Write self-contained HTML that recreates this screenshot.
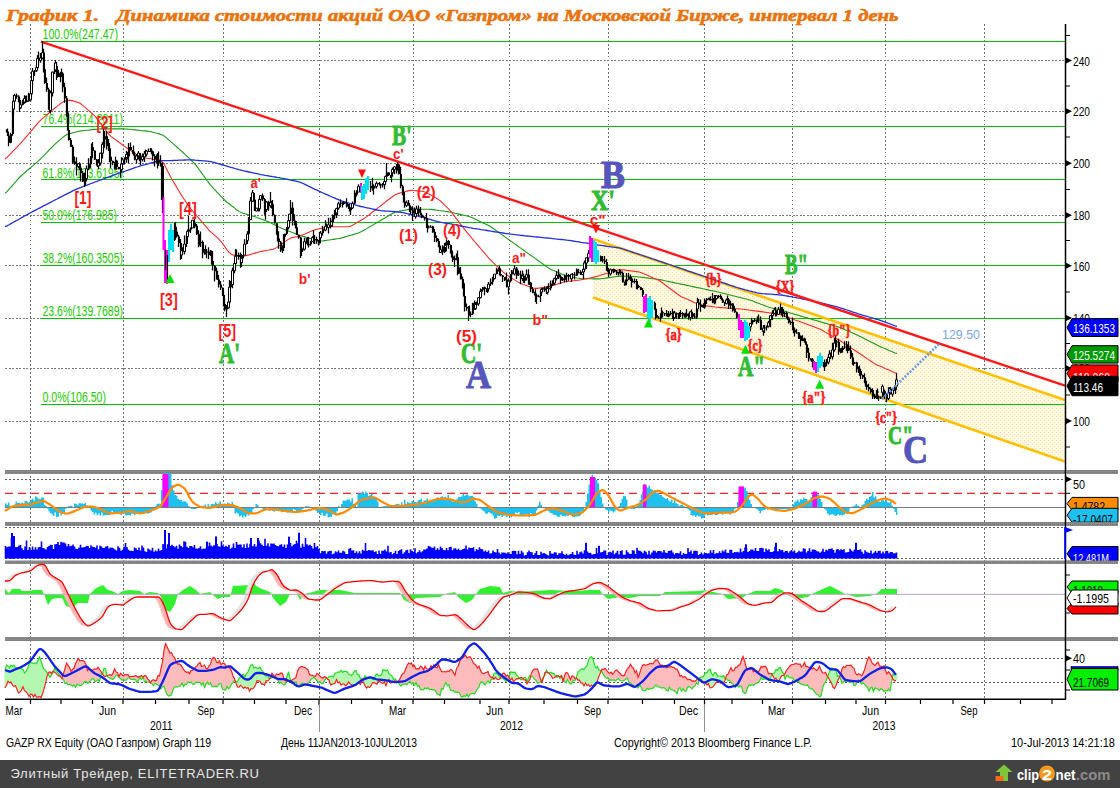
<!DOCTYPE html><html><head><meta charset="utf-8"><style>html,body{margin:0;padding:0;background:#fff;overflow:hidden}svg{display:block}</style></head><body>
<svg width="1120" height="788" viewBox="0 0 1120 788" shape-rendering="auto">
<defs><pattern id="dots" width="4" height="4" patternUnits="userSpaceOnUse"><rect width="4" height="4" fill="#fffbd8"/><rect x="0" y="0" width="1" height="1" fill="#ffcccc"/><rect x="2" y="2" width="1" height="1" fill="#ffd4ec"/></pattern><pattern id="gbar" width="2" height="2" patternUnits="userSpaceOnUse"><rect width="2" height="2" fill="#8a8a8a"/><rect width="1" height="1" fill="#777"/></pattern><pattern id="pinkp" width="2" height="2" patternUnits="userSpaceOnUse"><rect width="2" height="2" fill="#ffc8c8"/><rect width="1" height="1" fill="#ff9c9c"/></pattern><pattern id="greenp" width="2" height="2" patternUnits="userSpaceOnUse"><rect width="2" height="2" fill="#b8ffb0"/><rect width="1" height="1" fill="#88ee80"/></pattern></defs>
<rect width="1120" height="788" fill="#ffffff"/>
<text x="6.0" y="20.8" font-family='"Liberation Serif", serif' font-size="16.5" fill="#e8740e" font-weight="bold" font-style="italic" text-anchor="start" textLength="93.0" lengthAdjust="spacingAndGlyphs" stroke="#e8740e" stroke-width="0.6">График 1.</text>
<text x="116.5" y="20.8" font-family='"Liberation Serif", serif' font-size="16.5" fill="#e8740e" font-weight="bold" font-style="italic" text-anchor="start" textLength="782.0" lengthAdjust="spacingAndGlyphs" stroke="#e8740e" stroke-width="0.6">Динамика стоимости акций ОАО «Газпром» на Московской Бирже, интервал 1 день</text>
<line x1="30.5" y1="24" x2="30.5" y2="699" stroke="#707070" stroke-width="1" stroke-dasharray="1.5 2.5" shape-rendering="crispEdges"/><line x1="123.5" y1="24" x2="123.5" y2="699" stroke="#707070" stroke-width="1" stroke-dasharray="1.5 2.5" shape-rendering="crispEdges"/><line x1="223.5" y1="24" x2="223.5" y2="699" stroke="#707070" stroke-width="1" stroke-dasharray="1.5 2.5" shape-rendering="crispEdges"/><line x1="319.5" y1="24" x2="319.5" y2="699" stroke="#707070" stroke-width="1" stroke-dasharray="1.5 2.5" shape-rendering="crispEdges"/><line x1="413.5" y1="24" x2="413.5" y2="699" stroke="#707070" stroke-width="1" stroke-dasharray="1.5 2.5" shape-rendering="crispEdges"/><line x1="509.5" y1="24" x2="509.5" y2="699" stroke="#707070" stroke-width="1" stroke-dasharray="1.5 2.5" shape-rendering="crispEdges"/><line x1="608.5" y1="24" x2="608.5" y2="699" stroke="#707070" stroke-width="1" stroke-dasharray="1.5 2.5" shape-rendering="crispEdges"/><line x1="704.5" y1="24" x2="704.5" y2="699" stroke="#707070" stroke-width="1" stroke-dasharray="1.5 2.5" shape-rendering="crispEdges"/><line x1="792.5" y1="24" x2="792.5" y2="699" stroke="#707070" stroke-width="1" stroke-dasharray="1.5 2.5" shape-rendering="crispEdges"/><line x1="885.5" y1="24" x2="885.5" y2="699" stroke="#707070" stroke-width="1" stroke-dasharray="1.5 2.5" shape-rendering="crispEdges"/><line x1="984.5" y1="24" x2="984.5" y2="699" stroke="#707070" stroke-width="1" stroke-dasharray="1.5 2.5" shape-rendering="crispEdges"/><line x1="5" y1="60.5" x2="1065" y2="60.5" stroke="#7a7a7a" stroke-width="1" stroke-dasharray="2 1.5" shape-rendering="crispEdges"/><line x1="5" y1="111.5" x2="1065" y2="111.5" stroke="#7a7a7a" stroke-width="1" stroke-dasharray="2 1.5" shape-rendering="crispEdges"/><line x1="5" y1="163.5" x2="1065" y2="163.5" stroke="#7a7a7a" stroke-width="1" stroke-dasharray="2 1.5" shape-rendering="crispEdges"/><line x1="5" y1="215.5" x2="1065" y2="215.5" stroke="#7a7a7a" stroke-width="1" stroke-dasharray="2 1.5" shape-rendering="crispEdges"/><line x1="5" y1="265.5" x2="1065" y2="265.5" stroke="#7a7a7a" stroke-width="1" stroke-dasharray="2 1.5" shape-rendering="crispEdges"/><line x1="5" y1="318.5" x2="1065" y2="318.5" stroke="#7a7a7a" stroke-width="1" stroke-dasharray="2 1.5" shape-rendering="crispEdges"/><line x1="5" y1="368.5" x2="1065" y2="368.5" stroke="#7a7a7a" stroke-width="1" stroke-dasharray="2 1.5" shape-rendering="crispEdges"/><line x1="5" y1="421.5" x2="1065" y2="421.5" stroke="#7a7a7a" stroke-width="1" stroke-dasharray="2 1.5" shape-rendering="crispEdges"/><line x1="5" y1="479.5" x2="1065" y2="479.5" stroke="#5a5a5a" stroke-width="1" stroke-dasharray="2 2" shape-rendering="crispEdges"/><line x1="5" y1="527.5" x2="1065" y2="527.5" stroke="#5a5a5a" stroke-width="1" stroke-dasharray="2 2" shape-rendering="crispEdges"/><line x1="5" y1="558.5" x2="1065" y2="558.5" stroke="#5a5a5a" stroke-width="1" stroke-dasharray="2 2" shape-rendering="crispEdges"/><line x1="5" y1="658.5" x2="1065" y2="658.5" stroke="#5a5a5a" stroke-width="1" stroke-dasharray="2 2" shape-rendering="crispEdges"/><line x1="5" y1="682.5" x2="1065" y2="682.5" stroke="#5a5a5a" stroke-width="1" stroke-dasharray="2 2" shape-rendering="crispEdges"/>
<polygon points="593,238.9 1065,400 1065,461.6 593,297.6" fill="url(#dots)"/>
<line x1="41" y1="41.5" x2="1065" y2="41.5" stroke="#00c000" stroke-width="1.2" shape-rendering="crispEdges"/>
<text x="42.5" y="39.3" font-family='"Liberation Sans", sans-serif' font-size="14.8" fill="#22cc00" font-weight="normal" font-style="normal" text-anchor="start" textLength="75.5" lengthAdjust="spacingAndGlyphs" >100.0%(247.47)</text>
<line x1="41" y1="126.5" x2="1065" y2="126.5" stroke="#00c000" stroke-width="1.2" shape-rendering="crispEdges"/>
<text x="42.5" y="124.4" font-family='"Liberation Sans", sans-serif' font-size="14.8" fill="#22cc00" font-weight="normal" font-style="normal" text-anchor="start" textLength="80.5" lengthAdjust="spacingAndGlyphs" >76.4%(214.2011)</text>
<line x1="41" y1="179.5" x2="1065" y2="179.5" stroke="#00c000" stroke-width="1.2" shape-rendering="crispEdges"/>
<text x="42.5" y="177.6" font-family='"Liberation Sans", sans-serif' font-size="14.8" fill="#22cc00" font-weight="normal" font-style="normal" text-anchor="start" textLength="80.5" lengthAdjust="spacingAndGlyphs" >61.8%(193.6195)</text>
<line x1="41" y1="222.5" x2="1065" y2="222.5" stroke="#00c000" stroke-width="1.2" shape-rendering="crispEdges"/>
<text x="42.5" y="220.2" font-family='"Liberation Sans", sans-serif' font-size="14.8" fill="#22cc00" font-weight="normal" font-style="normal" text-anchor="start" textLength="74.5" lengthAdjust="spacingAndGlyphs" >50.0%(176.985)</text>
<line x1="41" y1="265.5" x2="1065" y2="265.5" stroke="#00c000" stroke-width="1.2" shape-rendering="crispEdges"/>
<text x="42.5" y="263.4" font-family='"Liberation Sans", sans-serif' font-size="14.8" fill="#22cc00" font-weight="normal" font-style="normal" text-anchor="start" textLength="80.5" lengthAdjust="spacingAndGlyphs" >38.2%(160.3505)</text>
<line x1="41" y1="318.5" x2="1065" y2="318.5" stroke="#00c000" stroke-width="1.2" shape-rendering="crispEdges"/>
<text x="42.5" y="316.2" font-family='"Liberation Sans", sans-serif' font-size="14.8" fill="#22cc00" font-weight="normal" font-style="normal" text-anchor="start" textLength="80.5" lengthAdjust="spacingAndGlyphs" >23.6%(139.7689)</text>
<line x1="41" y1="404.5" x2="1065" y2="404.5" stroke="#00c000" stroke-width="1.2" shape-rendering="crispEdges"/>
<text x="42.5" y="402.1" font-family='"Liberation Sans", sans-serif' font-size="14.8" fill="#22cc00" font-weight="normal" font-style="normal" text-anchor="start" textLength="63.5" lengthAdjust="spacingAndGlyphs" >0.0%(106.50)</text>
<line x1="593" y1="238.9" x2="1065" y2="400" stroke="#ffc000" stroke-width="2.6"/>
<line x1="593" y1="297.6" x2="1065" y2="461.6" stroke="#ffc000" stroke-width="2.6"/>
<path d="M5.0,193.4 L7.0,191.7 L9.0,189.4 L11.0,187.1 L13.0,184.8 L15.0,182.5 L17.0,180.2 L19.0,178.0 L21.0,176.0 L23.0,174.2 L25.0,172.5 L27.0,170.7 L29.0,169.0 L31.0,167.3 L33.0,165.6 L35.0,163.8 L37.0,162.1 L39.0,160.3 L41.0,158.4 L43.0,156.4 L45.0,154.3 L47.0,152.3 L49.0,150.2 L51.0,148.1 L53.0,146.1 L55.0,144.1 L57.0,142.3 L59.0,140.6 L61.0,138.9 L63.0,137.2 L65.0,135.7 L67.0,134.6 L69.0,133.9 L71.0,133.4 L73.0,132.8 L75.0,132.3 L77.0,131.8 L79.0,131.3 L81.0,130.9 L83.0,130.7 L85.0,130.5 L87.0,130.3 L89.0,130.1 L91.0,129.8 L93.0,129.6 L95.0,129.4 L97.0,129.2 L99.0,129.0 L101.0,128.9 L103.0,128.9 L105.0,128.9 L107.0,128.9 L109.0,128.9 L111.0,128.9 L113.0,128.9 L115.0,128.9 L117.0,128.9 L119.0,128.9 L121.0,128.9 L123.0,128.9 L125.0,129.0 L127.0,129.1 L129.0,129.3 L131.0,129.5 L133.0,129.7 L135.0,129.9 L137.0,130.1 L139.0,130.3 L141.0,130.5 L143.0,130.7 L145.0,130.9 L147.0,131.1 L149.0,131.3 L151.0,131.7 L153.0,132.2 L155.0,132.8 L157.0,133.3 L159.0,133.9 L161.0,134.4 L163.0,135.3 L165.0,136.7 L167.0,138.4 L169.0,140.2 L171.0,141.9 L173.0,143.6 L175.0,145.3 L177.0,147.0 L179.0,148.8 L181.0,150.6 L183.0,152.5 L185.0,154.4 L187.0,156.3 L189.0,158.2 L191.0,160.2 L193.0,162.1 L195.0,164.2 L197.0,166.7 L199.0,169.5 L201.0,172.2 L203.0,175.0 L205.0,177.7 L207.0,180.5 L209.0,183.1 L211.0,185.6 L213.0,187.8 L215.0,189.9 L217.0,192.1 L219.0,194.2 L221.0,196.3 L223.0,198.5 L225.0,200.5 L227.0,202.2 L229.0,203.7 L231.0,205.3 L233.0,206.8 L235.0,208.4 L237.0,210.0 L239.0,211.4 L241.0,212.5 L243.0,213.2 L245.0,213.8 L247.0,214.4 L249.0,214.9 L251.0,215.5 L253.0,216.1 L255.0,216.7 L257.0,217.5 L259.0,218.2 L261.0,219.0 L263.0,219.8 L265.0,220.6 L267.0,221.3 L269.0,222.1 L271.0,223.0 L273.0,224.0 L275.0,224.9 L277.0,225.9 L279.0,226.9 L281.0,227.9 L283.0,228.8 L285.0,229.7 L287.0,230.6 L289.0,231.3 L291.0,232.1 L293.0,232.8 L295.0,233.6 L297.0,234.4 L299.0,235.1 L301.0,235.8 L303.0,236.4 L305.0,236.9 L307.0,237.5 L309.0,238.1 L311.0,238.7 L313.0,239.3 L315.0,239.9 L317.0,240.4 L319.0,240.9 L321.0,241.0 L323.0,240.9 L325.0,240.6 L327.0,240.3 L329.0,240.0 L331.0,239.7 L333.0,239.4 L335.0,239.1 L337.0,238.8 L339.0,238.5 L341.0,238.1 L343.0,237.5 L345.0,236.9 L347.0,236.3 L349.0,235.7 L351.0,235.2 L353.0,234.6 L355.0,234.0 L357.0,233.4 L359.0,232.7 L361.0,231.8 L363.0,230.7 L365.0,229.6 L367.0,228.4 L369.0,227.2 L371.0,226.1 L373.0,224.9 L375.0,223.7 L377.0,222.6 L379.0,221.4 L381.0,220.2 L383.0,219.0 L385.0,217.9 L387.0,216.7 L389.0,215.5 L391.0,214.3 L393.0,213.2 L395.0,212.2 L397.0,211.6 L399.0,211.3 L401.0,210.9 L403.0,210.5 L405.0,210.1 L407.0,209.8 L409.0,209.4 L411.0,209.2 L413.0,209.2 L415.0,209.2 L417.0,209.2 L419.0,209.2 L421.0,209.2 L423.0,209.2 L425.0,209.2 L427.0,209.2 L429.0,209.2 L431.0,209.4 L433.0,209.6 L435.0,209.9 L437.0,210.2 L439.0,210.5 L441.0,210.7 L443.0,211.0 L445.0,211.3 L447.0,211.6 L449.0,211.9 L451.0,212.3 L453.0,212.7 L455.0,213.2 L457.0,213.6 L459.0,214.1 L461.0,214.6 L463.0,215.1 L465.0,215.5 L467.0,216.0 L469.0,216.5 L471.0,217.2 L473.0,218.1 L475.0,219.1 L477.0,220.0 L479.0,221.0 L481.0,221.9 L483.0,222.9 L485.0,223.8 L487.0,224.8 L489.0,225.8 L491.0,227.0 L493.0,228.3 L495.0,229.8 L497.0,231.2 L499.0,232.6 L501.0,234.1 L503.0,235.5 L505.0,236.9 L507.0,238.4 L509.0,239.8 L511.0,241.2 L513.0,242.6 L515.0,244.1 L517.0,245.5 L519.0,246.9 L521.0,248.4 L523.0,249.8 L525.0,251.2 L527.0,252.7 L529.0,254.1 L531.0,255.5 L533.0,256.9 L535.0,258.4 L537.0,259.8 L539.0,261.2 L541.0,262.6 L543.0,264.0 L545.0,265.5 L547.0,266.9 L549.0,268.2 L551.0,269.4 L553.0,270.3 L555.0,271.1 L557.0,272.0 L559.0,272.8 L561.0,273.7 L563.0,274.5 L565.0,275.3 L567.0,275.8 L569.0,276.3 L571.0,276.7 L573.0,277.1 L575.0,277.5 L577.0,278.0 L579.0,278.3 L581.0,278.6 L583.0,278.7 L585.0,278.7 L587.0,278.7 L589.0,278.8 L591.0,278.8 L593.0,278.9 L595.0,278.9 L597.0,278.9 L599.0,278.9 L601.0,278.8 L603.0,278.5 L605.0,278.2 L607.0,277.9 L609.0,277.6 L611.0,277.3 L613.0,277.0 L615.0,276.7 L617.0,276.4 L619.0,276.1 L621.0,276.0 L623.0,276.1 L625.0,276.2 L627.0,276.3 L629.0,276.4 L631.0,276.5 L633.0,276.6 L635.0,276.7 L637.0,276.8 L639.0,277.0 L641.0,277.2 L643.0,277.4 L645.0,277.7 L647.0,277.9 L649.0,278.2 L651.0,278.5 L653.0,278.8 L655.0,279.0 L657.0,279.3 L659.0,279.6 L661.0,279.9 L663.0,280.3 L665.0,280.8 L667.0,281.2 L669.0,281.6 L671.0,282.0 L673.0,282.4 L675.0,282.9 L677.0,283.3 L679.0,283.7 L681.0,284.1 L683.0,284.5 L685.0,284.9 L687.0,285.4 L689.0,285.8 L691.0,286.2 L693.0,286.6 L695.0,287.1 L697.0,287.5 L699.0,287.9 L701.0,288.3 L703.0,288.8 L705.0,289.2 L707.0,289.6 L709.0,290.1 L711.0,290.5 L713.0,290.9 L715.0,291.3 L717.0,291.8 L719.0,292.2 L721.0,292.7 L723.0,293.2 L725.0,293.7 L727.0,294.2 L729.0,294.7 L731.0,295.2 L733.0,295.7 L735.0,296.2 L737.0,296.7 L739.0,297.2 L741.0,297.7 L743.0,298.2 L745.0,298.7 L747.0,299.2 L749.0,299.8 L751.0,300.4 L753.0,301.1 L755.0,301.9 L757.0,302.7 L759.0,303.4 L761.0,304.2 L763.0,304.9 L765.0,305.7 L767.0,306.5 L769.0,307.2 L771.0,307.8 L773.0,308.3 L775.0,308.8 L777.0,309.3 L779.0,309.8 L781.0,310.3 L783.0,310.9 L785.0,311.4 L787.0,312.0 L789.0,312.6 L791.0,313.2 L793.0,313.8 L795.0,314.4 L797.0,314.9 L799.0,315.5 L801.0,316.1 L803.0,316.7 L805.0,317.3 L807.0,317.9 L809.0,318.5 L811.0,319.0 L813.0,319.6 L815.0,320.2 L817.0,320.8 L819.0,321.4 L821.0,322.0 L823.0,322.6 L825.0,323.1 L827.0,323.7 L829.0,324.3 L831.0,324.9 L833.0,325.5 L835.0,326.0 L837.0,326.6 L839.0,327.2 L841.0,328.0 L843.0,328.8 L845.0,329.7 L847.0,330.6 L849.0,331.5 L851.0,332.3 L853.0,333.2 L855.0,334.1 L857.0,335.0 L859.0,335.9 L861.0,336.8 L863.0,337.8 L865.0,338.9 L867.0,339.9 L869.0,340.9 L871.0,341.9 L873.0,342.9 L875.0,343.9 L877.0,345.0 L879.0,346.0 L881.0,346.9 L883.0,347.8 L885.0,348.6 L887.0,349.5 L889.0,350.4 L891.0,351.2 L893.0,352.1 L895.0,352.9 L897.0,353.6" fill="none" stroke="#1a9a1a" stroke-width="1.1"/>
<path d="M5.0,159.0 L7.0,157.4 L9.0,155.4 L11.0,153.3 L13.0,151.2 L15.0,149.2 L17.0,147.1 L19.0,145.0 L21.0,142.8 L23.0,140.5 L25.0,138.2 L27.0,135.8 L29.0,133.5 L31.0,131.1 L33.0,128.8 L35.0,126.4 L37.0,124.1 L39.0,121.9 L41.0,119.8 L43.0,118.1 L45.0,116.4 L47.0,114.7 L49.0,113.0 L51.0,111.4 L53.0,109.7 L55.0,108.0 L57.0,106.4 L59.0,104.9 L61.0,103.3 L63.0,101.9 L65.0,101.0 L67.0,100.5 L69.0,100.3 L71.0,100.4 L73.0,100.9 L75.0,101.5 L77.0,102.1 L79.0,102.8 L81.0,104.0 L83.0,105.6 L85.0,107.3 L87.0,109.1 L89.0,110.8 L91.0,112.5 L93.0,114.3 L95.0,116.2 L97.0,118.6 L99.0,121.3 L101.0,123.9 L103.0,126.6 L105.0,129.2 L107.0,131.8 L109.0,134.3 L111.0,136.4 L113.0,138.0 L115.0,139.4 L117.0,140.8 L119.0,142.3 L121.0,143.7 L123.0,145.2 L125.0,146.6 L127.0,148.0 L129.0,149.4 L131.0,150.8 L133.0,152.1 L135.0,153.5 L137.0,154.9 L139.0,156.2 L141.0,157.0 L143.0,157.5 L145.0,157.8 L147.0,158.2 L149.0,158.5 L151.0,158.8 L153.0,159.2 L155.0,159.5 L157.0,159.6 L159.0,159.8 L161.0,160.4 L163.0,162.5 L165.0,165.9 L167.0,169.9 L169.0,173.8 L171.0,177.5 L173.0,181.0 L175.0,184.4 L177.0,187.8 L179.0,191.2 L181.0,194.4 L183.0,197.5 L185.0,200.5 L187.0,203.5 L189.0,206.4 L191.0,209.1 L193.0,211.5 L195.0,213.8 L197.0,216.1 L199.0,218.4 L201.0,220.8 L203.0,223.1 L205.0,225.4 L207.0,227.8 L209.0,230.1 L211.0,232.1 L213.0,233.9 L215.0,235.7 L217.0,237.4 L219.0,239.3 L221.0,241.5 L223.0,244.2 L225.0,247.0 L227.0,249.8 L229.0,252.3 L231.0,254.0 L233.0,254.9 L235.0,255.4 L237.0,255.9 L239.0,256.0 L241.0,256.0 L243.0,256.0 L245.0,255.9 L247.0,255.4 L249.0,254.9 L251.0,254.3 L253.0,253.7 L255.0,253.1 L257.0,252.6 L259.0,252.0 L261.0,251.5 L263.0,251.1 L265.0,250.7 L267.0,250.3 L269.0,250.0 L271.0,249.6 L273.0,249.2 L275.0,248.5 L277.0,247.4 L279.0,245.9 L281.0,244.5 L283.0,243.0 L285.0,241.6 L287.0,240.2 L289.0,238.9 L291.0,237.9 L293.0,237.4 L295.0,237.0 L297.0,236.6 L299.0,236.1 L301.0,235.5 L303.0,234.7 L305.0,233.9 L307.0,233.0 L309.0,232.2 L311.0,231.3 L313.0,230.5 L315.0,229.7 L317.0,229.2 L319.0,228.8 L321.0,228.4 L323.0,228.1 L325.0,227.7 L327.0,227.3 L329.0,226.9 L331.0,226.7 L333.0,226.7 L335.0,226.7 L337.0,226.7 L339.0,226.7 L341.0,226.7 L343.0,226.7 L345.0,226.7 L347.0,226.7 L349.0,226.6 L351.0,226.0 L353.0,225.0 L355.0,223.8 L357.0,222.6 L359.0,221.5 L361.0,220.3 L363.0,219.2 L365.0,217.9 L367.0,216.4 L369.0,214.9 L371.0,213.3 L373.0,211.8 L375.0,210.2 L377.0,208.6 L379.0,207.1 L381.0,205.5 L383.0,204.0 L385.0,202.4 L387.0,200.8 L389.0,199.3 L391.0,197.7 L393.0,196.2 L395.0,194.8 L397.0,194.0 L399.0,193.4 L401.0,192.8 L403.0,192.3 L405.0,191.7 L407.0,191.1 L409.0,190.6 L411.0,190.4 L413.0,190.5 L415.0,190.7 L417.0,190.9 L419.0,191.1 L421.0,191.3 L423.0,191.5 L425.0,191.9 L427.0,192.9 L429.0,194.0 L431.0,195.2 L433.0,196.3 L435.0,197.5 L437.0,198.7 L439.0,199.9 L441.0,201.5 L443.0,203.4 L445.0,205.4 L447.0,207.3 L449.0,209.4 L451.0,211.7 L453.0,214.3 L455.0,216.9 L457.0,219.6 L459.0,222.2 L461.0,224.8 L463.0,227.4 L465.0,229.8 L467.0,232.3 L469.0,234.7 L471.0,237.1 L473.0,239.6 L475.0,242.0 L477.0,244.3 L479.0,246.7 L481.0,249.0 L483.0,251.3 L485.0,253.7 L487.0,256.0 L489.0,258.3 L491.0,260.4 L493.0,262.4 L495.0,264.3 L497.0,266.2 L499.0,268.1 L501.0,270.0 L503.0,271.9 L505.0,273.6 L507.0,275.1 L509.0,276.3 L511.0,277.6 L513.0,278.9 L515.0,280.1 L517.0,281.4 L519.0,282.6 L521.0,283.6 L523.0,284.4 L525.0,285.1 L527.0,285.8 L529.0,286.5 L531.0,287.3 L533.0,288.0 L535.0,288.4 L537.0,288.4 L539.0,288.1 L541.0,287.8 L543.0,287.5 L545.0,287.2 L547.0,286.9 L549.0,286.6 L551.0,286.1 L553.0,285.5 L555.0,284.9 L557.0,284.3 L559.0,283.6 L561.0,283.0 L563.0,282.3 L565.0,281.8 L567.0,281.5 L569.0,281.2 L571.0,281.0 L573.0,280.8 L575.0,280.6 L577.0,280.3 L579.0,280.1 L581.0,279.8 L583.0,279.4 L585.0,279.0 L587.0,278.6 L589.0,278.2 L591.0,277.8 L593.0,277.4 L595.0,276.9 L597.0,276.4 L599.0,275.7 L601.0,275.1 L603.0,274.4 L605.0,273.8 L607.0,273.2 L609.0,272.5 L611.0,271.9 L613.0,271.4 L615.0,270.9 L617.0,270.3 L619.0,269.9 L621.0,269.7 L623.0,269.9 L625.0,270.1 L627.0,270.4 L629.0,270.6 L631.0,270.9 L633.0,271.1 L635.0,271.4 L637.0,271.6 L639.0,272.0 L641.0,272.5 L643.0,273.4 L645.0,274.2 L647.0,275.1 L649.0,276.1 L651.0,277.0 L653.0,277.9 L655.0,278.8 L657.0,279.6 L659.0,280.6 L661.0,281.8 L663.0,283.2 L665.0,284.8 L667.0,286.2 L669.0,287.8 L671.0,289.2 L673.0,290.8 L675.0,292.2 L677.0,293.8 L679.0,295.2 L681.0,296.4 L683.0,297.4 L685.0,298.2 L687.0,299.1 L689.0,300.1 L691.0,301.0 L693.0,301.9 L695.0,302.8 L697.0,303.6 L699.0,304.5 L701.0,305.0 L703.0,305.4 L705.0,305.6 L707.0,305.9 L709.0,306.2 L711.0,306.4 L713.0,306.7 L715.0,307.0 L717.0,307.2 L719.0,307.5 L721.0,307.6 L723.0,307.8 L725.0,307.9 L727.0,308.1 L729.0,308.2 L731.0,308.3 L733.0,308.4 L735.0,308.6 L737.0,308.7 L739.0,308.9 L741.0,309.0 L743.0,309.3 L745.0,309.5 L747.0,309.8 L749.0,310.1 L751.0,310.3 L753.0,310.6 L755.0,310.9 L757.0,311.1 L759.0,311.4 L761.0,311.6 L763.0,311.9 L765.0,312.2 L767.0,312.5 L769.0,312.8 L771.0,313.1 L773.0,313.4 L775.0,313.7 L777.0,314.0 L779.0,314.3 L781.0,314.8 L783.0,315.5 L785.0,316.2 L787.0,317.0 L789.0,317.7 L791.0,318.4 L793.0,319.1 L795.0,319.9 L797.0,320.6 L799.0,321.3 L801.0,322.1 L803.0,322.8 L805.0,323.5 L807.0,324.3 L809.0,325.0 L811.0,325.7 L813.0,326.4 L815.0,327.2 L817.0,327.9 L819.0,328.7 L821.0,329.6 L823.0,330.7 L825.0,331.9 L827.0,333.1 L829.0,334.2 L831.0,335.4 L833.0,336.5 L835.0,337.7 L837.0,338.9 L839.0,340.0 L841.0,341.3 L843.0,342.6 L845.0,343.9 L847.0,345.2 L849.0,346.5 L851.0,347.9 L853.0,349.2 L855.0,350.5 L857.0,351.8 L859.0,353.1 L861.0,354.5 L863.0,355.8 L865.0,357.2 L867.0,358.6 L869.0,359.9 L871.0,361.3 L873.0,362.6 L875.0,363.9 L877.0,364.9 L879.0,365.7 L881.0,366.6 L883.0,367.5 L885.0,368.4 L887.0,369.2 L889.0,370.1 L891.0,371.0 L893.0,371.9 L895.0,372.7 L897.0,373.4" fill="none" stroke="#ff2a2a" stroke-width="1.1"/>
<path d="M5.0,226.7 L7.0,225.9 L9.0,224.8 L11.0,223.6 L13.0,222.5 L15.0,221.4 L17.0,220.3 L19.0,219.2 L21.0,218.0 L23.0,216.9 L25.0,215.8 L27.0,214.7 L29.0,213.6 L31.0,212.5 L33.0,211.4 L35.0,210.4 L37.0,209.4 L39.0,208.3 L41.0,207.3 L43.0,206.2 L45.0,205.2 L47.0,204.2 L49.0,203.1 L51.0,202.1 L53.0,201.0 L55.0,200.0 L57.0,199.0 L59.0,197.9 L61.0,196.9 L63.0,195.9 L65.0,194.8 L67.0,193.8 L69.0,192.8 L71.0,191.8 L73.0,190.7 L75.0,189.8 L77.0,188.9 L79.0,188.2 L81.0,187.4 L83.0,186.6 L85.0,185.8 L87.0,185.1 L89.0,184.3 L91.0,183.5 L93.0,182.8 L95.0,182.0 L97.0,181.3 L99.0,180.5 L101.0,179.8 L103.0,179.0 L105.0,178.3 L107.0,177.6 L109.0,176.8 L111.0,176.1 L113.0,175.3 L115.0,174.6 L117.0,173.9 L119.0,173.2 L121.0,172.5 L123.0,171.8 L125.0,171.2 L127.0,170.5 L129.0,169.8 L131.0,169.1 L133.0,168.4 L135.0,167.7 L137.0,167.0 L139.0,166.4 L141.0,165.7 L143.0,165.2 L145.0,164.7 L147.0,164.1 L149.0,163.6 L151.0,163.0 L153.0,162.5 L155.0,161.9 L157.0,161.4 L159.0,160.9 L161.0,160.7 L163.0,160.6 L165.0,160.6 L167.0,160.6 L169.0,160.6 L171.0,160.6 L173.0,160.5 L175.0,160.4 L177.0,160.3 L179.0,160.2 L181.0,160.2 L183.0,160.1 L185.0,160.0 L187.0,159.9 L189.0,159.9 L191.0,159.9 L193.0,160.0 L195.0,160.2 L197.0,160.3 L199.0,160.5 L201.0,160.6 L203.0,160.8 L205.0,160.9 L207.0,161.1 L209.0,161.3 L211.0,161.6 L213.0,162.2 L215.0,162.7 L217.0,163.3 L219.0,163.9 L221.0,164.5 L223.0,165.0 L225.0,165.6 L227.0,166.2 L229.0,166.8 L231.0,167.4 L233.0,167.9 L235.0,168.5 L237.0,169.1 L239.0,169.7 L241.0,170.2 L243.0,170.7 L245.0,171.1 L247.0,171.5 L249.0,172.0 L251.0,172.4 L253.0,172.9 L255.0,173.3 L257.0,173.7 L259.0,174.2 L261.0,174.6 L263.0,174.9 L265.0,175.3 L267.0,175.6 L269.0,176.0 L271.0,176.3 L273.0,176.7 L275.0,177.0 L277.0,177.4 L279.0,177.7 L281.0,178.1 L283.0,178.4 L285.0,178.8 L287.0,179.2 L289.0,179.7 L291.0,180.1 L293.0,180.5 L295.0,180.9 L297.0,181.4 L299.0,181.9 L301.0,182.6 L303.0,183.5 L305.0,184.4 L307.0,185.4 L309.0,186.4 L311.0,187.3 L313.0,188.3 L315.0,189.3 L317.0,190.2 L319.0,191.2 L321.0,192.1 L323.0,193.0 L325.0,193.9 L327.0,194.7 L329.0,195.6 L331.0,196.5 L333.0,197.4 L335.0,198.2 L337.0,199.1 L339.0,199.9 L341.0,200.7 L343.0,201.3 L345.0,201.9 L347.0,202.5 L349.0,203.1 L351.0,203.6 L353.0,204.2 L355.0,204.8 L357.0,205.4 L359.0,206.0 L361.0,206.5 L363.0,206.9 L365.0,207.4 L367.0,207.8 L369.0,208.2 L371.0,208.7 L373.0,209.1 L375.0,209.5 L377.0,210.0 L379.0,210.3 L381.0,210.6 L383.0,210.8 L385.0,211.0 L387.0,211.1 L389.0,211.2 L391.0,211.4 L393.0,211.5 L395.0,211.6 L397.0,211.8 L399.0,212.0 L401.0,212.3 L403.0,212.7 L405.0,213.1 L407.0,213.6 L409.0,214.0 L411.0,214.5 L413.0,214.9 L415.0,215.4 L417.0,215.8 L419.0,216.3 L421.0,216.8 L423.0,217.4 L425.0,217.9 L427.0,218.5 L429.0,219.1 L431.0,219.7 L433.0,220.3 L435.0,220.9 L437.0,221.4 L439.0,222.0 L441.0,222.4 L443.0,222.7 L445.0,223.0 L447.0,223.3 L449.0,223.6 L451.0,223.9 L453.0,224.3 L455.0,224.7 L457.0,225.1 L459.0,225.5 L461.0,226.0 L463.0,226.4 L465.0,226.8 L467.0,227.2 L469.0,227.6 L471.0,227.9 L473.0,228.3 L475.0,228.6 L477.0,228.9 L479.0,229.2 L481.0,229.6 L483.0,229.9 L485.0,230.2 L487.0,230.5 L489.0,230.8 L491.0,231.2 L493.0,231.5 L495.0,231.8 L497.0,232.1 L499.0,232.4 L501.0,232.7 L503.0,233.0 L505.0,233.3 L507.0,233.6 L509.0,233.9 L511.0,234.2 L513.0,234.4 L515.0,234.7 L517.0,234.9 L519.0,235.1 L521.0,235.3 L523.0,235.5 L525.0,235.8 L527.0,236.0 L529.0,236.2 L531.0,236.4 L533.0,236.6 L535.0,236.8 L537.0,237.0 L539.0,237.2 L541.0,237.4 L543.0,237.6 L545.0,237.8 L547.0,238.0 L549.0,238.2 L551.0,238.4 L553.0,238.6 L555.0,238.9 L557.0,239.1 L559.0,239.3 L561.0,239.5 L563.0,239.7 L565.0,239.9 L567.0,240.2 L569.0,240.4 L571.0,240.7 L573.0,241.0 L575.0,241.3 L577.0,241.6 L579.0,241.9 L581.0,242.3 L583.0,242.6 L585.0,242.9 L587.0,243.2 L589.0,243.5 L591.0,243.9 L593.0,244.2 L595.0,244.5 L597.0,244.8 L599.0,245.1 L601.0,245.4 L603.0,245.7 L605.0,246.0 L607.0,246.3 L609.0,246.6 L611.0,246.9 L613.0,247.2 L615.0,247.4 L617.0,247.6 L619.0,247.9 L621.0,248.4 L623.0,249.0 L625.0,249.7 L627.0,250.3 L629.0,251.0 L631.0,251.7 L633.0,252.3 L635.0,253.0 L637.0,253.7 L639.0,254.3 L641.0,255.0 L643.0,255.7 L645.0,256.3 L647.0,257.0 L649.0,257.7 L651.0,258.3 L653.0,259.0 L655.0,259.7 L657.0,260.4 L659.0,261.1 L661.0,261.7 L663.0,262.4 L665.0,263.1 L667.0,263.8 L669.0,264.5 L671.0,265.1 L673.0,265.8 L675.0,266.5 L677.0,267.2 L679.0,267.9 L681.0,268.5 L683.0,269.2 L685.0,269.9 L687.0,270.6 L689.0,271.3 L691.0,271.9 L693.0,272.6 L695.0,273.3 L697.0,274.0 L699.0,274.7 L701.0,275.3 L703.0,276.0 L705.0,276.7 L707.0,277.4 L709.0,278.1 L711.0,278.7 L713.0,279.4 L715.0,280.1 L717.0,280.8 L719.0,281.4 L721.0,282.1 L723.0,282.8 L725.0,283.4 L727.0,284.1 L729.0,284.8 L731.0,285.5 L733.0,286.1 L735.0,286.8 L737.0,287.5 L739.0,288.1 L741.0,288.7 L743.0,289.2 L745.0,289.8 L747.0,290.2 L749.0,290.8 L751.0,291.2 L753.0,291.8 L755.0,292.2 L757.0,292.8 L759.0,293.2 L761.0,293.5 L763.0,293.7 L765.0,293.8 L767.0,294.0 L769.0,294.1 L771.0,294.2 L773.0,294.3 L775.0,294.5 L777.0,294.6 L779.0,294.8 L781.0,295.0 L783.0,295.3 L785.0,295.7 L787.0,296.0 L789.0,296.4 L791.0,296.7 L793.0,297.1 L795.0,297.4 L797.0,297.8 L799.0,298.1 L801.0,298.5 L803.0,299.0 L805.0,299.4 L807.0,299.8 L809.0,300.3 L811.0,300.7 L813.0,301.2 L815.0,301.6 L817.0,302.0 L819.0,302.5 L821.0,303.0 L823.0,303.4 L825.0,303.9 L827.0,304.4 L829.0,304.9 L831.0,305.4 L833.0,305.9 L835.0,306.4 L837.0,306.9 L839.0,307.5 L841.0,308.1 L843.0,308.7 L845.0,309.4 L847.0,310.0 L849.0,310.7 L851.0,311.4 L853.0,312.1 L855.0,312.7 L857.0,313.4 L859.0,314.1 L861.0,314.7 L863.0,315.3 L865.0,315.8 L867.0,316.4 L869.0,317.0 L871.0,317.6 L873.0,318.2 L875.0,318.8 L877.0,319.3 L879.0,319.9 L881.0,320.6 L883.0,321.3 L885.0,322.1 L887.0,322.8 L889.0,323.5 L891.0,324.3 L893.0,325.0 L895.0,325.8 L897.0,326.3" fill="none" stroke="#2030e0" stroke-width="1.3"/>
<line x1="41" y1="41.6" x2="1065" y2="385.7" stroke="#ff1a1a" stroke-width="2.4"/>
<path d="M6.5,129.2V132.4M7.5,128.4V136.1M8.5,133.9V146.3M10.5,132.7V143.3M12.5,106.1V135.8M13.5,95.2V115.2M14.5,93.8V102.2M16.5,93.6V98.8M18.5,95.2V102.3M19.5,98.0V112.1M20.5,102.1V109.1M22.5,99.7V105.6M24.5,95.2V103.7M25.5,95.7V102.9M26.5,95.4V102.2M28.5,92.8V101.7M30.5,90.9V101.7M31.5,75.4V96.7M32.5,68.0V85.6M34.5,70.1V75.9M36.5,65.4V72.1M37.5,55.2V69.5M38.5,51.5V65.8M40.5,52.9V62.7M42.5,41.6V59.3M43.5,48.7V72.6M44.5,68.7V83.8M46.5,77.4V91.8M48.5,87.7V109.8M49.5,100.9V112.3M50.5,90.5V113.4M52.5,71.4V96.4M54.5,62.7V74.0M55.5,60.0V72.1M56.5,62.0V80.0M58.5,69.7V77.1M60.5,72.1V82.2M61.5,68.5V75.9M62.5,72.3V92.2M64.5,82.8V102.8M66.5,96.1V116.5M67.5,111.4V130.5M68.5,128.0V140.5M70.5,137.9V146.8M72.5,144.8V163.7M73.5,155.1V162.7M74.5,158.2V165.0M76.5,157.3V175.6M78.5,162.9V168.0M79.5,162.2V170.1M80.5,165.9V181.6M82.5,171.1V181.9M84.5,172.7V187.0M85.5,171.9V185.0M86.5,165.5V181.6M88.5,158.2V170.1M90.5,156.0V168.0M91.5,143.5V163.3M92.5,142.1V151.4M94.5,150.3V160.1M96.5,159.0V165.5M97.5,161.5V167.0M98.5,158.9V169.1M100.5,152.7V165.4M102.5,142.0V158.6M103.5,129.0V151.1M104.5,131.0V144.0M106.5,131.0V149.5M108.5,139.1V151.0M109.5,145.1V162.3M110.5,156.2V167.9M112.5,160.6V165.2M114.5,161.7V169.4M115.5,156.8V169.4M116.5,160.1V169.7M118.5,166.7V169.4M120.5,168.0V177.7M121.5,157.3V172.5M122.5,157.7V163.8M124.5,157.3V164.5M126.5,150.8V162.8M127.5,152.1V159.5M128.5,143.0V163.3M130.5,142.5V150.0M132.5,149.9V153.7M133.5,145.4V155.4M134.5,151.7V160.2M136.5,153.9V163.3M138.5,151.0V159.4M139.5,153.1V161.2M140.5,154.2V165.0M142.5,153.5V161.5M144.5,151.1V162.1M145.5,149.6V155.5M146.5,149.9V156.4M148.5,148.5V152.0M150.5,148.0V152.1M151.5,148.3V154.3M152.5,150.5V160.6M154.5,154.3V166.5M156.5,154.6V163.3M157.5,153.1V168.5M158.5,151.4V165.9M160.5,155.2V166.5M162.5,162.4V212.9M174.5,223.0V241.0M175.5,221.9V239.0M176.5,229.1V237.6M178.5,234.8V247.0M180.5,238.9V259.8M181.5,243.8V258.9M182.5,247.3V255.1M184.5,235.5V254.6M186.5,234.6V247.0M187.5,229.6V238.2M188.5,216.0V232.7M190.5,227.6V232.9M192.5,220.2V228.3M193.5,220.2V222.9M194.5,218.0V228.3M196.5,224.1V234.9M198.5,230.3V247.2M199.5,235.9V245.8M200.5,231.4V247.0M202.5,240.4V258.3M204.5,249.0V254.8M205.5,245.2V254.6M206.5,249.0V258.3M208.5,247.3V259.3M210.5,250.1V256.1M211.5,250.6V264.8M212.5,251.0V270.6M214.5,265.3V281.5M216.5,267.6V279.4M217.5,270.8V280.1M218.5,274.9V287.6M220.5,281.1V289.9M222.5,287.6V296.0M223.5,290.8V306.4M224.5,298.1V311.2M226.5,305.1V317.0M228.5,301.8V308.8M229.5,279.9V304.1M230.5,281.0V287.9M232.5,267.6V288.2M234.5,263.3V273.2M235.5,249.0V267.7M236.5,249.4V256.4M238.5,252.5V259.8M240.5,252.4V267.8M241.5,254.0V266.9M242.5,255.2V260.1M244.5,239.2V255.3M246.5,239.2V244.4M247.5,231.3V241.8M248.5,217.0V234.8M250.5,197.1V219.8M252.5,190.0V201.8M253.5,192.0V201.4M254.5,197.3V211.1M256.5,207.7V211.3M258.5,207.1V211.5M259.5,197.9V211.5M260.5,195.1V201.4M262.5,193.5V200.9M264.5,197.9V214.7M265.5,205.0V219.8M266.5,201.1V211.9M268.5,200.8V210.8M270.5,192.0V207.8M271.5,200.7V208.5M272.5,200.1V216.2M274.5,214.3V223.4M276.5,223.2V234.7M277.5,229.2V241.4M278.5,231.6V248.8M280.5,241.1V252.1M282.5,245.3V253.1M283.5,234.1V251.0M284.5,233.7V239.5M286.5,227.1V235.0M288.5,216.2V229.4M289.5,214.1V223.9M290.5,200.0V221.1M292.5,202.2V225.6M294.5,214.3V225.6M295.5,220.7V228.5M296.5,222.9V235.0M298.5,234.7V238.8M300.5,236.7V258.0M301.5,246.7V256.0M302.5,248.7V252.0M304.5,237.8V250.6M306.5,237.9V243.8M307.5,237.1V245.3M308.5,236.8V247.4M310.5,240.8V245.8M312.5,236.2V241.6M313.5,230.2V243.5M314.5,235.0V244.1M316.5,236.5V243.8M318.5,240.0V245.4M319.5,232.1V243.4M320.5,231.0V238.1M322.5,225.8V235.6M324.5,227.1V230.6M325.5,220.2V231.2M326.5,223.5V227.7M328.5,217.7V233.4M330.5,217.8V228.5M331.5,220.5V226.7M332.5,214.4V226.4M334.5,209.7V219.2M336.5,207.7V218.0M337.5,207.4V215.5M338.5,201.7V209.7M340.5,199.6V207.3M342.5,202.0V207.6M343.5,201.2V205.1M344.5,202.3V203.9M346.5,198.3V207.5M348.5,204.0V208.9M349.5,204.1V211.5M350.5,207.3V214.9M352.5,201.5V209.0M354.5,190.3V203.7M355.5,192.8V199.0M356.5,190.2V195.9M358.5,184.2V192.1M360.5,185.8V189.7M370.5,180.9V192.1M372.5,177.7V190.8M373.5,184.2V194.7M374.5,185.7V188.5M376.5,181.4V188.4M378.5,183.1V184.0M379.5,182.0V185.5M380.5,183.9V188.5M382.5,182.9V187.4M384.5,180.4V189.3M385.5,175.4V184.2M386.5,163.0V181.2M388.5,172.3V176.0M390.5,174.9V177.9M391.5,172.6V182.3M392.5,167.4V176.8M394.5,166.5V174.2M396.5,164.0V173.4M397.5,162.0V170.7M398.5,164.0V174.5M400.5,166.7V188.3M402.5,184.7V195.2M403.5,190.2V202.6M404.5,197.0V207.7M406.5,200.6V207.0M408.5,200.1V205.4M409.5,203.5V212.0M410.5,206.1V213.9M412.5,206.3V221.1M414.5,207.5V216.8M415.5,210.8V218.8M416.5,205.8V214.0M418.5,205.6V215.9M420.5,206.9V215.6M421.5,213.4V218.3M422.5,214.9V216.9M424.5,216.7V220.5M426.5,213.1V227.9M427.5,218.0V232.4M428.5,226.5V228.6M430.5,225.3V227.1M432.5,225.8V232.7M433.5,226.6V232.5M434.5,230.5V242.0M436.5,235.4V242.3M438.5,238.6V247.2M439.5,244.4V253.0M440.5,247.2V253.0M442.5,245.2V255.0M444.5,243.0V253.0M445.5,242.6V251.2M446.5,239.3V246.1M448.5,240.0V248.7M450.5,244.5V253.5M451.5,249.6V257.5M452.5,252.5V262.1M454.5,255.6V267.1M456.5,253.5V260.2M457.5,250.4V275.3M458.5,266.0V273.7M460.5,266.9V279.4M462.5,276.5V288.5M463.5,281.5V296.4M464.5,295.6V311.4M466.5,303.5V310.7M468.5,305.9V321.0M469.5,305.4V315.7M470.5,311.6V317.3M472.5,302.7V315.1M474.5,300.5V309.7M475.5,302.0V310.0M476.5,301.5V305.3M478.5,297.2V305.7M480.5,288.4V298.5M481.5,289.2V294.3M482.5,287.0V291.4M484.5,286.4V295.2M486.5,288.2V291.8M487.5,288.0V293.0M488.5,282.1V290.4M490.5,278.5V286.0M492.5,276.8V284.7M493.5,274.7V279.3M494.5,274.0V279.1M496.5,267.7V274.6M498.5,268.1V271.5M499.5,265.7V275.6M500.5,273.8V276.2M502.5,274.9V281.9M504.5,276.9V281.1M505.5,276.8V280.3M506.5,272.4V287.4M508.5,278.3V294.4M510.5,274.1V282.6M511.5,270.0V280.8M512.5,270.4V271.6M514.5,265.0V275.4M516.5,267.0V279.1M517.5,269.9V275.7M518.5,273.5V276.1M520.5,270.8V284.3M522.5,270.6V281.1M523.5,273.4V283.0M524.5,275.7V283.2M526.5,269.5V280.5M528.5,269.2V284.8M529.5,281.8V285.0M530.5,282.3V292.0M532.5,287.2V293.3M534.5,291.7V295.4M535.5,289.2V301.9M536.5,293.5V304.0M538.5,294.7V297.1M540.5,289.2V302.0M541.5,288.1V293.6M542.5,287.8V292.2M544.5,286.2V291.8M546.5,286.5V294.0M547.5,286.3V294.6M548.5,283.3V288.7M550.5,280.4V290.6M552.5,280.2V286.0M553.5,279.0V284.5M554.5,277.6V284.9M556.5,271.2V280.4M558.5,269.3V279.0M559.5,273.9V277.6M560.5,274.7V283.9M562.5,277.0V280.9M564.5,274.4V282.6M565.5,275.9V279.8M566.5,272.7V282.3M568.5,274.0V280.7M570.5,276.0V279.0M571.5,274.1V282.0M572.5,272.9V274.7M574.5,272.2V279.6M576.5,268.4V276.0M577.5,269.3V274.6M578.5,268.8V272.6M580.5,270.2V275.0M582.5,271.7V274.7M583.5,268.9V278.9M584.5,260.4V271.1M586.5,257.4V269.1M588.5,250.3V261.8M600.5,255.6V261.4M601.5,256.3V261.1M602.5,255.9V262.6M604.5,256.1V263.9M606.5,259.1V270.8M607.5,269.1V271.7M608.5,267.7V276.9M610.5,268.4V275.4M612.5,269.1V271.1M613.5,268.5V273.3M614.5,269.3V272.3M616.5,270.1V275.0M618.5,271.7V275.5M619.5,269.1V272.8M620.5,269.9V275.1M622.5,271.4V282.6M624.5,281.4V285.8M625.5,279.6V285.2M626.5,273.0V284.0M628.5,272.9V279.7M630.5,274.6V281.1M631.5,278.1V287.4M632.5,279.7V282.6M634.5,278.4V283.4M636.5,278.9V289.2M637.5,284.5V289.4M638.5,284.7V287.9M640.5,286.8V290.2M642.5,288.1V296.7M654.5,301.6V309.7M655.5,307.6V319.4M656.5,313.9V317.7M658.5,316.3V317.9M660.5,313.2V321.5M661.5,307.4V318.2M662.5,310.8V317.6M664.5,313.0V315.9M666.5,310.1V316.3M667.5,314.5V316.8M668.5,311.0V317.3M670.5,311.1V315.5M672.5,308.8V319.0M673.5,312.1V321.0M674.5,311.1V319.0M676.5,312.4V319.0M678.5,313.1V319.0M679.5,311.9V319.0M680.5,310.0V315.8M682.5,312.3V319.1M684.5,313.2V317.8M685.5,312.7V317.8M686.5,308.9V317.6M688.5,313.3V319.8M690.5,311.3V320.4M691.5,309.5V317.1M692.5,312.5V319.0M694.5,312.9V318.5M696.5,308.7V319.0M697.5,297.7V312.1M698.5,299.1V307.5M700.5,299.5V311.8M702.5,305.1V307.4M703.5,303.3V307.8M704.5,298.5V308.7M706.5,298.1V304.1M708.5,297.7V299.6M709.5,297.5V300.6M710.5,296.3V300.8M712.5,293.0V303.3M714.5,295.0V304.3M715.5,295.0V303.4M716.5,295.4V299.6M718.5,295.0V298.2M720.5,294.2V299.0M721.5,296.4V300.2M722.5,299.4V302.9M724.5,301.7V306.0M726.5,298.6V304.6M727.5,295.4V302.1M728.5,298.1V308.9M730.5,300.7V308.9M732.5,303.2V311.8M733.5,304.9V310.5M734.5,308.2V312.7M736.5,311.5V318.6M738.5,315.1V323.0M750.5,323.2V331.3M751.5,317.7V323.5M752.5,319.7V324.6M754.5,318.1V322.1M756.5,319.6V324.0M757.5,316.4V322.3M758.5,314.6V322.9M760.5,316.4V330.0M762.5,329.3V331.7M763.5,325.1V335.7M764.5,325.0V332.9M766.5,325.5V330.4M768.5,321.0V327.4M769.5,318.2V325.3M770.5,315.6V327.3M772.5,310.3V319.9M774.5,307.7V314.3M775.5,307.0V316.4M776.5,311.1V316.2M778.5,307.0V315.0M780.5,303.6V313.5M781.5,307.0V315.4M782.5,307.0V317.3M784.5,311.9V316.9M786.5,311.4V318.3M787.5,316.6V320.0M788.5,317.9V323.5M790.5,320.5V324.8M792.5,317.5V330.2M793.5,327.2V333.2M794.5,327.6V336.5M796.5,328.9V333.6M798.5,332.0V338.9M799.5,333.0V339.0M800.5,335.5V346.5M802.5,335.2V341.3M804.5,337.7V342.8M805.5,341.3V344.7M806.5,344.2V358.0M808.5,347.8V361.6M810.5,358.2V360.4M811.5,359.3V361.8M812.5,358.0V367.6M823.5,362.0V367.2M824.5,359.5V371.0M826.5,359.1V366.3M828.5,354.3V364.3M829.5,350.3V360.7M830.5,352.4V358.9M832.5,342.7V359.6M834.5,338.0V351.8M835.5,336.0V345.6M836.5,340.1V347.2M838.5,338.7V354.8M840.5,348.2V353.2M841.5,347.7V352.4M842.5,345.9V352.3M844.5,341.2V349.1M846.5,341.1V351.1M847.5,344.3V353.2M848.5,341.6V351.1M850.5,345.6V359.1M852.5,352.9V364.8M853.5,359.5V365.7M854.5,362.1V363.2M856.5,361.7V372.4M858.5,366.6V373.1M859.5,365.6V375.7M860.5,368.7V378.9M862.5,374.4V379.0M864.5,373.2V383.2M865.5,378.0V386.8M866.5,384.1V389.7M868.5,383.8V391.5M870.5,387.4V393.6M871.5,390.6V391.5M872.5,388.2V399.0M874.5,393.8V398.9M876.5,390.1V399.0M877.5,388.5V399.0M878.5,395.6V401.0M880.5,396.2V399.0M882.5,384.4V399.0M883.5,392.1V396.5M884.5,389.6V399.0M886.5,393.3V402.2M888.5,387.2V399.9M889.5,387.2V393.2M890.5,386.9V394.3M892.5,389.8V396.8M894.5,386.1V390.3M895.5,385.1V394.0M896.5,373.2V387.7" stroke="#000" stroke-width="1.25" fill="none"/>
<path d="M6,131.0h2v1.0h-2ZM7,131.6h2v3.7h-2ZM8,135.4h2v7.3h-2ZM10,134.1h2v8.6h-2ZM12,109.1h2v24.9h-2ZM16,95.5h2v1.1h-2ZM18,96.6h2v3.4h-2ZM19,99.9h2v7.9h-2ZM22,101.9h2v2.8h-2ZM25,98.5h2v3.5h-2ZM26,100.6h2v1.4h-2ZM28,99.9h2v1.0h-2ZM34,70.5h2v1.0h-2ZM38,58.6h2v2.0h-2ZM43,52.6h2v16.6h-2ZM44,69.2h2v13.8h-2ZM46,83.0h2v6.6h-2ZM48,89.6h2v14.7h-2ZM49,104.3h2v6.2h-2ZM54,68.3h2v3.8h-2ZM56,66.0h2v11.7h-2ZM58,73.3h2v3.7h-2ZM60,75.4h2v1.6h-2ZM61,73.4h2v2.0h-2ZM62,73.4h2v13.9h-2ZM64,87.2h2v11.1h-2ZM66,98.3h2v14.3h-2ZM67,112.6h2v17.4h-2ZM68,130.0h2v9.9h-2ZM70,139.9h2v7.0h-2ZM72,146.8h2v9.8h-2ZM73,156.6h2v4.8h-2ZM74,161.4h2v2.4h-2ZM76,163.8h2v2.8h-2ZM79,163.8h2v4.0h-2ZM80,167.8h2v5.3h-2ZM82,173.1h2v8.5h-2ZM84,173.0h2v2.5h-2ZM85,175.4h2v5.5h-2ZM88,164.2h2v4.6h-2ZM90,158.2h2v6.0h-2ZM91,147.3h2v10.9h-2ZM92,147.3h2v3.5h-2ZM94,150.8h2v8.7h-2ZM96,159.5h2v5.7h-2ZM97,165.2h2v1.0h-2ZM103,133.2h2v14.6h-2ZM104,136.2h2v3.4h-2ZM106,136.2h2v10.1h-2ZM108,143.1h2v5.1h-2ZM109,148.3h2v8.5h-2ZM110,156.8h2v4.1h-2ZM112,160.9h2v2.2h-2ZM114,163.1h2v1.1h-2ZM115,160.8h2v3.4h-2ZM116,160.8h2v6.3h-2ZM118,167.1h2v1.9h-2ZM120,168.9h2v1.0h-2ZM124,157.5h2v2.3h-2ZM127,154.5h2v1.9h-2ZM128,146.9h2v9.6h-2ZM130,146.9h2v3.1h-2ZM132,150.0h2v1.7h-2ZM133,151.7h2v3.5h-2ZM134,155.2h2v4.3h-2ZM139,153.1h2v5.3h-2ZM140,158.4h2v1.1h-2ZM145,153.8h2v1.0h-2ZM148,151.1h2v1.0h-2ZM150,151.1h2v1.0h-2ZM151,151.1h2v1.0h-2ZM152,151.6h2v4.3h-2ZM154,155.9h2v3.2h-2ZM156,159.2h2v3.1h-2ZM157,160.0h2v2.3h-2ZM158,160.0h2v2.7h-2ZM160,162.7h2v3.3h-2ZM162,166.0h2v43.2h-2ZM174,227.1h2v12.6h-2ZM175,227.1h2v4.6h-2ZM176,231.8h2v4.6h-2ZM178,236.4h2v6.7h-2ZM180,243.1h2v11.9h-2ZM182,250.6h2v1.0h-2ZM186,236.7h2v7.4h-2ZM188,229.6h2v1.8h-2ZM190,227.8h2v1.8h-2ZM193,220.2h2v2.1h-2ZM194,223.0h2v3.6h-2ZM196,225.8h2v8.4h-2ZM198,234.2h2v5.5h-2ZM199,239.7h2v3.2h-2ZM200,241.9h2v1.0h-2ZM202,241.9h2v10.9h-2ZM204,251.1h2v1.7h-2ZM205,251.1h2v1.0h-2ZM206,251.4h2v1.0h-2ZM208,251.4h2v3.5h-2ZM210,253.0h2v1.9h-2ZM211,253.0h2v8.1h-2ZM212,261.1h2v4.5h-2ZM214,265.7h2v5.5h-2ZM216,271.1h2v4.4h-2ZM217,275.5h2v3.9h-2ZM218,279.4h2v5.1h-2ZM220,284.5h2v3.3h-2ZM222,287.8h2v7.3h-2ZM223,295.0h2v8.9h-2ZM224,303.9h2v5.6h-2ZM226,307.9h2v1.6h-2ZM230,284.5h2v2.7h-2ZM236,255.0h2v1.3h-2ZM238,255.0h2v2.0h-2ZM240,257.0h2v5.6h-2ZM242,255.2h2v3.0h-2ZM246,240.4h2v3.7h-2ZM248,219.7h2v14.4h-2ZM253,193.0h2v7.1h-2ZM254,199.8h2v11.2h-2ZM258,208.3h2v1.0h-2ZM262,195.6h2v3.7h-2ZM264,199.2h2v11.1h-2ZM265,209.5h2v1.0h-2ZM268,202.1h2v3.6h-2ZM271,202.7h2v1.5h-2ZM272,204.2h2v11.0h-2ZM274,215.2h2v8.1h-2ZM276,223.3h2v8.2h-2ZM277,231.5h2v7.0h-2ZM278,238.5h2v3.6h-2ZM280,242.2h2v8.3h-2ZM282,248.1h2v2.3h-2ZM283,236.8h2v11.3h-2ZM284,233.7h2v3.1h-2ZM286,227.3h2v6.4h-2ZM290,207.7h2v6.4h-2ZM292,207.7h2v13.0h-2ZM294,220.7h2v1.0h-2ZM295,220.9h2v6.3h-2ZM296,227.2h2v7.7h-2ZM298,234.9h2v2.7h-2ZM300,237.6h2v11.4h-2ZM301,248.6h2v1.1h-2ZM302,249.2h2v1.0h-2ZM306,240.0h2v1.6h-2ZM307,240.0h2v5.3h-2ZM308,244.2h2v1.1h-2ZM310,241.4h2v2.8h-2ZM313,237.7h2v2.2h-2ZM314,239.1h2v1.0h-2ZM316,239.1h2v2.1h-2ZM318,241.2h2v2.1h-2ZM319,237.7h2v5.6h-2ZM322,229.3h2v3.8h-2ZM324,229.3h2v1.0h-2ZM326,226.3h2v1.3h-2ZM330,224.8h2v1.0h-2ZM332,215.1h2v6.8h-2ZM334,212.8h2v2.2h-2ZM337,208.1h2v1.0h-2ZM340,202.7h2v1.0h-2ZM342,202.7h2v1.0h-2ZM343,202.8h2v1.0h-2ZM344,202.6h2v1.0h-2ZM346,202.6h2v3.8h-2ZM348,206.4h2v2.4h-2ZM349,208.7h2v1.6h-2ZM350,207.9h2v2.4h-2ZM354,196.3h2v7.2h-2ZM355,194.5h2v1.9h-2ZM356,192.1h2v2.4h-2ZM360,186.3h2v2.4h-2ZM370,185.9h2v2.4h-2ZM372,188.2h2v1.0h-2ZM373,187.0h2v1.2h-2ZM374,186.4h2v1.0h-2ZM378,183.3h2v1.0h-2ZM379,183.5h2v1.5h-2ZM380,184.3h2v1.0h-2ZM382,184.3h2v1.0h-2ZM386,172.4h2v4.1h-2ZM388,172.4h2v2.7h-2ZM390,175.1h2v1.0h-2ZM391,172.8h2v3.1h-2ZM396,166.2h2v2.1h-2ZM397,167.7h2v1.0h-2ZM398,164.2h2v9.9h-2ZM400,174.0h2v12.3h-2ZM402,186.2h2v5.7h-2ZM403,191.9h2v9.8h-2ZM404,201.7h2v3.6h-2ZM408,202.7h2v2.5h-2ZM409,205.2h2v2.0h-2ZM410,207.2h2v3.0h-2ZM412,210.2h2v3.3h-2ZM414,213.5h2v3.2h-2ZM418,209.0h2v3.8h-2ZM420,212.8h2v2.0h-2ZM421,214.8h2v1.4h-2ZM422,216.1h2v1.0h-2ZM424,216.7h2v1.6h-2ZM426,218.3h2v7.3h-2ZM427,225.5h2v1.1h-2ZM428,226.6h2v1.0h-2ZM430,226.7h2v1.0h-2ZM432,226.7h2v2.4h-2ZM433,229.1h2v2.8h-2ZM434,231.9h2v6.2h-2ZM436,238.0h2v3.0h-2ZM438,241.1h2v5.8h-2ZM439,245.7h2v6.8h-2ZM442,246.5h2v4.9h-2ZM446,241.1h2v4.2h-2ZM448,241.1h2v4.0h-2ZM450,245.1h2v5.4h-2ZM451,250.4h2v6.1h-2ZM452,256.5h2v3.6h-2ZM454,258.2h2v1.8h-2ZM456,257.2h2v1.1h-2ZM457,257.2h2v10.4h-2ZM458,267.5h2v5.9h-2ZM460,273.5h2v5.7h-2ZM462,279.1h2v4.1h-2ZM463,283.3h2v12.7h-2ZM464,296.0h2v11.1h-2ZM466,307.1h2v1.3h-2ZM468,308.5h2v3.8h-2ZM469,312.3h2v2.5h-2ZM470,313.7h2v1.1h-2ZM472,303.2h2v10.5h-2ZM474,303.2h2v5.6h-2ZM476,303.8h2v1.0h-2ZM481,289.8h2v1.7h-2ZM482,287.3h2v2.5h-2ZM484,287.3h2v1.8h-2ZM486,289.2h2v2.6h-2ZM487,288.7h2v3.0h-2ZM490,281.8h2v2.3h-2ZM492,278.7h2v3.1h-2ZM493,278.6h2v1.0h-2ZM496,269.4h2v4.7h-2ZM498,268.3h2v1.1h-2ZM499,268.3h2v5.6h-2ZM500,273.9h2v1.5h-2ZM502,275.4h2v1.6h-2ZM504,277.0h2v1.3h-2ZM505,278.3h2v1.5h-2ZM506,279.8h2v7.0h-2ZM510,274.4h2v6.7h-2ZM511,271.6h2v2.9h-2ZM512,271.5h2v1.0h-2ZM516,268.5h2v4.2h-2ZM517,270.5h2v3.1h-2ZM518,273.6h2v1.0h-2ZM520,274.4h2v4.3h-2ZM523,276.0h2v4.6h-2ZM524,277.7h2v3.0h-2ZM528,274.7h2v8.2h-2ZM529,282.5h2v1.0h-2ZM530,282.5h2v6.4h-2ZM532,288.9h2v3.8h-2ZM534,292.6h2v1.8h-2ZM535,294.5h2v1.2h-2ZM536,295.6h2v1.0h-2ZM538,296.3h2v1.0h-2ZM540,291.2h2v4.7h-2ZM542,288.3h2v1.2h-2ZM544,288.3h2v1.9h-2ZM546,290.2h2v2.2h-2ZM548,288.3h2v1.0h-2ZM550,283.8h2v4.5h-2ZM552,283.8h2v1.0h-2ZM553,283.1h2v1.1h-2ZM558,275.4h2v1.0h-2ZM559,275.6h2v1.0h-2ZM560,276.4h2v3.8h-2ZM562,278.5h2v1.8h-2ZM564,278.1h2v1.0h-2ZM565,276.6h2v1.5h-2ZM566,274.9h2v1.7h-2ZM568,274.9h2v1.3h-2ZM570,276.3h2v2.6h-2ZM572,274.2h2v1.0h-2ZM574,274.6h2v1.0h-2ZM576,273.6h2v1.9h-2ZM577,272.2h2v1.4h-2ZM578,272.2h2v1.0h-2ZM580,272.2h2v2.4h-2ZM600,259.4h2v1.0h-2ZM601,259.2h2v1.0h-2ZM602,259.2h2v1.3h-2ZM604,260.5h2v1.5h-2ZM606,262.0h2v7.5h-2ZM607,269.5h2v1.7h-2ZM608,271.3h2v2.7h-2ZM612,269.7h2v1.3h-2ZM613,269.6h2v1.4h-2ZM614,269.6h2v1.9h-2ZM616,271.5h2v2.0h-2ZM618,272.4h2v1.1h-2ZM619,271.5h2v1.0h-2ZM620,271.5h2v1.5h-2ZM622,273.0h2v9.2h-2ZM624,282.2h2v3.0h-2ZM625,281.2h2v4.0h-2ZM626,279.5h2v1.7h-2ZM628,277.1h2v2.4h-2ZM630,277.1h2v1.4h-2ZM631,278.5h2v3.2h-2ZM632,281.3h2v1.0h-2ZM634,281.0h2v1.0h-2ZM636,281.0h2v6.8h-2ZM637,286.1h2v1.7h-2ZM638,286.1h2v1.1h-2ZM640,287.2h2v2.7h-2ZM642,289.9h2v4.6h-2ZM654,302.8h2v6.2h-2ZM655,308.9h2v6.1h-2ZM656,315.1h2v2.6h-2ZM658,317.7h2v1.0h-2ZM660,314.6h2v3.1h-2ZM661,312.2h2v2.3h-2ZM662,312.2h2v1.1h-2ZM664,313.3h2v1.0h-2ZM666,313.3h2v1.7h-2ZM667,315.0h2v1.4h-2ZM668,313.5h2v2.9h-2ZM670,312.9h2v1.0h-2ZM672,311.4h2v4.4h-2ZM673,314.2h2v3.5h-2ZM676,313.3h2v1.0h-2ZM678,316.7h2v1.0h-2ZM679,313.6h2v3.4h-2ZM680,313.1h2v1.0h-2ZM682,313.1h2v2.4h-2ZM684,314.5h2v1.0h-2ZM685,314.5h2v1.7h-2ZM686,313.7h2v2.4h-2ZM688,313.7h2v3.8h-2ZM691,311.8h2v1.8h-2ZM692,313.6h2v3.0h-2ZM694,316.5h2v1.0h-2ZM696,309.0h2v8.6h-2ZM698,302.6h2v1.8h-2ZM700,304.4h2v2.6h-2ZM702,305.8h2v1.2h-2ZM703,305.8h2v1.8h-2ZM704,300.2h2v7.3h-2ZM706,298.8h2v1.5h-2ZM708,298.8h2v1.0h-2ZM709,298.8h2v1.0h-2ZM710,299.3h2v1.0h-2ZM712,298.0h2v4.7h-2ZM714,301.1h2v1.3h-2ZM715,296.8h2v2.6h-2ZM718,296.1h2v1.0h-2ZM720,295.7h2v2.0h-2ZM721,297.7h2v1.8h-2ZM722,299.5h2v3.1h-2ZM724,302.6h2v1.0h-2ZM727,299.6h2v1.0h-2ZM728,299.6h2v5.8h-2ZM730,303.5h2v1.9h-2ZM732,303.5h2v2.4h-2ZM733,305.9h2v3.1h-2ZM734,309.0h2v3.2h-2ZM736,312.3h2v5.2h-2ZM738,317.5h2v3.0h-2ZM751,322.3h2v1.0h-2ZM752,320.3h2v2.0h-2ZM754,319.8h2v1.0h-2ZM756,319.8h2v2.0h-2ZM757,319.6h2v2.1h-2ZM758,319.6h2v1.0h-2ZM760,319.7h2v10.1h-2ZM762,329.7h2v1.1h-2ZM764,327.4h2v1.0h-2ZM766,326.3h2v1.2h-2ZM769,319.6h2v3.1h-2ZM775,310.3h2v2.3h-2ZM776,312.2h2v1.3h-2ZM780,309.2h2v1.0h-2ZM781,309.7h2v1.4h-2ZM782,309.1h2v5.2h-2ZM784,313.1h2v1.0h-2ZM786,313.1h2v3.6h-2ZM787,316.7h2v1.9h-2ZM788,318.6h2v3.9h-2ZM790,322.0h2v1.0h-2ZM792,322.0h2v6.2h-2ZM793,328.2h2v2.2h-2ZM794,330.3h2v2.0h-2ZM796,332.4h2v1.0h-2ZM798,332.4h2v5.1h-2ZM799,335.7h2v1.8h-2ZM800,335.7h2v5.1h-2ZM802,338.4h2v2.5h-2ZM804,338.4h2v3.2h-2ZM805,341.6h2v2.7h-2ZM806,344.3h2v8.4h-2ZM808,352.7h2v5.9h-2ZM810,358.6h2v1.4h-2ZM811,359.5h2v1.0h-2ZM812,359.5h2v6.9h-2ZM823,363.0h2v4.1h-2ZM824,362.3h2v4.8h-2ZM826,362.2h2v1.0h-2ZM830,354.1h2v2.6h-2ZM835,343.3h2v1.5h-2ZM836,341.5h2v1.0h-2ZM838,341.8h2v10.0h-2ZM840,351.8h2v1.0h-2ZM841,349.9h2v2.5h-2ZM842,347.7h2v2.2h-2ZM844,346.4h2v1.2h-2ZM846,346.4h2v2.6h-2ZM847,347.4h2v1.7h-2ZM848,347.4h2v3.1h-2ZM850,350.4h2v7.0h-2ZM852,357.4h2v5.5h-2ZM853,362.9h2v1.0h-2ZM854,362.5h2v1.0h-2ZM856,362.5h2v6.8h-2ZM858,369.3h2v3.5h-2ZM859,371.0h2v1.8h-2ZM860,371.0h2v4.2h-2ZM862,375.1h2v2.1h-2ZM864,377.2h2v3.6h-2ZM865,380.8h2v4.0h-2ZM866,384.8h2v2.2h-2ZM868,387.0h2v2.1h-2ZM870,389.0h2v2.4h-2ZM871,391.2h2v1.0h-2ZM872,390.0h2v6.8h-2ZM874,395.8h2v2.2h-2ZM876,393.0h2v1.4h-2ZM877,391.6h2v1.0h-2ZM878,396.4h2v1.0h-2ZM880,397.0h2v1.5h-2ZM883,393.0h2v2.9h-2ZM884,391.3h2v2.4h-2ZM886,393.5h2v5.1h-2ZM890,388.8h2v5.4h-2ZM894,389.7h2v1.0h-2ZM895,386.2h2v3.5h-2Z" fill="#000"/>
<path d="M12.5,101.1h2v8.0h-2ZM13.5,95.5h2v5.7h-2ZM19.5,104.7h2v3.1h-2ZM23.5,98.5h2v3.4h-2ZM29.5,93.7h2v6.2h-2ZM30.5,80.6h2v13.2h-2ZM31.5,71.3h2v9.2h-2ZM35.5,67.6h2v2.9h-2ZM36.5,58.6h2v9.0h-2ZM39.5,58.0h2v2.6h-2ZM41.5,52.6h2v5.4h-2ZM49.5,92.8h2v17.6h-2ZM51.5,72.1h2v20.7h-2ZM54.5,63.1h2v6.7h-2ZM77.5,163.8h2v2.8h-2ZM85.5,168.8h2v9.7h-2ZM97.5,162.9h2v3.0h-2ZM99.5,153.2h2v9.7h-2ZM101.5,144.3h2v8.9h-2ZM120.5,163.8h2v5.9h-2ZM121.5,159.8h2v4.0h-2ZM125.5,154.5h2v3.0h-2ZM135.5,155.9h2v3.7h-2ZM137.5,153.1h2v2.8h-2ZM141.5,156.7h2v2.8h-2ZM143.5,153.8h2v3.0h-2ZM145.5,151.1h2v3.1h-2ZM180.5,250.6h2v4.4h-2ZM183.5,244.1h2v7.5h-2ZM186.5,231.4h2v5.2h-2ZM191.5,220.2h2v7.7h-2ZM227.5,302.0h2v5.8h-2ZM228.5,287.2h2v14.8h-2ZM231.5,270.7h2v13.8h-2ZM233.5,263.5h2v7.2h-2ZM234.5,256.3h2v7.2h-2ZM240.5,258.2h2v4.4h-2ZM243.5,244.1h2v11.1h-2ZM246.5,234.1h2v6.3h-2ZM249.5,201.0h2v18.7h-2ZM251.5,192.8h2v8.4h-2ZM255.5,208.3h2v2.7h-2ZM258.5,199.4h2v9.2h-2ZM259.5,195.6h2v3.8h-2ZM265.5,202.1h2v7.4h-2ZM269.5,202.7h2v3.0h-2ZM287.5,220.7h2v6.6h-2ZM288.5,214.1h2v6.6h-2ZM303.5,241.6h2v7.6h-2ZM311.5,237.7h2v3.7h-2ZM319.5,233.1h2v4.7h-2ZM324.5,226.3h2v3.7h-2ZM327.5,224.8h2v2.8h-2ZM330.5,221.9h2v3.7h-2ZM335.5,208.7h2v4.2h-2ZM337.5,203.7h2v4.4h-2ZM351.5,203.6h2v4.3h-2ZM357.5,186.3h2v5.8h-2ZM375.5,183.3h2v3.1h-2ZM383.5,181.5h2v3.1h-2ZM384.5,176.5h2v5.0h-2ZM391.5,169.4h2v3.3h-2ZM393.5,166.9h2v2.5h-2ZM405.5,202.7h2v2.7h-2ZM414.5,213.7h2v3.0h-2ZM415.5,209.0h2v4.8h-2ZM439.5,249.6h2v2.8h-2ZM443.5,247.1h2v4.7h-2ZM444.5,245.3h2v5.8h-2ZM474.5,304.5h2v4.2h-2ZM477.5,297.7h2v6.1h-2ZM479.5,291.5h2v6.2h-2ZM487.5,284.2h2v4.5h-2ZM493.5,274.1h2v4.5h-2ZM507.5,281.1h2v5.7h-2ZM513.5,268.8h2v5.2h-2ZM521.5,276.0h2v2.6h-2ZM525.5,274.7h2v3.0h-2ZM540.5,289.5h2v2.5h-2ZM546.5,288.6h2v3.7h-2ZM553.5,278.6h2v4.5h-2ZM555.5,275.4h2v3.1h-2ZM570.5,274.2h2v4.6h-2ZM581.5,272.0h2v2.6h-2ZM582.5,269.2h2v2.8h-2ZM583.5,262.9h2v6.3h-2ZM585.5,257.8h2v5.1h-2ZM587.5,253.6h2v4.3h-2ZM609.5,269.7h2v4.2h-2ZM673.5,312.9h2v4.6h-2ZM689.5,311.8h2v5.8h-2ZM696.5,302.6h2v6.4h-2ZM715.5,295.8h2v2.6h-2ZM725.5,300.1h2v3.3h-2ZM749.5,323.3h2v3.5h-2ZM762.5,328.1h2v2.8h-2ZM767.5,322.7h2v3.6h-2ZM769.5,315.7h2v3.9h-2ZM771.5,313.2h2v2.5h-2ZM773.5,309.9h2v3.3h-2ZM777.5,309.3h2v5.0h-2ZM827.5,357.4h2v4.8h-2ZM828.5,354.1h2v3.3h-2ZM831.5,349.9h2v6.9h-2ZM833.5,343.1h2v6.8h-2ZM881.5,386.5h2v5.8h-2ZM887.5,392.7h2v5.9h-2ZM888.5,388.8h2v3.9h-2ZM891.5,389.9h2v4.3h-2ZM895.5,379.8h2v6.3h-2Z" stroke="#000" stroke-width="1" fill="#fff"/>

<rect x="162.5" y="197.0" width="2" height="53.0" fill="#ff00ff"/>
<rect x="164.0" y="240.0" width="2" height="43.0" fill="#ff00ff"/>
<rect x="166.0" y="250.0" width="2" height="34.0" fill="#ff00ff"/>
<rect x="168.0" y="230.0" width="2" height="32.0" fill="#00e0f0"/>
<rect x="170.0" y="224.0" width="2" height="26.0" fill="#00e0f0"/>
<rect x="172.0" y="230.0" width="2" height="22.0" fill="#00e0f0"/>
<rect x="360.0" y="183.0" width="2" height="10.0" fill="#ff00ff"/>
<rect x="361.0" y="186.0" width="2" height="14.0" fill="#00e0f0"/>
<rect x="363.0" y="184.0" width="2" height="15.0" fill="#00e0f0"/>
<rect x="365.0" y="178.0" width="2" height="16.0" fill="#00e0f0"/>
<rect x="367.0" y="176.0" width="2" height="14.0" fill="#00e0f0"/>
<rect x="589.0" y="236.0" width="2" height="22.0" fill="#ff00ff"/>
<rect x="591.0" y="238.0" width="2" height="24.0" fill="#ff00ff"/>
<rect x="593.0" y="240.0" width="2" height="22.0" fill="#00e0f0"/>
<rect x="595.0" y="242.0" width="2" height="22.0" fill="#00e0f0"/>
<rect x="597.0" y="250.0" width="2" height="12.0" fill="#00e0f0"/>
<rect x="643.0" y="296.0" width="2" height="17.0" fill="#ff00ff"/>
<rect x="645.0" y="294.0" width="2" height="18.0" fill="#ff00ff"/>
<rect x="647.0" y="298.0" width="2" height="20.0" fill="#00e0f0"/>
<rect x="649.0" y="296.0" width="2" height="26.0" fill="#00e0f0"/>
<rect x="651.0" y="300.0" width="2" height="18.0" fill="#00e0f0"/>
<rect x="738.0" y="314.0" width="2" height="16.0" fill="#ff00ff"/>
<rect x="740.0" y="320.0" width="2" height="18.0" fill="#ff00ff"/>
<rect x="742.0" y="322.0" width="2" height="16.0" fill="#ff00ff"/>
<rect x="744.0" y="320.0" width="2" height="21.0" fill="#00e0f0"/>
<rect x="746.0" y="322.0" width="2" height="18.0" fill="#00e0f0"/>
<rect x="748.0" y="326.0" width="2" height="12.0" fill="#00e0f0"/>
<rect x="813.0" y="361.0" width="2" height="9.0" fill="#ff00ff"/>
<rect x="815.0" y="362.0" width="2" height="11.0" fill="#ff00ff"/>
<rect x="817.0" y="356.0" width="2" height="16.0" fill="#00e0f0"/>
<rect x="819.0" y="353.0" width="2" height="15.0" fill="#00e0f0"/>
<rect x="821.0" y="356.0" width="2" height="10.0" fill="#00e0f0"/>
<path d="M161.5,165V200M165.5,250V270M167.5,255V283" stroke="#000" stroke-width="1.2"/>
<polygon points="165.5,283.0 174.5,283.0 170.0,274.0" fill="#00e000"/>
<polygon points="644.0,327.5 653.0,327.5 648.5,318.5" fill="#00e000"/>
<polygon points="741.0,353.7 750.0,353.7 745.5,344.7" fill="#00e000"/>
<polygon points="815.2,388.7 824.2,388.7 819.7,379.7" fill="#00e000"/>
<polygon points="358.0,169.5 366.0,169.5 362.0,178.0" fill="#ff1010"/>
<polygon points="592.0,225.0 600.0,225.0 596.0,233.5" fill="#ff1010"/>
<line x1="882" y1="399" x2="940" y2="343" stroke="#6a9ae6" stroke-width="2.6" stroke-dasharray="2 1.5"/>
<text x="942.0" y="339.0" font-family='"Liberation Sans", sans-serif' font-size="13.0" fill="#7aa5e8" font-weight="normal" font-style="normal" text-anchor="start" textLength="38.0" lengthAdjust="spacingAndGlyphs" >129.50</text>
<text x="392.0" y="145.0" font-family='"Liberation Serif", serif' font-size="28.8" fill="#33bb33" font-weight="bold" font-style="normal" text-anchor="start" textLength="20.0" lengthAdjust="spacingAndGlyphs" stroke="#33bb33" stroke-width="1">B'</text>
<text x="591.0" y="210.0" font-family='"Liberation Serif", serif' font-size="28.8" fill="#33bb33" font-weight="bold" font-style="normal" text-anchor="start" textLength="24.0" lengthAdjust="spacingAndGlyphs" stroke="#33bb33" stroke-width="1">X'</text>
<text x="601.0" y="188.0" font-family='"Liberation Serif", serif' font-size="40.9" fill="#5555bb" font-weight="bold" font-style="normal" text-anchor="start" textLength="24.0" lengthAdjust="spacingAndGlyphs" stroke="#5555bb" stroke-width="1">B</text>
<text x="466.0" y="388.0" font-family='"Liberation Serif", serif' font-size="40.9" fill="#5555bb" font-weight="bold" font-style="normal" text-anchor="start" textLength="25.0" lengthAdjust="spacingAndGlyphs" stroke="#5555bb" stroke-width="1">A</text>
<text x="461.0" y="363.0" font-family='"Liberation Serif", serif' font-size="28.8" fill="#33bb33" font-weight="bold" font-style="normal" text-anchor="start" textLength="21.0" lengthAdjust="spacingAndGlyphs" stroke="#33bb33" stroke-width="1">C'</text>
<text x="219.0" y="363.0" font-family='"Liberation Serif", serif' font-size="28.8" fill="#33bb33" font-weight="bold" font-style="normal" text-anchor="start" textLength="21.0" lengthAdjust="spacingAndGlyphs" stroke="#33bb33" stroke-width="1">A'</text>
<text x="738.0" y="376.0" font-family='"Liberation Serif", serif' font-size="28.8" fill="#33bb33" font-weight="bold" font-style="normal" text-anchor="start" textLength="27.0" lengthAdjust="spacingAndGlyphs" stroke="#33bb33" stroke-width="1">A"</text>
<text x="785.0" y="274.0" font-family='"Liberation Serif", serif' font-size="28.8" fill="#33bb33" font-weight="bold" font-style="normal" text-anchor="start" textLength="23.0" lengthAdjust="spacingAndGlyphs" stroke="#33bb33" stroke-width="1">B"</text>
<text x="888.0" y="444.0" font-family='"Liberation Serif", serif' font-size="25.8" fill="#33bb33" font-weight="bold" font-style="normal" text-anchor="start" textLength="25.0" lengthAdjust="spacingAndGlyphs" stroke="#33bb33" stroke-width="1">C"</text>
<text x="903.0" y="463.0" font-family='"Liberation Serif", serif' font-size="40.9" fill="#5555bb" font-weight="bold" font-style="normal" text-anchor="start" textLength="25.0" lengthAdjust="spacingAndGlyphs" stroke="#5555bb" stroke-width="1">C</text>
<text x="74.5" y="203.5" font-family='"Liberation Sans", sans-serif' font-size="17.5" fill="#ff1a1a" font-weight="bold" font-style="normal" text-anchor="start" textLength="16.8" lengthAdjust="spacingAndGlyphs" >[1]</text>
<text x="96.6" y="129.0" font-family='"Liberation Sans", sans-serif' font-size="17.5" fill="#ff1a1a" font-weight="bold" font-style="normal" text-anchor="start" textLength="15.9" lengthAdjust="spacingAndGlyphs" >[2]</text>
<text x="160.0" y="305.5" font-family='"Liberation Sans", sans-serif' font-size="17.5" fill="#ff1a1a" font-weight="bold" font-style="normal" text-anchor="start" textLength="17.7" lengthAdjust="spacingAndGlyphs" >[3]</text>
<text x="179.0" y="215.2" font-family='"Liberation Sans", sans-serif' font-size="17.5" fill="#ff1a1a" font-weight="bold" font-style="normal" text-anchor="start" textLength="17.7" lengthAdjust="spacingAndGlyphs" >[4]</text>
<text x="218.5" y="336.5" font-family='"Liberation Sans", sans-serif' font-size="17.5" fill="#ff1a1a" font-weight="bold" font-style="normal" text-anchor="start" textLength="17.5" lengthAdjust="spacingAndGlyphs" >[5]</text>
<text x="399.0" y="241.2" font-family='"Liberation Sans", sans-serif' font-size="17.0" fill="#ff1a1a" font-weight="bold" font-style="normal" text-anchor="start" textLength="19.0" lengthAdjust="spacingAndGlyphs" >(1)</text>
<text x="416.7" y="197.5" font-family='"Liberation Sans", sans-serif' font-size="17.0" fill="#ff1a1a" font-weight="bold" font-style="normal" text-anchor="start" textLength="18.9" lengthAdjust="spacingAndGlyphs" >(2)</text>
<text x="428.0" y="274.5" font-family='"Liberation Sans", sans-serif' font-size="17.0" fill="#ff1a1a" font-weight="bold" font-style="normal" text-anchor="start" textLength="19.0" lengthAdjust="spacingAndGlyphs" >(3)</text>
<text x="443.0" y="235.5" font-family='"Liberation Sans", sans-serif' font-size="17.0" fill="#ff1a1a" font-weight="bold" font-style="normal" text-anchor="start" textLength="18.0" lengthAdjust="spacingAndGlyphs" >(4)</text>
<text x="456.0" y="342.2" font-family='"Liberation Sans", sans-serif' font-size="17.0" fill="#ff1a1a" font-weight="bold" font-style="normal" text-anchor="start" textLength="21.0" lengthAdjust="spacingAndGlyphs" >(5)</text>
<text x="250.6" y="188.0" font-family='"Liberation Sans", sans-serif' font-size="15.0" fill="#ff1a1a" font-weight="bold" font-style="normal" text-anchor="start" textLength="10.4" lengthAdjust="spacingAndGlyphs" >a'</text>
<text x="298.8" y="284.3" font-family='"Liberation Sans", sans-serif' font-size="15.0" fill="#ff1a1a" font-weight="bold" font-style="normal" text-anchor="start" textLength="11.6" lengthAdjust="spacingAndGlyphs" >b'</text>
<text x="393.0" y="158.5" font-family='"Liberation Sans", sans-serif' font-size="15.0" fill="#ff1a1a" font-weight="bold" font-style="normal" text-anchor="start" textLength="10.6" lengthAdjust="spacingAndGlyphs" >c'</text>
<text x="512.0" y="263.2" font-family='"Liberation Sans", sans-serif' font-size="15.0" fill="#ff1a1a" font-weight="bold" font-style="normal" text-anchor="start" textLength="14.0" lengthAdjust="spacingAndGlyphs" >a"</text>
<text x="532.5" y="325.1" font-family='"Liberation Sans", sans-serif' font-size="15.0" fill="#ff1a1a" font-weight="bold" font-style="normal" text-anchor="start" textLength="15.5" lengthAdjust="spacingAndGlyphs" >b"</text>
<text x="589.7" y="225.1" font-family='"Liberation Sans", sans-serif' font-size="15.0" fill="#ff1a1a" font-weight="bold" font-style="normal" text-anchor="start" textLength="15.8" lengthAdjust="spacingAndGlyphs" >c"</text>
<text x="665.5" y="339.9" font-family='"Liberation Serif", serif' font-size="17.0" fill="#ff1a1a" font-weight="bold" font-style="normal" text-anchor="start" textLength="16.2" lengthAdjust="spacingAndGlyphs" stroke="#ff1a1a" stroke-width="0.7">{a}</text>
<text x="705.4" y="285.3" font-family='"Liberation Serif", serif' font-size="17.0" fill="#ff1a1a" font-weight="bold" font-style="normal" text-anchor="start" textLength="15.9" lengthAdjust="spacingAndGlyphs" stroke="#ff1a1a" stroke-width="0.7">{b}</text>
<text x="747.8" y="351.3" font-family='"Liberation Serif", serif' font-size="17.0" fill="#ff1a1a" font-weight="bold" font-style="normal" text-anchor="start" textLength="14.7" lengthAdjust="spacingAndGlyphs" stroke="#ff1a1a" stroke-width="0.7">{c}</text>
<text x="776.0" y="292.0" font-family='"Liberation Serif", serif' font-size="17.0" fill="#ff1a1a" font-weight="bold" font-style="normal" text-anchor="start" textLength="18.4" lengthAdjust="spacingAndGlyphs" stroke="#ff1a1a" stroke-width="0.7">{X}</text>
<text x="802.3" y="402.8" font-family='"Liberation Serif", serif' font-size="17.0" fill="#ff1a1a" font-weight="bold" font-style="normal" text-anchor="start" textLength="23.3" lengthAdjust="spacingAndGlyphs" stroke="#ff1a1a" stroke-width="0.7">{a"}</text>
<text x="827.7" y="335.7" font-family='"Liberation Serif", serif' font-size="17.0" fill="#ff1a1a" font-weight="bold" font-style="normal" text-anchor="start" textLength="22.7" lengthAdjust="spacingAndGlyphs" stroke="#ff1a1a" stroke-width="0.7">{b"}</text>
<text x="875.2" y="423.2" font-family='"Liberation Serif", serif' font-size="17.0" fill="#ff1a1a" font-weight="bold" font-style="normal" text-anchor="start" textLength="21.8" lengthAdjust="spacingAndGlyphs" stroke="#ff1a1a" stroke-width="0.7">{c"}</text>
<rect x="5" y="470.0" width="1113" height="4.0" fill="url(#gbar)"/>
<rect x="5" y="522.0" width="1113" height="4.0" fill="url(#gbar)"/>
<rect x="5" y="560.5" width="1113" height="3.5" fill="url(#gbar)"/>
<rect x="5" y="637.0" width="1113" height="4.0" fill="url(#gbar)"/>
<line x1="5" y1="493.3" x2="1065" y2="493.3" stroke="#ff2020" stroke-width="1.3" stroke-dasharray="8 5"/>
<polygon points="5.0,507.5 5.0,503.2 6.5,503.2 6.5,504.8 8.0,504.8 8.0,502.6 9.5,502.6 9.5,505.7 11.0,505.7 11.0,506.2 12.5,506.2 12.5,506.3 14.0,506.3 14.0,504.5 15.5,504.5 15.5,501.6 17.0,501.6 17.0,503.1 18.5,503.1 18.5,502.9 20.0,502.9 20.0,503.6 21.5,503.6 21.5,502.5 23.0,502.5 23.0,503.4 24.5,503.4 24.5,501.0 26.0,501.0 26.0,501.1 27.5,501.1 27.5,502.4 29.0,502.4 29.0,501.8 30.5,501.8 30.5,499.9 32.0,499.9 32.0,498.8 33.5,498.8 33.5,500.4 35.0,500.4 35.0,496.2 36.5,496.2 36.5,497.4 38.0,497.4 38.0,498.8 39.5,498.8 39.5,499.2 41.0,499.2 41.0,497.5 42.5,497.5 42.5,497.7 44.0,497.7 44.0,504.7 45.5,504.7 45.5,506.0 47.0,506.0 47.0,508.8 48.5,508.8 48.5,511.6 50.0,511.6 50.0,512.9 51.5,512.9 51.5,514.6 53.0,514.6 53.0,516.1 54.5,516.1 54.5,512.4 56.0,512.4 56.0,517.3 57.5,517.3 57.5,516.4 59.0,516.4 59.0,512.5 60.5,512.5 60.5,515.4 62.0,515.4 62.0,511.9 63.5,511.9 63.5,512.7 65.0,512.7 65.0,508.8 66.5,508.8 66.5,506.8 68.0,506.8 68.0,506.3 69.5,506.3 69.5,505.8 71.0,505.8 71.0,505.8 72.5,505.8 72.5,507.5 74.0,507.5 74.0,503.6 75.5,503.6 75.5,504.0 77.0,504.0 77.0,505.3 78.5,505.3 78.5,503.2 80.0,503.2 80.0,503.2 81.5,503.2 81.5,503.6 83.0,503.6 83.0,503.9 84.5,503.9 84.5,502.7 86.0,502.7 86.0,505.6 87.5,505.6 87.5,506.5 89.0,506.5 89.0,508.2 90.5,508.2 90.5,510.8 92.0,510.8 92.0,512.1 93.5,512.1 93.5,514.6 95.0,514.6 95.0,512.7 96.5,512.7 96.5,515.3 98.0,515.3 98.0,513.6 99.5,513.6 99.5,515.7 101.0,515.7 101.0,512.8 102.5,512.8 102.5,515.6 104.0,515.6 104.0,515.3 105.5,515.3 105.5,515.1 107.0,515.1 107.0,515.1 108.5,515.1 108.5,515.2 110.0,515.2 110.0,513.6 111.5,513.6 111.5,510.7 113.0,510.7 113.0,512.4 114.5,512.4 114.5,512.7 116.0,512.7 116.0,512.9 117.5,512.9 117.5,512.4 119.0,512.4 119.0,513.7 120.5,513.7 120.5,514.9 122.0,514.9 122.0,513.7 123.5,513.7 123.5,513.4 125.0,513.4 125.0,515.6 126.5,515.6 126.5,515.2 128.0,515.2 128.0,515.1 129.5,515.1 129.5,515.4 131.0,515.4 131.0,513.6 132.5,513.6 132.5,513.8 134.0,513.8 134.0,515.3 135.5,515.3 135.5,513.3 137.0,513.3 137.0,513.6 138.5,513.6 138.5,514.0 140.0,514.0 140.0,513.8 141.5,513.8 141.5,512.8 143.0,512.8 143.0,514.1 144.5,514.1 144.5,512.5 146.0,512.5 146.0,513.4 147.5,513.4 147.5,513.6 149.0,513.6 149.0,512.9 150.5,512.9 150.5,512.3 152.0,512.3 152.0,509.5 153.5,509.5 153.5,507.6 155.0,507.6 155.0,506.3 156.5,506.3 156.5,503.9 158.0,503.9 158.0,503.4 159.5,503.4 159.5,504.3 161.0,504.3 161.0,490.1 162.5,490.1 162.5,475.8 164.0,475.8 164.0,472.5 165.5,472.5 165.5,474.4 167.0,474.4 167.0,473.0 168.5,473.0 168.5,473.1 170.0,473.1 170.0,473.7 171.5,473.7 171.5,485.3 173.0,485.3 173.0,490.5 174.5,490.5 174.5,495.0 176.0,495.0 176.0,495.8 177.5,495.8 177.5,499.1 179.0,499.1 179.0,500.1 180.5,500.1 180.5,500.1 182.0,500.1 182.0,501.6 183.5,501.6 183.5,501.2 185.0,501.2 185.0,501.5 186.5,501.5 186.5,503.2 188.0,503.2 188.0,505.7 189.5,505.7 189.5,508.2 191.0,508.2 191.0,509.0 192.5,509.0 192.5,509.0 194.0,509.0 194.0,509.0 195.5,509.0 195.5,508.7 197.0,508.7 197.0,507.7 198.5,507.7 198.5,506.9 200.0,506.9 200.0,506.5 201.5,506.5 201.5,506.2 203.0,506.2 203.0,505.8 204.5,505.8 204.5,504.7 206.0,504.7 206.0,508.6 207.5,508.6 207.5,504.2 209.0,504.2 209.0,506.4 210.5,506.4 210.5,504.3 212.0,504.3 212.0,504.1 213.5,504.1 213.5,504.2 215.0,504.2 215.0,502.1 216.5,502.1 216.5,504.1 218.0,504.1 218.0,503.5 219.5,503.5 219.5,501.2 221.0,501.2 221.0,503.7 222.5,503.7 222.5,503.7 224.0,503.7 224.0,503.5 225.5,503.5 225.5,504.9 227.0,504.9 227.0,502.5 228.5,502.5 228.5,503.6 230.0,503.6 230.0,503.9 231.5,503.9 231.5,501.9 233.0,501.9 233.0,506.7 234.5,506.7 234.5,513.6 236.0,513.6 236.0,512.8 237.5,512.8 237.5,513.7 239.0,513.7 239.0,516.6 240.5,516.6 240.5,515.4 242.0,515.4 242.0,517.4 243.5,517.4 243.5,515.7 245.0,515.7 245.0,516.9 246.5,516.9 246.5,514.6 248.0,514.6 248.0,515.6 249.5,515.6 249.5,512.4 251.0,512.4 251.0,512.8 252.5,512.8 252.5,509.3 254.0,509.3 254.0,507.0 255.5,507.0 255.5,504.1 257.0,504.1 257.0,504.9 258.5,504.9 258.5,507.2 260.0,507.2 260.0,507.8 261.5,507.8 261.5,508.4 263.0,508.4 263.0,509.0 264.5,509.0 264.5,509.8 266.0,509.8 266.0,508.6 267.5,508.6 267.5,507.7 269.0,507.7 269.0,511.1 270.5,511.1 270.5,510.0 272.0,510.0 272.0,510.7 273.5,510.7 273.5,511.8 275.0,511.8 275.0,509.0 276.5,509.0 276.5,510.6 278.0,510.6 278.0,510.9 279.5,510.9 279.5,510.4 281.0,510.4 281.0,512.2 282.5,512.2 282.5,511.7 284.0,511.7 284.0,511.0 285.5,511.0 285.5,510.8 287.0,510.8 287.0,512.8 288.5,512.8 288.5,511.0 290.0,511.0 290.0,512.4 291.5,512.4 291.5,512.1 293.0,512.1 293.0,509.2 294.5,509.2 294.5,510.1 296.0,510.1 296.0,511.3 297.5,511.3 297.5,511.6 299.0,511.6 299.0,512.0 300.5,512.0 300.5,511.5 302.0,511.5 302.0,509.0 303.5,509.0 303.5,507.5 305.0,507.5 305.0,506.0 306.5,506.0 306.5,506.6 308.0,506.6 308.0,506.3 309.5,506.3 309.5,507.3 311.0,507.3 311.0,508.2 312.5,508.2 312.5,509.2 314.0,509.2 314.0,509.6 315.5,509.6 315.5,510.7 317.0,510.7 317.0,512.9 318.5,512.9 318.5,512.3 320.0,512.3 320.0,515.0 321.5,515.0 321.5,512.8 323.0,512.8 323.0,516.0 324.5,516.0 324.5,515.4 326.0,515.4 326.0,513.6 327.5,513.6 327.5,517.6 329.0,517.6 329.0,517.1 330.5,517.1 330.5,516.7 332.0,516.7 332.0,514.4 333.5,514.4 333.5,514.1 335.0,514.1 335.0,515.5 336.5,515.5 336.5,511.3 338.0,511.3 338.0,505.8 339.5,505.8 339.5,507.8 341.0,507.8 341.0,504.0 342.5,504.0 342.5,500.6 344.0,500.6 344.0,500.7 345.5,500.7 345.5,500.3 347.0,500.3 347.0,499.5 348.5,499.5 348.5,499.4 350.0,499.4 350.0,501.5 351.5,501.5 351.5,498.3 353.0,498.3 353.0,504.1 354.5,504.1 354.5,503.7 356.0,503.7 356.0,507.0 357.5,507.0 357.5,493.2 359.0,493.2 359.0,493.9 360.5,493.9 360.5,492.8 362.0,492.8 362.0,491.4 363.5,491.4 363.5,494.1 365.0,494.1 365.0,491.5 366.5,491.5 366.5,493.1 368.0,493.1 368.0,496.0 369.5,496.0 369.5,494.9 371.0,494.9 371.0,494.1 372.5,494.1 372.5,496.8 374.0,496.8 374.0,497.8 375.5,497.8 375.5,498.6 377.0,498.6 377.0,501.5 378.5,501.5 378.5,506.9 380.0,506.9 380.0,506.7 381.5,506.7 381.5,506.5 383.0,506.5 383.0,506.3 384.5,506.3 384.5,506.0 386.0,506.0 386.0,505.8 387.5,505.8 387.5,505.6 389.0,505.6 389.0,505.0 390.5,505.0 390.5,505.6 392.0,505.6 392.0,505.8 393.5,505.8 393.5,506.9 395.0,506.9 395.0,504.2 396.5,504.2 396.5,503.7 398.0,503.7 398.0,504.0 399.5,504.0 399.5,505.3 401.0,505.3 401.0,502.5 402.5,502.5 402.5,504.9 404.0,504.9 404.0,499.8 405.5,499.8 405.5,503.9 407.0,503.9 407.0,501.9 408.5,501.9 408.5,503.1 410.0,503.1 410.0,503.2 411.5,503.2 411.5,500.8 413.0,500.8 413.0,501.9 414.5,501.9 414.5,502.1 416.0,502.1 416.0,502.4 417.5,502.4 417.5,500.4 419.0,500.4 419.0,500.1 420.5,500.1 420.5,498.8 422.0,498.8 422.0,504.0 423.5,504.0 423.5,500.5 425.0,500.5 425.0,500.3 426.5,500.3 426.5,498.6 428.0,498.6 428.0,501.4 429.5,501.4 429.5,499.4 431.0,499.4 431.0,501.5 432.5,501.5 432.5,500.5 434.0,500.5 434.0,499.2 435.5,499.2 435.5,499.8 437.0,499.8 437.0,497.3 438.5,497.3 438.5,497.9 440.0,497.9 440.0,497.3 441.5,497.3 441.5,496.2 443.0,496.2 443.0,497.4 444.5,497.4 444.5,496.9 446.0,496.9 446.0,499.4 447.5,499.4 447.5,494.8 449.0,494.8 449.0,499.1 450.5,499.1 450.5,499.8 452.0,499.8 452.0,501.4 453.5,501.4 453.5,501.4 455.0,501.4 455.0,500.2 456.5,500.2 456.5,498.7 458.0,498.7 458.0,496.9 459.5,496.9 459.5,497.0 461.0,497.0 461.0,496.4 462.5,496.4 462.5,493.8 464.0,493.8 464.0,495.7 465.5,495.7 465.5,494.4 467.0,494.4 467.0,494.6 468.5,494.6 468.5,496.2 470.0,496.2 470.0,496.1 471.5,496.1 471.5,496.1 473.0,496.1 473.0,497.1 474.5,497.1 474.5,501.3 476.0,501.3 476.0,503.7 477.5,503.7 477.5,507.3 479.0,507.3 479.0,508.3 480.5,508.3 480.5,509.2 482.0,509.2 482.0,510.5 483.5,510.5 483.5,511.6 485.0,511.6 485.0,513.6 486.5,513.6 486.5,513.8 488.0,513.8 488.0,512.0 489.5,512.0 489.5,513.2 491.0,513.2 491.0,513.4 492.5,513.4 492.5,515.8 494.0,515.8 494.0,518.7 495.5,518.7 495.5,518.0 497.0,518.0 497.0,515.4 498.5,515.4 498.5,515.9 500.0,515.9 500.0,515.3 501.5,515.3 501.5,516.9 503.0,516.9 503.0,515.8 504.5,515.8 504.5,515.5 506.0,515.5 506.0,517.1 507.5,517.1 507.5,514.0 509.0,514.0 509.0,514.0 510.5,514.0 510.5,517.4 512.0,517.4 512.0,515.4 513.5,515.4 513.5,514.1 515.0,514.1 515.0,512.6 516.5,512.6 516.5,513.2 518.0,513.2 518.0,512.1 519.5,512.1 519.5,515.1 521.0,515.1 521.0,515.1 522.5,515.1 522.5,516.2 524.0,516.2 524.0,514.8 525.5,514.8 525.5,514.2 527.0,514.2 527.0,514.1 528.5,514.1 528.5,517.3 530.0,517.3 530.0,512.9 531.5,512.9 531.5,515.2 533.0,515.2 533.0,515.0 534.5,515.0 534.5,515.7 536.0,515.7 536.0,510.5 537.5,510.5 537.5,505.5 539.0,505.5 539.0,501.6 540.5,501.6 540.5,505.0 542.0,505.0 542.0,507.0 543.5,507.0 543.5,508.2 545.0,508.2 545.0,509.4 546.5,509.4 546.5,510.4 548.0,510.4 548.0,511.3 549.5,511.3 549.5,512.8 551.0,512.8 551.0,513.0 552.5,513.0 552.5,514.8 554.0,514.8 554.0,514.7 555.5,514.7 555.5,515.4 557.0,515.4 557.0,516.8 558.5,516.8 558.5,516.8 560.0,516.8 560.0,514.8 561.5,514.8 561.5,516.1 563.0,516.1 563.0,515.7 564.5,515.7 564.5,516.4 566.0,516.4 566.0,515.5 567.5,515.5 567.5,515.9 569.0,515.9 569.0,515.0 570.5,515.0 570.5,514.7 572.0,514.7 572.0,516.8 573.5,516.8 573.5,517.3 575.0,517.3 575.0,516.6 576.5,516.6 576.5,516.4 578.0,516.4 578.0,516.2 579.5,516.2 579.5,515.4 581.0,515.4 581.0,511.6 582.5,511.6 582.5,511.2 584.0,511.2 584.0,507.0 585.5,507.0 585.5,502.0 587.0,502.0 587.0,493.6 588.5,493.6 588.5,484.5 590.0,484.5 590.0,478.5 591.5,478.5 591.5,474.8 593.0,474.8 593.0,479.1 594.5,479.1 594.5,477.8 596.0,477.8 596.0,479.8 597.5,479.8 597.5,483.3 599.0,483.3 599.0,491.2 600.5,491.2 600.5,497.2 602.0,497.2 602.0,503.5 603.5,503.5 603.5,507.7 605.0,507.7 605.0,509.4 606.5,509.4 606.5,510.2 608.0,510.2 608.0,512.5 609.5,512.5 609.5,510.5 611.0,510.5 611.0,511.0 612.5,511.0 612.5,512.5 614.0,512.5 614.0,511.4 615.5,511.4 615.5,509.6 617.0,509.6 617.0,508.2 618.5,508.2 618.5,505.9 620.0,505.9 620.0,502.9 621.5,502.9 621.5,498.7 623.0,498.7 623.0,495.8 624.5,495.8 624.5,496.2 626.0,496.2 626.0,499.4 627.5,499.4 627.5,507.2 629.0,507.2 629.0,507.8 630.5,507.8 630.5,508.9 632.0,508.9 632.0,508.7 633.5,508.7 633.5,508.9 635.0,508.9 635.0,507.8 636.5,507.8 636.5,506.1 638.0,506.1 638.0,504.7 639.5,504.7 639.5,499.9 641.0,499.9 641.0,494.2 642.5,494.2 642.5,486.3 644.0,486.3 644.0,484.7 645.5,484.7 645.5,486.0 647.0,486.0 647.0,487.7 648.5,487.7 648.5,485.6 650.0,485.6 650.0,489.1 651.5,489.1 651.5,489.8 653.0,489.8 653.0,490.7 654.5,490.7 654.5,490.0 656.0,490.0 656.0,493.1 657.5,493.1 657.5,493.0 659.0,493.0 659.0,494.7 660.5,494.7 660.5,494.9 662.0,494.9 662.0,496.8 663.5,496.8 663.5,498.1 665.0,498.1 665.0,498.9 666.5,498.9 666.5,498.0 668.0,498.0 668.0,500.2 669.5,500.2 669.5,501.5 671.0,501.5 671.0,499.4 672.5,499.4 672.5,503.0 674.0,503.0 674.0,500.3 675.5,500.3 675.5,503.3 677.0,503.3 677.0,504.0 678.5,504.0 678.5,505.8 680.0,505.8 680.0,505.0 681.5,505.0 681.5,504.8 683.0,504.8 683.0,506.1 684.5,506.1 684.5,506.8 686.0,506.8 686.0,508.3 687.5,508.3 687.5,509.3 689.0,509.3 689.0,510.6 690.5,510.6 690.5,515.0 692.0,515.0 692.0,515.7 693.5,515.7 693.5,515.3 695.0,515.3 695.0,517.0 696.5,517.0 696.5,515.6 698.0,515.6 698.0,516.2 699.5,516.2 699.5,516.4 701.0,516.4 701.0,518.7 702.5,518.7 702.5,518.1 704.0,518.1 704.0,515.8 705.5,515.8 705.5,513.7 707.0,513.7 707.0,515.6 708.5,515.6 708.5,515.0 710.0,515.0 710.0,514.9 711.5,514.9 711.5,514.8 713.0,514.8 713.0,513.6 714.5,513.6 714.5,515.1 716.0,515.1 716.0,515.0 717.5,515.0 717.5,514.3 719.0,514.3 719.0,513.5 720.5,513.5 720.5,513.4 722.0,513.4 722.0,514.8 723.5,514.8 723.5,512.7 725.0,512.7 725.0,513.8 726.5,513.8 726.5,513.1 728.0,513.1 728.0,512.3 729.5,512.3 729.5,514.7 731.0,514.7 731.0,512.8 732.5,512.8 732.5,511.1 734.0,511.1 734.0,509.3 735.5,509.3 735.5,507.6 737.0,507.6 737.0,502.0 738.5,502.0 738.5,491.7 740.0,491.7 740.0,488.9 741.5,488.9 741.5,486.7 743.0,486.7 743.0,488.6 744.5,488.6 744.5,487.5 746.0,487.5 746.0,490.9 747.5,490.9 747.5,494.5 749.0,494.5 749.0,500.1 750.5,500.1 750.5,504.1 752.0,504.1 752.0,507.0 753.5,507.0 753.5,507.8 755.0,507.8 755.0,508.5 756.5,508.5 756.5,509.2 758.0,509.2 758.0,510.7 759.5,510.7 759.5,513.3 761.0,513.3 761.0,510.8 762.5,510.8 762.5,510.1 764.0,510.1 764.0,509.9 765.5,509.9 765.5,509.0 767.0,509.0 767.0,509.8 768.5,509.8 768.5,507.3 770.0,507.3 770.0,509.3 771.5,509.3 771.5,509.1 773.0,509.1 773.0,509.0 774.5,509.0 774.5,509.0 776.0,509.0 776.0,509.0 777.5,509.0 777.5,509.0 779.0,509.0 779.0,509.0 780.5,509.0 780.5,509.0 782.0,509.0 782.0,509.0 783.5,509.0 783.5,509.0 785.0,509.0 785.0,509.0 786.5,509.0 786.5,509.0 788.0,509.0 788.0,509.0 789.5,509.0 789.5,509.0 791.0,509.0 791.0,507.2 792.5,507.2 792.5,504.4 794.0,504.4 794.0,502.3 795.5,502.3 795.5,501.2 797.0,501.2 797.0,499.6 798.5,499.6 798.5,501.7 800.0,501.7 800.0,499.2 801.5,499.2 801.5,499.8 803.0,499.8 803.0,497.7 804.5,497.7 804.5,499.1 806.0,499.1 806.0,499.1 807.5,499.1 807.5,501.8 809.0,501.8 809.0,500.6 810.5,500.6 810.5,497.2 812.0,497.2 812.0,494.6 813.5,494.6 813.5,492.0 815.0,492.0 815.0,492.3 816.5,492.3 816.5,493.8 818.0,493.8 818.0,494.6 819.5,494.6 819.5,498.9 821.0,498.9 821.0,501.9 822.5,501.9 822.5,507.5 824.0,507.5 824.0,509.0 825.5,509.0 825.5,510.4 827.0,510.4 827.0,513.5 828.5,513.5 828.5,515.2 830.0,515.2 830.0,514.7 831.5,514.7 831.5,514.1 833.0,514.1 833.0,514.8 834.5,514.8 834.5,516.1 836.0,516.1 836.0,515.4 837.5,515.4 837.5,514.3 839.0,514.3 839.0,515.4 840.5,515.4 840.5,514.8 842.0,514.8 842.0,515.6 843.5,515.6 843.5,514.5 845.0,514.5 845.0,513.3 846.5,513.3 846.5,514.1 848.0,514.1 848.0,511.9 849.5,511.9 849.5,508.0 851.0,508.0 851.0,506.7 852.5,506.7 852.5,506.2 854.0,506.2 854.0,505.7 855.5,505.7 855.5,503.9 857.0,503.9 857.0,505.5 858.5,505.5 858.5,506.2 860.0,506.2 860.0,507.0 861.5,507.0 861.5,505.0 863.0,505.0 863.0,504.3 864.5,504.3 864.5,500.9 866.0,500.9 866.0,498.7 867.5,498.7 867.5,500.0 869.0,500.0 869.0,497.0 870.5,497.0 870.5,495.7 872.0,495.7 872.0,491.9 873.5,491.9 873.5,497.5 875.0,497.5 875.0,496.3 876.5,496.3 876.5,499.5 878.0,499.5 878.0,501.2 879.5,501.2 879.5,502.1 881.0,502.1 881.0,499.6 882.5,499.6 882.5,500.2 884.0,500.2 884.0,501.4 885.5,501.4 885.5,499.1 887.0,499.1 887.0,502.3 888.5,502.3 888.5,502.4 890.0,502.4 890.0,501.5 891.5,501.5 891.5,505.8 893.0,505.8 893.0,508.8 894.5,508.8 894.5,512.1 896.0,512.1 896.0,515.1 897.5,515.1 897.0,507.5" fill="#1ec0f0"/>
<rect x="162.5" y="474.0" width="6.0" height="33.5" fill="#ff00ff"/>
<rect x="590.0" y="477.0" width="5.0" height="30.5" fill="#ff00ff"/>
<rect x="643.0" y="484.4" width="3.5" height="23.1" fill="#ff00ff"/>
<rect x="738.5" y="486.4" width="5.5" height="21.1" fill="#ff00ff"/>
<rect x="812.5" y="491.6" width="4.5" height="15.9" fill="#ff00ff"/>
<line x1="5" y1="507.5" x2="1065" y2="507.5" stroke="#7a7a7a" stroke-width="1.2"/>
<path d="M5.0,510.8 L6.5,510.0 L8.0,509.1 L9.5,508.1 L11.0,507.2 L12.5,506.5 L14.0,506.1 L15.5,505.8 L17.0,505.6 L18.5,505.3 L20.0,505.1 L21.5,504.9 L23.0,504.9 L24.5,504.8 L26.0,504.7 L27.5,504.6 L29.0,504.5 L30.5,504.3 L32.0,503.9 L33.5,503.4 L35.0,503.0 L36.5,502.6 L38.0,502.2 L39.5,501.8 L41.0,501.5 L42.5,501.1 L44.0,501.1 L45.5,501.8 L47.0,502.8 L48.5,503.7 L50.0,504.7 L51.5,505.7 L53.0,506.8 L54.5,507.9 L56.0,509.0 L57.5,510.1 L59.0,511.2 L60.5,512.0 L62.0,512.6 L63.5,513.0 L65.0,513.4 L66.5,513.7 L68.0,513.5 L69.5,513.1 L71.0,512.5 L72.5,511.9 L74.0,511.4 L75.5,510.8 L77.0,510.1 L78.5,509.4 L80.0,508.8 L81.5,508.1 L83.0,507.4 L84.5,506.8 L86.0,506.6 L87.5,506.5 L89.0,506.5 L90.5,506.5 L92.0,506.5 L93.5,506.8 L95.0,507.2 L96.5,507.8 L98.0,508.3 L99.5,508.8 L101.0,509.5 L102.5,510.1 L104.0,510.8 L105.5,511.5 L107.0,512.2 L108.5,512.8 L110.0,513.3 L111.5,513.4 L113.0,513.3 L114.5,513.1 L116.0,513.0 L117.5,512.9 L119.0,512.8 L120.5,512.6 L122.0,512.4 L123.5,512.1 L125.0,511.9 L126.5,511.6 L128.0,511.3 L129.5,511.2 L131.0,511.3 L132.5,511.6 L134.0,512.0 L135.5,512.4 L137.0,512.8 L138.5,513.1 L140.0,513.3 L141.5,513.1 L143.0,512.8 L144.5,512.4 L146.0,512.0 L147.5,511.6 L149.0,511.2 L150.5,510.8 L152.0,510.2 L153.5,509.6 L155.0,509.0 L156.5,508.4 L158.0,507.8 L159.5,506.9 L161.0,505.2 L162.5,503.0 L164.0,500.5 L165.5,498.1 L167.0,495.7 L168.5,493.2 L170.0,490.8 L171.5,488.6 L173.0,487.0 L174.5,486.0 L176.0,485.2 L177.5,484.6 L179.0,484.8 L180.5,485.6 L182.0,486.6 L183.5,487.5 L185.0,489.0 L186.5,491.4 L188.0,494.2 L189.5,497.1 L191.0,499.7 L192.5,501.8 L194.0,503.1 L195.5,504.1 L197.0,505.0 L198.5,506.0 L200.0,506.8 L201.5,507.1 L203.0,507.3 L204.5,507.5 L206.0,507.6 L207.5,507.8 L209.0,507.9 L210.5,507.8 L212.0,507.5 L213.5,507.1 L215.0,506.6 L216.5,506.2 L218.0,505.8 L219.5,505.5 L221.0,505.3 L222.5,505.2 L224.0,505.2 L225.5,505.2 L227.0,505.1 L228.5,505.1 L230.0,505.1 L231.5,505.1 L233.0,505.4 L234.5,505.9 L236.0,506.5 L237.5,507.1 L239.0,507.7 L240.5,508.4 L242.0,509.2 L243.5,510.2 L245.0,511.1 L246.5,512.1 L248.0,512.8 L249.5,513.1 L251.0,513.2 L252.5,513.3 L254.0,513.4 L255.5,513.3 L257.0,513.0 L258.5,512.4 L260.0,511.7 L261.5,511.0 L263.0,510.3 L264.5,509.7 L266.0,509.5 L267.5,509.4 L269.0,509.4 L270.5,509.4 L272.0,509.4 L273.5,509.4 L275.0,509.5 L276.5,509.6 L278.0,509.9 L279.5,510.1 L281.0,510.4 L282.5,510.6 L284.0,510.8 L285.5,511.0 L287.0,511.2 L288.5,511.4 L290.0,511.5 L291.5,511.6 L293.0,511.8 L294.5,511.9 L296.0,511.9 L297.5,511.8 L299.0,511.6 L300.5,511.4 L302.0,511.3 L303.5,511.1 L305.0,510.9 L306.5,510.6 L308.0,510.3 L309.5,509.9 L311.0,509.6 L312.5,509.2 L314.0,508.9 L315.5,508.6 L317.0,508.4 L318.5,508.3 L320.0,508.2 L321.5,508.2 L323.0,508.4 L324.5,508.9 L326.0,509.5 L327.5,510.1 L329.0,510.6 L330.5,511.3 L332.0,512.1 L333.5,512.9 L335.0,513.7 L336.5,514.3 L338.0,514.3 L339.5,513.9 L341.0,513.4 L342.5,512.9 L344.0,512.3 L345.5,511.6 L347.0,510.6 L348.5,509.6 L350.0,508.6 L351.5,507.5 L353.0,506.4 L354.5,505.2 L356.0,503.9 L357.5,502.6 L359.0,501.3 L360.5,500.4 L362.0,499.9 L363.5,499.5 L365.0,499.1 L366.5,498.7 L368.0,498.3 L369.5,498.0 L371.0,497.7 L372.5,497.3 L374.0,497.3 L375.5,497.9 L377.0,498.8 L378.5,499.7 L380.0,500.6 L381.5,501.5 L383.0,502.3 L384.5,503.1 L386.0,503.9 L387.5,504.7 L389.0,505.4 L390.5,505.9 L392.0,506.0 L393.5,506.0 L395.0,506.0 L396.5,506.0 L398.0,506.0 L399.5,506.0 L401.0,505.9 L402.5,505.8 L404.0,505.7 L405.5,505.5 L407.0,505.4 L408.5,505.3 L410.0,505.2 L411.5,505.0 L413.0,504.8 L414.5,504.6 L416.0,504.4 L417.5,504.1 L419.0,503.9 L420.5,503.6 L422.0,503.4 L423.5,503.1 L425.0,502.8 L426.5,502.4 L428.0,501.9 L429.5,501.4 L431.0,501.0 L432.5,500.5 L434.0,500.0 L435.5,499.5 L437.0,499.1 L438.5,499.0 L440.0,498.9 L441.5,498.9 L443.0,498.8 L444.5,498.8 L446.0,498.8 L447.5,498.8 L449.0,499.1 L450.5,499.5 L452.0,499.9 L453.5,500.4 L455.0,500.9 L456.5,501.3 L458.0,501.7 L459.5,501.9 L461.0,502.1 L462.5,502.2 L464.0,502.2 L465.5,502.0 L467.0,501.5 L468.5,500.8 L470.0,500.1 L471.5,499.4 L473.0,498.9 L474.5,498.9 L476.0,499.2 L477.5,499.4 L479.0,499.7 L480.5,500.3 L482.0,501.4 L483.5,502.5 L485.0,503.7 L486.5,504.8 L488.0,506.0 L489.5,507.0 L491.0,508.0 L492.5,509.0 L494.0,510.0 L495.5,511.0 L497.0,511.8 L498.5,512.4 L500.0,512.8 L501.5,513.1 L503.0,513.5 L504.5,513.9 L506.0,514.3 L507.5,514.6 L509.0,514.8 L510.5,515.0 L512.0,515.1 L513.5,515.2 L515.0,515.3 L516.5,515.4 L518.0,515.5 L519.5,515.5 L521.0,515.5 L522.5,515.5 L524.0,515.4 L525.5,515.4 L527.0,515.3 L528.5,515.3 L530.0,515.2 L531.5,515.1 L533.0,515.1 L534.5,514.9 L536.0,514.4 L537.5,513.8 L539.0,513.0 L540.5,512.2 L542.0,511.5 L543.5,510.8 L545.0,510.1 L546.5,509.6 L548.0,509.2 L549.5,508.9 L551.0,508.5 L552.5,508.3 L554.0,508.4 L555.5,508.8 L557.0,509.2 L558.5,509.6 L560.0,510.1 L561.5,510.6 L563.0,511.1 L564.5,511.7 L566.0,512.3 L567.5,513.0 L569.0,513.6 L570.5,514.2 L572.0,514.6 L573.5,514.5 L575.0,514.3 L576.5,514.0 L578.0,513.7 L579.5,513.5 L581.0,513.1 L582.5,512.3 L584.0,511.0 L585.5,509.5 L587.0,508.0 L588.5,506.5 L590.0,504.7 L591.5,502.3 L593.0,499.7 L594.5,497.0 L596.0,494.5 L597.5,492.7 L599.0,491.6 L600.5,490.8 L602.0,490.2 L603.5,490.4 L605.0,491.5 L606.5,493.1 L608.0,494.9 L609.5,497.3 L611.0,499.9 L612.5,502.6 L614.0,505.1 L615.5,507.2 L617.0,508.6 L618.5,509.8 L620.0,510.5 L621.5,510.4 L623.0,509.7 L624.5,509.1 L626.0,508.4 L627.5,507.9 L629.0,507.5 L630.5,507.1 L632.0,506.6 L633.5,506.2 L635.0,505.8 L636.5,505.3 L638.0,504.6 L639.5,503.8 L641.0,502.9 L642.5,501.9 L644.0,500.9 L645.5,499.7 L647.0,498.2 L648.5,496.5 L650.0,494.8 L651.5,493.3 L653.0,492.3 L654.5,491.7 L656.0,491.2 L657.5,490.9 L659.0,491.0 L660.5,491.6 L662.0,492.3 L663.5,492.9 L665.0,493.7 L666.5,494.5 L668.0,495.4 L669.5,496.2 L671.0,497.1 L672.5,497.9 L674.0,498.7 L675.5,499.5 L677.0,500.3 L678.5,501.0 L680.0,501.8 L681.5,502.6 L683.0,503.4 L684.5,504.1 L686.0,504.9 L687.5,505.7 L689.0,506.5 L690.5,507.2 L692.0,508.0 L693.5,508.8 L695.0,509.5 L696.5,510.2 L698.0,511.0 L699.5,511.7 L701.0,512.1 L702.5,512.5 L704.0,512.8 L705.5,513.0 L707.0,513.3 L708.5,513.4 L710.0,513.3 L711.5,513.2 L713.0,513.1 L714.5,513.0 L716.0,512.9 L717.5,512.8 L719.0,512.7 L720.5,512.7 L722.0,512.7 L723.5,512.7 L725.0,512.7 L726.5,512.7 L728.0,512.7 L729.5,512.6 L731.0,512.4 L732.5,512.2 L734.0,512.0 L735.5,511.4 L737.0,510.3 L738.5,509.0 L740.0,507.7 L741.5,506.3 L743.0,504.4 L744.5,502.1 L746.0,499.8 L747.5,497.7 L749.0,496.2 L750.5,495.1 L752.0,494.7 L753.5,495.2 L755.0,496.3 L756.5,497.5 L758.0,498.9 L759.5,500.6 L761.0,502.4 L762.5,504.1 L764.0,505.7 L765.5,506.9 L767.0,507.6 L768.5,508.1 L770.0,508.5 L771.5,509.0 L773.0,509.4 L774.5,509.8 L776.0,510.1 L777.5,510.2 L779.0,510.4 L780.5,510.6 L782.0,510.7 L783.5,510.9 L785.0,510.9 L786.5,510.6 L788.0,510.3 L789.5,509.9 L791.0,509.6 L792.5,509.2 L794.0,508.8 L795.5,508.3 L797.0,507.7 L798.5,507.0 L800.0,506.3 L801.5,505.6 L803.0,504.9 L804.5,504.2 L806.0,503.3 L807.5,502.4 L809.0,501.5 L810.5,500.5 L812.0,499.6 L813.5,498.6 L815.0,497.9 L816.5,497.4 L818.0,497.1 L819.5,496.8 L821.0,496.6 L822.5,496.6 L824.0,496.9 L825.5,497.3 L827.0,497.8 L828.5,498.2 L830.0,498.9 L831.5,500.1 L833.0,501.4 L834.5,502.8 L836.0,504.2 L837.5,505.5 L839.0,506.9 L840.5,508.1 L842.0,509.4 L843.5,510.7 L845.0,511.8 L846.5,512.3 L848.0,512.6 L849.5,513.0 L851.0,513.2 L852.5,513.1 L854.0,512.6 L855.5,512.0 L857.0,511.3 L858.5,510.7 L860.0,509.9 L861.5,509.1 L863.0,508.2 L864.5,507.3 L866.0,506.4 L867.5,505.5 L869.0,504.6 L870.5,503.8 L872.0,503.1 L873.5,502.4 L875.0,501.8 L876.5,501.1 L878.0,500.4 L879.5,499.8 L881.0,499.3 L882.5,499.0 L884.0,498.7 L885.5,498.6 L887.0,498.8 L888.5,499.4 L890.0,500.0 L891.5,500.7 L893.0,501.5 L894.5,502.8 L896.0,503.9" fill="none" stroke="#ff8c00" stroke-width="2.2"/>
<path d="M5.5,558.5V546.0M7.0,558.5V547.2M8.5,558.5V546.5M10.0,558.5V546.5M11.5,558.5V537.8M13.0,558.5V547.9M14.5,558.5V547.6M16.0,558.5V547.1M17.5,558.5V546.9M19.0,558.5V545.6M20.5,558.5V544.9M22.0,558.5V548.2M23.5,558.5V549.9M25.0,558.5V546.6M26.5,558.5V540.4M28.0,558.5V549.9M29.5,558.5V546.9M31.0,558.5V550.1M32.5,558.5V546.6M34.0,558.5V549.8M35.5,558.5V547.2M37.0,558.5V549.6M38.5,558.5V547.2M40.0,558.5V547.0M41.5,558.5V541.4M43.0,558.5V548.1M44.5,558.5V548.4M46.0,558.5V549.4M47.5,558.5V547.1M49.0,558.5V546.0M50.5,558.5V544.8M52.0,558.5V545.1M53.5,558.5V549.0M55.0,558.5V544.2M56.5,558.5V543.9M58.0,558.5V541.9M59.5,558.5V545.1M61.0,558.5V541.8M62.5,558.5V542.6M64.0,558.5V542.4M65.5,558.5V543.4M67.0,558.5V546.3M68.5,558.5V543.9M70.0,558.5V546.2M71.5,558.5V545.8M73.0,558.5V544.5M74.5,558.5V546.5M76.0,558.5V548.8M77.5,558.5V549.1M79.0,558.5V547.4M80.5,558.5V544.7M82.0,558.5V547.5M83.5,558.5V547.3M85.0,558.5V546.9M86.5,558.5V546.1M88.0,558.5V546.1M89.5,558.5V548.1M91.0,558.5V545.2M92.5,558.5V546.7M94.0,558.5V547.0M95.5,558.5V547.8M97.0,558.5V545.6M98.5,558.5V549.5M100.0,558.5V545.7M101.5,558.5V546.4M103.0,558.5V547.9M104.5,558.5V547.7M106.0,558.5V546.4M107.5,558.5V545.9M109.0,558.5V548.4M110.5,558.5V547.5M112.0,558.5V547.7M113.5,558.5V548.3M115.0,558.5V549.4M116.5,558.5V550.6M118.0,558.5V546.3M119.5,558.5V547.8M121.0,558.5V550.7M122.5,558.5V549.8M124.0,558.5V546.7M125.5,558.5V542.9M127.0,558.5V547.2M128.5,558.5V549.7M130.0,558.5V550.7M131.5,558.5V550.7M133.0,558.5V551.0M134.5,558.5V547.4M136.0,558.5V548.3M137.5,558.5V550.1M139.0,558.5V547.4M140.5,558.5V550.6M142.0,558.5V545.6M143.5,558.5V547.6M145.0,558.5V551.2M146.5,558.5V551.9M148.0,558.5V548.6M149.5,558.5V549.6M151.0,558.5V550.4M152.5,558.5V547.7M154.0,558.5V551.7M155.5,558.5V550.5M157.0,558.5V551.3M158.5,558.5V548.6M160.0,558.5V550.7M161.5,558.5V550.0M163.0,558.5V544.1M164.5,558.5V544.8M166.0,558.5V548.4M167.5,558.5V544.2M169.0,558.5V548.1M170.5,558.5V546.0M172.0,558.5V544.8M173.5,558.5V546.1M175.0,558.5V547.2M176.5,558.5V545.8M178.0,558.5V548.7M179.5,558.5V544.5M181.0,558.5V546.1M182.5,558.5V547.2M184.0,558.5V541.3M185.5,558.5V541.8M187.0,558.5V546.7M188.5,558.5V547.9M190.0,558.5V545.9M191.5,558.5V545.9M193.0,558.5V547.3M194.5,558.5V544.9M196.0,558.5V548.6M197.5,558.5V548.7M199.0,558.5V548.0M200.5,558.5V546.3M202.0,558.5V549.3M203.5,558.5V548.4M205.0,558.5V548.8M206.5,558.5V547.2M208.0,558.5V546.2M209.5,558.5V542.4M211.0,558.5V545.6M212.5,558.5V546.4M214.0,558.5V545.2M215.5,558.5V545.7M217.0,558.5V544.0M218.5,558.5V546.3M220.0,558.5V546.8M221.5,558.5V541.3M223.0,558.5V545.5M224.5,558.5V546.8M226.0,558.5V545.7M227.5,558.5V546.8M229.0,558.5V544.7M230.5,558.5V548.7M232.0,558.5V547.6M233.5,558.5V543.6M235.0,558.5V548.1M236.5,558.5V542.0M238.0,558.5V544.8M239.5,558.5V544.5M241.0,558.5V544.4M242.5,558.5V547.6M244.0,558.5V544.2M245.5,558.5V548.0M247.0,558.5V543.5M248.5,558.5V547.4M250.0,558.5V543.7M251.5,558.5V545.7M253.0,558.5V546.2M254.5,558.5V544.1M256.0,558.5V546.7M257.5,558.5V545.0M259.0,558.5V540.6M260.5,558.5V543.2M262.0,558.5V544.7M263.5,558.5V546.0M265.0,558.5V538.7M266.5,558.5V545.8M268.0,558.5V543.3M269.5,558.5V546.6M271.0,558.5V543.5M272.5,558.5V543.7M274.0,558.5V543.4M275.5,558.5V545.1M277.0,558.5V545.9M278.5,558.5V546.3M280.0,558.5V544.7M281.5,558.5V544.3M283.0,558.5V546.8M284.5,558.5V544.5M286.0,558.5V547.9M287.5,558.5V544.4M289.0,558.5V547.7M290.5,558.5V543.0M292.0,558.5V546.3M293.5,558.5V544.8M295.0,558.5V544.1M296.5,558.5V540.8M298.0,558.5V543.3M299.5,558.5V545.8M301.0,558.5V547.7M302.5,558.5V543.7M304.0,558.5V546.7M305.5,558.5V537.9M307.0,558.5V544.2M308.5,558.5V545.5M310.0,558.5V544.7M311.5,558.5V545.9M313.0,558.5V548.6M314.5,558.5V543.1M316.0,558.5V547.3M317.5,558.5V546.1M319.0,558.5V549.0M320.5,558.5V553.2M322.0,558.5V551.1M323.5,558.5V551.3M325.0,558.5V551.1M326.5,558.5V553.7M328.0,558.5V551.4M329.5,558.5V551.0M331.0,558.5V550.7M332.5,558.5V554.2M334.0,558.5V553.6M335.5,558.5V551.3M337.0,558.5V552.3M338.5,558.5V550.6M340.0,558.5V552.8M341.5,558.5V552.7M343.0,558.5V550.8M344.5,558.5V551.6M346.0,558.5V554.1M347.5,558.5V554.1M349.0,558.5V548.7M350.5,558.5V548.0M352.0,558.5V550.4M353.5,558.5V550.2M355.0,558.5V553.1M356.5,558.5V551.3M358.0,558.5V553.2M359.5,558.5V551.3M361.0,558.5V553.6M362.5,558.5V549.8M364.0,558.5V550.7M365.5,558.5V543.1M367.0,558.5V551.1M368.5,558.5V550.1M370.0,558.5V550.2M371.5,558.5V550.4M373.0,558.5V550.2M374.5,558.5V552.0M376.0,558.5V551.2M377.5,558.5V554.0M379.0,558.5V550.5M380.5,558.5V553.8M382.0,558.5V550.8M383.5,558.5V550.7M385.0,558.5V549.6M386.5,558.5V551.4M388.0,558.5V545.7M389.5,558.5V552.6M391.0,558.5V552.0M392.5,558.5V554.2M394.0,558.5V552.9M395.5,558.5V550.8M397.0,558.5V554.1M398.5,558.5V551.1M400.0,558.5V549.9M401.5,558.5V549.2M403.0,558.5V553.8M404.5,558.5V552.2M406.0,558.5V550.3M407.5,558.5V549.7M409.0,558.5V553.0M410.5,558.5V549.3M412.0,558.5V550.7M413.5,558.5V551.8M415.0,558.5V548.2M416.5,558.5V553.3M418.0,558.5V552.0M419.5,558.5V550.2M421.0,558.5V552.2M422.5,558.5V551.3M424.0,558.5V549.6M425.5,558.5V549.6M427.0,558.5V548.6M428.5,558.5V546.1M430.0,558.5V546.4M431.5,558.5V547.6M433.0,558.5V547.9M434.5,558.5V546.5M436.0,558.5V550.1M437.5,558.5V548.2M439.0,558.5V549.7M440.5,558.5V546.6M442.0,558.5V548.1M443.5,558.5V550.0M445.0,558.5V550.3M446.5,558.5V547.9M448.0,558.5V550.2M449.5,558.5V546.9M451.0,558.5V546.7M452.5,558.5V550.2M454.0,558.5V548.5M455.5,558.5V548.3M457.0,558.5V549.8M458.5,558.5V548.8M460.0,558.5V550.2M461.5,558.5V549.9M463.0,558.5V549.1M464.5,558.5V548.4M466.0,558.5V545.5M467.5,558.5V549.5M469.0,558.5V547.6M470.5,558.5V548.1M472.0,558.5V548.0M473.5,558.5V547.3M475.0,558.5V551.2M476.5,558.5V549.0M478.0,558.5V550.0M479.5,558.5V547.2M481.0,558.5V549.1M482.5,558.5V549.2M484.0,558.5V551.4M485.5,558.5V550.4M487.0,558.5V552.0M488.5,558.5V550.5M490.0,558.5V553.6M491.5,558.5V553.3M493.0,558.5V550.4M494.5,558.5V552.0M496.0,558.5V552.6M497.5,558.5V548.9M499.0,558.5V552.4M500.5,558.5V554.3M502.0,558.5V552.5M503.5,558.5V552.4M505.0,558.5V552.8M506.5,558.5V553.6M508.0,558.5V552.3M509.5,558.5V553.7M511.0,558.5V554.1M512.5,558.5V550.9M514.0,558.5V550.7M515.5,558.5V550.9M517.0,558.5V554.2M518.5,558.5V550.7M520.0,558.5V554.0M521.5,558.5V550.7M523.0,558.5V552.6M524.5,558.5V555.5M526.0,558.5V554.9M527.5,558.5V552.2M529.0,558.5V550.6M530.5,558.5V552.0M532.0,558.5V552.2M533.5,558.5V554.9M535.0,558.5V553.2M536.5,558.5V550.9M538.0,558.5V555.0M539.5,558.5V555.0M541.0,558.5V551.7M542.5,558.5V553.4M544.0,558.5V553.1M545.5,558.5V553.7M547.0,558.5V554.8M548.5,558.5V555.4M550.0,558.5V551.1M551.5,558.5V553.5M553.0,558.5V553.7M554.5,558.5V552.3M556.0,558.5V552.4M557.5,558.5V555.0M559.0,558.5V553.3M560.5,558.5V553.2M562.0,558.5V551.2M563.5,558.5V554.1M565.0,558.5V555.1M566.5,558.5V553.7M568.0,558.5V555.3M569.5,558.5V554.6M571.0,558.5V553.9M572.5,558.5V552.0M574.0,558.5V554.6M575.5,558.5V555.0M577.0,558.5V550.8M578.5,558.5V554.2M580.0,558.5V552.3M581.5,558.5V551.4M583.0,558.5V553.5M584.5,558.5V550.3M586.0,558.5V550.2M587.5,558.5V551.5M589.0,558.5V552.9M590.5,558.5V552.8M592.0,558.5V554.6M593.5,558.5V554.2M595.0,558.5V554.0M596.5,558.5V548.1M598.0,558.5V553.2M599.5,558.5V552.7M601.0,558.5V552.3M602.5,558.5V552.1M604.0,558.5V550.6M605.5,558.5V550.6M607.0,558.5V555.0M608.5,558.5V552.6M610.0,558.5V551.7M611.5,558.5V552.5M613.0,558.5V550.5M614.5,558.5V554.3M616.0,558.5V552.7M617.5,558.5V550.7M619.0,558.5V554.5M620.5,558.5V551.1M622.0,558.5V550.2M623.5,558.5V554.8M625.0,558.5V554.7M626.5,558.5V550.3M628.0,558.5V552.2M629.5,558.5V553.7M631.0,558.5V553.9M632.5,558.5V550.3M634.0,558.5V550.5M635.5,558.5V553.9M637.0,558.5V547.7M638.5,558.5V550.5M640.0,558.5V550.7M641.5,558.5V551.8M643.0,558.5V553.3M644.5,558.5V550.8M646.0,558.5V551.7M647.5,558.5V554.4M649.0,558.5V550.7M650.5,558.5V554.4M652.0,558.5V552.5M653.5,558.5V550.6M655.0,558.5V550.8M656.5,558.5V552.5M658.0,558.5V551.0M659.5,558.5V551.0M661.0,558.5V551.2M662.5,558.5V552.5M664.0,558.5V550.1M665.5,558.5V552.4M667.0,558.5V552.9M668.5,558.5V551.1M670.0,558.5V550.8M671.5,558.5V550.2M673.0,558.5V552.6M674.5,558.5V554.5M676.0,558.5V552.9M677.5,558.5V553.0M679.0,558.5V553.6M680.5,558.5V551.2M682.0,558.5V554.9M683.5,558.5V553.1M685.0,558.5V554.1M686.5,558.5V554.1M688.0,558.5V547.9M689.5,558.5V552.1M691.0,558.5V550.4M692.5,558.5V553.7M694.0,558.5V550.8M695.5,558.5V550.7M697.0,558.5V551.1M698.5,558.5V554.9M700.0,558.5V554.0M701.5,558.5V552.4M703.0,558.5V554.4M704.5,558.5V553.0M706.0,558.5V552.9M707.5,558.5V553.6M709.0,558.5V553.2M710.5,558.5V550.3M712.0,558.5V552.8M713.5,558.5V550.1M715.0,558.5V554.0M716.5,558.5V553.0M718.0,558.5V553.2M719.5,558.5V551.3M721.0,558.5V553.0M722.5,558.5V550.5M724.0,558.5V551.6M725.5,558.5V549.4M727.0,558.5V552.7M728.5,558.5V552.9M730.0,558.5V549.7M731.5,558.5V549.8M733.0,558.5V553.1M734.5,558.5V552.0M736.0,558.5V552.3M737.5,558.5V551.7M739.0,558.5V552.4M740.5,558.5V548.6M742.0,558.5V552.3M743.5,558.5V551.0M745.0,558.5V547.5M746.5,558.5V548.0M748.0,558.5V552.0M749.5,558.5V550.9M751.0,558.5V549.5M752.5,558.5V549.5M754.0,558.5V550.8M755.5,558.5V548.1M757.0,558.5V551.1M758.5,558.5V550.9M760.0,558.5V548.1M761.5,558.5V547.7M763.0,558.5V548.3M764.5,558.5V552.1M766.0,558.5V548.4M767.5,558.5V550.3M769.0,558.5V549.2M770.5,558.5V551.9M772.0,558.5V552.0M773.5,558.5V551.2M775.0,558.5V546.8M776.5,558.5V551.8M778.0,558.5V551.2M779.5,558.5V549.1M781.0,558.5V550.2M782.5,558.5V550.1M784.0,558.5V552.2M785.5,558.5V551.0M787.0,558.5V550.9M788.5,558.5V552.7M790.0,558.5V551.3M791.5,558.5V549.9M793.0,558.5V551.4M794.5,558.5V550.5M796.0,558.5V552.9M797.5,558.5V552.2M799.0,558.5V550.8M800.5,558.5V551.8M802.0,558.5V551.6M803.5,558.5V548.2M805.0,558.5V548.7M806.5,558.5V552.5M808.0,558.5V550.9M809.5,558.5V548.2M811.0,558.5V551.7M812.5,558.5V549.4M814.0,558.5V549.5M815.5,558.5V550.1M817.0,558.5V551.2M818.5,558.5V551.4M820.0,558.5V552.8M821.5,558.5V551.5M823.0,558.5V548.8M824.5,558.5V552.1M826.0,558.5V549.7M827.5,558.5V550.6M829.0,558.5V548.8M830.5,558.5V548.9M832.0,558.5V548.3M833.5,558.5V549.9M835.0,558.5V552.8M836.5,558.5V549.5M838.0,558.5V549.0M839.5,558.5V550.2M841.0,558.5V549.3M842.5,558.5V549.9M844.0,558.5V549.3M845.5,558.5V552.5M847.0,558.5V552.2M848.5,558.5V551.9M850.0,558.5V548.8M851.5,558.5V550.4M853.0,558.5V551.4M854.5,558.5V549.4M856.0,558.5V552.8M857.5,558.5V549.9M859.0,558.5V550.1M860.5,558.5V549.2M862.0,558.5V551.8M863.5,558.5V553.7M865.0,558.5V550.2M866.5,558.5V551.7M868.0,558.5V552.4M869.5,558.5V553.0M871.0,558.5V550.5M872.5,558.5V553.8M874.0,558.5V552.5M875.5,558.5V551.0M877.0,558.5V552.7M878.5,558.5V551.0M880.0,558.5V550.7M881.5,558.5V553.4M883.0,558.5V551.6M884.5,558.5V553.5M886.0,558.5V550.7M887.5,558.5V551.1M889.0,558.5V553.3M890.5,558.5V551.9M892.0,558.5V551.9M893.5,558.5V553.2M895.0,558.5V553.2M896.5,558.5V552.4" stroke="#0000ff" stroke-width="1.6" fill="none"/>
<rect x="11.0" y="533.0" width="2" height="25.5" fill="#0000ff"/>
<rect x="13.0" y="536.0" width="2" height="22.5" fill="#0000ff"/>
<rect x="164.0" y="530.0" width="2" height="28.5" fill="#0000ff"/>
<rect x="168.0" y="533.0" width="2" height="25.5" fill="#0000ff"/>
<rect x="206.0" y="541.6" width="2" height="16.9" fill="#0000ff"/>
<rect x="215.0" y="536.4" width="2" height="22.1" fill="#0000ff"/>
<rect x="250.0" y="538.0" width="2" height="20.5" fill="#0000ff"/>
<rect x="257.0" y="538.0" width="2" height="20.5" fill="#0000ff"/>
<rect x="288.0" y="536.7" width="2" height="21.8" fill="#0000ff"/>
<rect x="298.0" y="532.7" width="2" height="25.8" fill="#0000ff"/>
<rect x="585.0" y="542.8" width="2" height="15.7" fill="#0000ff"/>
<rect x="598.0" y="545.8" width="2" height="12.7" fill="#0000ff"/>
<rect x="745.0" y="544.3" width="2" height="14.2" fill="#0000ff"/>
<rect x="775.0" y="542.8" width="2" height="15.7" fill="#0000ff"/>
<rect x="855.0" y="542.8" width="2" height="15.7" fill="#0000ff"/>
<polygon points="5.0,594.3 5.0,589.0 9.0,593.0 12.0,589.0 20.0,589.0 22.0,591.0 30.0,591.0 33.0,590.0 42.0,590.0 44.0,594.0 48.0,605.0 52.0,599.0 58.0,598.0 62.0,598.0 66.0,606.0 72.0,608.0 78.0,603.0 88.0,603.0 90.0,594.0 96.0,588.0 103.0,585.0 108.0,590.0 112.0,591.0 118.0,594.0 123.0,591.0 130.0,590.0 140.0,591.0 144.0,594.0 150.0,592.0 158.0,593.0 161.0,597.0 166.0,610.0 170.0,612.0 175.0,604.0 178.0,594.0 183.0,590.0 190.0,586.0 196.0,590.0 200.0,594.0 210.0,592.0 214.0,596.0 218.0,599.0 222.0,597.0 230.0,597.0 233.0,586.0 250.0,585.0 252.0,579.0 256.0,586.0 262.0,589.0 270.0,592.0 273.0,598.0 280.0,606.0 286.0,602.0 290.0,594.0 297.0,594.0 300.0,600.0 305.0,594.0 320.0,590.0 330.0,590.0 340.0,590.0 350.0,592.0 355.0,593.0 400.0,593.0 404.0,600.0 410.0,603.0 416.0,598.0 440.0,597.0 445.0,594.0 455.0,592.0 458.0,597.0 466.0,603.0 472.0,600.0 476.0,594.0 480.0,589.0 490.0,586.0 500.0,587.0 503.0,593.0 510.0,591.0 520.0,592.0 550.0,590.0 575.0,591.0 590.0,590.0 600.0,590.0 602.0,594.0 608.0,599.0 620.0,597.0 630.0,598.0 640.0,596.0 660.0,596.0 665.0,592.0 700.0,591.0 705.0,590.0 722.0,594.0 728.0,599.0 742.0,598.0 748.0,594.0 755.0,591.0 770.0,591.0 775.0,588.0 782.0,590.0 786.0,594.0 795.0,599.0 808.0,597.0 812.0,594.0 825.0,588.0 830.0,586.0 838.0,590.0 845.0,594.0 856.0,597.0 870.0,596.0 876.0,594.0 882.0,589.0 897.0,589.0 897.0,594.3" fill="#30f030"/>
<path d="M40.0,564.5V565.6M41.0,564.3V566.9M42.0,564.3V568.5M43.0,564.3V570.4M44.0,564.8V572.1M45.0,565.6V573.6M46.0,566.9V574.7M47.0,568.5V575.6M48.0,570.4V576.3M49.0,572.1V576.9M50.0,573.6V577.5M51.0,574.7V578.1M52.0,575.6V578.7M53.0,576.3V579.3M54.0,576.9V579.8M55.0,577.5V580.4M56.0,578.1V581.3M57.0,578.7V582.5M58.0,579.3V583.9M59.0,579.8V585.7M60.0,580.4V587.7M61.0,581.3V589.8M62.0,582.5V591.9M63.0,583.9V593.9M64.0,585.7V596.0M65.0,587.7V598.0M66.0,589.8V600.1M67.0,591.9V602.1M68.0,593.9V604.2M69.0,596.0V606.2M70.0,598.0V608.1M71.0,600.1V610.0M72.0,602.1V611.8M73.0,604.2V613.6M74.0,606.2V615.3M75.0,608.1V617.1M76.0,610.0V618.7M77.0,611.8V620.2M78.0,613.6V621.5M79.0,615.3V622.6M80.0,617.1V623.6M81.0,618.7V624.7M82.0,620.2V625.4M83.0,621.5V625.7M84.0,622.6V625.8M85.0,623.6V625.5M86.0,624.7V624.9M114.0,604.5V604.7M115.0,604.4V604.8M116.0,604.3V604.9M117.0,604.4V604.9M118.0,604.5V604.7M154.0,597.0V597.4M155.0,597.0V598.2M156.0,597.0V599.4M157.0,597.0V601.1M158.0,597.0V603.1M159.0,597.4V605.4M160.0,598.2V608.0M161.0,599.4V610.8M162.0,601.1V613.8M163.0,603.1V617.1M164.0,605.4V619.9M165.0,608.0V622.3M166.0,610.8V624.3M167.0,613.8V625.7M168.0,617.1V626.8M169.0,619.9V627.6M170.0,622.3V628.3M171.0,624.3V628.8M172.0,625.7V629.1M173.0,626.8V629.2M174.0,627.6V629.4M175.0,628.3V629.5M176.0,628.8V629.4M177.0,629.1V629.1M209.0,613.9V614.1M210.0,613.8V614.6M211.0,613.6V615.2M212.0,613.7V615.7M213.0,613.8V616.3M214.0,614.1V616.9M215.0,614.6V617.4M216.0,615.2V617.9M217.0,615.7V618.3M218.0,616.3V618.7M219.0,616.9V619.1M220.0,617.4V619.5M221.0,617.9V619.8M222.0,618.3V620.2M223.0,618.7V620.5M224.0,619.1V620.6M225.0,619.5V620.4M226.0,619.8V620.0M269.0,570.5V571.3M270.0,570.0V572.3M271.0,569.9V573.5M272.0,570.1V574.9M273.0,570.5V576.5M274.0,571.3V578.2M275.0,572.3V580.0M276.0,573.5V581.9M277.0,574.9V583.6M278.0,576.5V585.0M279.0,578.2V586.1M280.0,580.0V587.0M281.0,581.9V587.7M282.0,583.6V588.4M283.0,585.0V589.1M284.0,586.1V589.6M285.0,587.0V589.9M286.0,587.7V590.2M287.0,588.4V590.2M288.0,589.1V590.1M289.0,589.6V590.1M290.0,589.9V590.0M292.0,590.2V590.3M293.0,590.1V590.6M294.0,590.1V591.2M295.0,590.0V591.9M296.0,590.0V592.5M297.0,590.3V593.3M298.0,590.6V594.1M299.0,591.2V595.0M300.0,591.9V595.9M301.0,592.5V597.0M302.0,593.3V597.8M303.0,594.1V598.5M304.0,595.0V599.0M305.0,595.9V599.3M306.0,597.0V599.4M307.0,597.8V599.6M308.0,598.5V599.7M309.0,599.0V599.8M310.0,599.3V599.9M311.0,599.4V600.0M312.0,599.6V600.0M313.0,599.7V600.0M314.0,599.8V599.8M368.0,580.7V580.7M369.0,580.6V580.8M370.0,580.6V581.0M371.0,580.6V581.2M372.0,580.6V581.4M373.0,580.7V581.5M374.0,580.8V581.7M375.0,581.0V581.9M376.0,581.2V582.0M377.0,581.4V582.0M378.0,581.5V582.0M379.0,581.7V582.0M380.0,581.9V581.9M391.0,581.2V581.4M392.0,581.2V581.4M393.0,581.2V581.5M394.0,581.2V581.9M395.0,581.3V582.7M396.0,581.4V583.8M397.0,581.4V585.3M398.0,581.5V587.1M399.0,581.9V588.9M400.0,582.7V590.5M401.0,583.8V592.0M402.0,585.3V593.4M403.0,587.1V594.7M404.0,588.9V596.1M405.0,590.5V597.4M406.0,592.0V598.6M407.0,593.4V599.6M408.0,594.7V600.6M409.0,596.1V601.4M410.0,597.4V602.0M411.0,598.6V602.7M412.0,599.6V603.3M413.0,600.6V603.9M414.0,601.4V604.3M415.0,602.0V604.7M416.0,602.7V605.0M417.0,603.3V605.3M418.0,603.9V605.6M419.0,604.3V605.9M420.0,604.7V606.3M421.0,605.0V606.7M422.0,605.3V607.1M423.0,605.6V607.5M424.0,605.9V608.0M425.0,606.3V608.4M426.0,606.7V608.9M427.0,607.1V609.5M428.0,607.5V610.1M429.0,608.0V610.8M430.0,608.4V611.6M431.0,608.9V612.4M432.0,609.5V613.1M433.0,610.1V613.9M434.0,610.8V614.5M435.0,611.6V615.0M436.0,612.4V615.3M437.0,613.1V615.5M438.0,613.9V615.6M439.0,614.5V615.6M440.0,615.0V615.7M441.0,615.3V615.8M442.0,615.5V615.8M443.0,615.6V615.8M444.0,615.6V615.7M452.0,615.1V615.5M453.0,615.0V616.1M454.0,614.8V617.0M455.0,614.8V617.8M456.0,615.0V618.7M457.0,615.5V619.6M458.0,616.1V620.6M459.0,617.0V621.6M460.0,617.8V622.6M461.0,618.7V623.6M462.0,619.6V624.6M463.0,620.6V625.5M464.0,621.6V626.4M465.0,622.6V627.3M466.0,623.6V628.0M467.0,624.6V628.8M468.0,625.5V629.3M469.0,626.4V629.5M470.0,627.3V629.3M471.0,628.0V628.8M518.0,592.1V592.1M519.0,592.0V592.2M520.0,591.9V592.3M521.0,592.0V592.4M522.0,592.1V592.5M523.0,592.1V592.6M524.0,592.2V592.8M525.0,592.3V593.0M526.0,592.4V593.1M527.0,592.5V593.3M528.0,592.6V593.5M529.0,592.8V593.8M530.0,593.0V594.1M531.0,593.1V594.5M532.0,593.3V594.9M533.0,593.5V595.4M534.0,593.8V596.0M535.0,594.1V596.5M536.0,594.5V597.0M537.0,594.9V597.4M538.0,595.4V597.8M539.0,596.0V598.1M540.0,596.5V598.3M541.0,597.0V598.4M542.0,597.4V598.6M543.0,597.8V598.7M544.0,598.1V598.7M545.0,598.3V598.6M597.0,582.8V583.2M598.0,582.6V583.7M599.0,582.5V584.2M600.0,582.6V584.7M601.0,582.8V585.3M602.0,583.2V585.9M603.0,583.7V586.5M604.0,584.2V587.2M605.0,584.7V588.0M606.0,585.3V588.8M607.0,585.9V589.5M608.0,586.5V590.3M609.0,587.2V591.0M610.0,588.0V591.8M611.0,588.8V592.5M612.0,589.5V593.3M613.0,590.3V594.0M614.0,591.0V594.8M615.0,591.8V595.5M616.0,592.5V596.2M617.0,593.3V596.8M618.0,594.0V597.4M619.0,594.8V597.9M620.0,595.5V598.4M621.0,596.2V598.9M622.0,596.8V599.3M623.0,597.4V599.8M624.0,597.9V600.2M625.0,598.4V600.6M626.0,598.9V600.9M627.0,599.3V601.2M628.0,599.8V601.4M629.0,600.2V601.7M630.0,600.6V601.9M631.0,600.9V602.1M632.0,601.2V602.4M633.0,601.4V602.6M634.0,601.7V602.9M635.0,601.9V603.3M636.0,602.1V603.8M637.0,602.4V604.4M638.0,602.6V605.0M639.0,602.9V605.7M640.0,603.3V606.4M641.0,603.8V607.0M642.0,604.4V607.6M643.0,605.0V608.1M644.0,605.7V608.5M645.0,606.4V608.9M646.0,607.0V609.2M647.0,607.6V609.5M648.0,608.1V609.7M649.0,608.5V610.0M650.0,608.9V610.3M651.0,609.2V610.5M652.0,609.5V610.7M653.0,609.7V610.8M654.0,610.0V610.8M655.0,610.3V610.8M656.0,610.5V610.8M657.0,610.7V610.7M719.0,588.6V588.6M720.0,588.5V588.7M721.0,588.4V588.8M722.0,588.5V589.0M723.0,588.6V589.3M724.0,588.6V589.7M725.0,588.7V590.2M726.0,588.8V590.8M727.0,589.0V591.5M728.0,589.3V592.1M729.0,589.7V592.7M730.0,590.2V593.4M731.0,590.8V594.1M732.0,591.5V594.8M733.0,592.1V595.6M734.0,592.7V596.3M735.0,593.4V597.1M736.0,594.1V597.9M737.0,594.8V598.7M738.0,595.6V599.5M739.0,596.3V600.4M740.0,597.1V601.3M741.0,597.9V602.2M742.0,598.7V603.0M743.0,599.5V603.6M744.0,600.4V604.1M745.0,601.3V604.4M746.0,602.2V604.6M747.0,603.0V604.9M748.0,603.6V605.1M749.0,604.1V605.2M750.0,604.4V605.2M751.0,604.6V605.1M752.0,604.9V605.0M785.0,593.0V593.1M786.0,592.8V593.3M787.0,592.8V593.7M788.0,592.9V594.2M789.0,593.0V594.9M790.0,593.1V595.7M791.0,593.3V596.5M792.0,593.7V597.3M793.0,594.2V598.1M794.0,594.9V598.9M795.0,595.7V599.6M796.0,596.5V600.3M797.0,597.3V601.0M798.0,598.1V601.6M799.0,598.9V602.3M800.0,599.6V602.9M801.0,600.3V603.5M802.0,601.0V604.2M803.0,601.6V604.8M804.0,602.3V605.5M805.0,602.9V606.1M806.0,603.5V606.8M807.0,604.2V607.5M808.0,604.8V608.1M809.0,605.5V608.8M810.0,606.1V609.5M811.0,606.8V610.1M812.0,607.5V610.7M813.0,608.1V611.1M814.0,608.8V611.4M815.0,609.5V611.5M816.0,610.1V611.5M817.0,610.7V611.5M818.0,611.1V611.5M844.0,598.6V598.7M845.0,598.6V598.8M846.0,598.6V599.0M847.0,598.6V599.2M848.0,598.6V599.6M849.0,598.7V599.9M850.0,598.8V600.2M851.0,599.0V600.5M852.0,599.2V600.8M853.0,599.6V601.2M854.0,599.9V601.5M855.0,600.2V601.8M856.0,600.5V602.1M857.0,600.8V602.4M858.0,601.2V602.8M859.0,601.5V603.1M860.0,601.8V603.4M861.0,602.1V603.7M862.0,602.4V604.0M863.0,602.8V604.4M864.0,603.1V604.7M865.0,603.4V605.1M866.0,603.7V605.6M867.0,604.0V606.1M868.0,604.4V606.6M869.0,604.7V607.2M870.0,605.1V607.7M871.0,605.6V608.2M872.0,606.1V608.8M873.0,606.6V609.3M874.0,607.2V609.8M875.0,607.7V610.2M876.0,608.2V610.6M877.0,608.8V610.9M878.0,609.3V611.1M879.0,609.8V611.3M880.0,610.2V611.5M881.0,610.6V611.7M882.0,610.9V611.7M883.0,611.1V611.6M884.0,611.3V611.5" stroke="#ffb4b4" stroke-width="1.05" fill="none"/>
<path d="M5.0,580.3V581.0M6.0,579.7V581.0M7.0,578.8V581.0M8.0,577.6V581.0M9.0,576.7V580.8M10.0,575.8V580.3M11.0,575.2V579.7M12.0,574.6V578.8M13.0,574.2V577.6M14.0,573.9V576.7M15.0,573.5V575.8M16.0,573.1V575.2M17.0,572.8V574.6M18.0,572.6V574.2M19.0,572.4V573.9M20.0,572.2V573.5M21.0,572.0V573.1M22.0,571.8V572.8M23.0,571.6V572.6M24.0,571.3V572.4M25.0,570.9V572.2M26.0,570.4V572.0M27.0,569.7V571.8M28.0,568.8V571.6M29.0,568.1V571.3M30.0,567.3V570.9M31.0,566.6V570.4M32.0,566.0V569.7M33.0,565.3V568.8M34.0,564.9V568.1M35.0,564.5V567.3M36.0,564.3V566.6M37.0,564.3V566.0M38.0,564.3V565.3M39.0,564.8V564.9M87.0,624.4V625.4M88.0,623.8V625.7M89.0,623.2V625.8M90.0,622.5V625.5M91.0,621.8V624.9M92.0,621.1V624.4M93.0,620.4V623.8M94.0,619.7V623.2M95.0,619.0V622.5M96.0,618.0V621.8M97.0,616.8V621.1M98.0,615.4V620.4M99.0,613.7V619.7M100.0,611.9V619.0M101.0,610.0V618.0M102.0,608.4V616.8M103.0,607.2V615.4M104.0,606.2V613.7M105.0,605.6V611.9M106.0,605.3V610.0M107.0,605.0V608.4M108.0,604.7V607.2M109.0,604.5V606.2M110.0,604.4V605.6M111.0,604.3V605.3M112.0,604.4V605.0M113.0,604.5V604.7M119.0,604.3V604.7M120.0,603.7V604.8M121.0,603.0V604.9M122.0,602.2V604.9M123.0,601.5V604.7M124.0,600.8V604.3M125.0,600.1V603.7M126.0,599.4V603.0M127.0,598.8V602.2M128.0,598.2V601.5M129.0,597.7V600.8M130.0,597.4V600.1M131.0,597.1V599.4M132.0,597.0V598.8M133.0,597.0V598.2M134.0,597.0V597.7M135.0,597.0V597.4M136.0,597.0V597.1M137.0,597.0V597.0M138.0,597.0V597.0M139.0,597.0V597.0M140.0,597.0V597.0M141.0,597.0V597.0M142.0,597.0V597.0M143.0,597.0V597.0M144.0,597.0V597.0M145.0,597.0V597.0M146.0,597.0V597.0M147.0,597.0V597.0M148.0,597.0V597.0M149.0,597.0V597.0M150.0,597.0V597.0M151.0,597.0V597.0M152.0,597.0V597.0M153.0,597.0V597.0M178.0,628.5V629.2M179.0,627.8V629.4M180.0,626.7V629.5M181.0,625.7V629.4M182.0,624.7V629.1M183.0,623.6V628.5M184.0,622.6V627.8M185.0,621.7V626.7M186.0,620.7V625.7M187.0,619.8V624.7M188.0,618.9V623.6M189.0,618.0V622.6M190.0,617.1V621.7M191.0,616.2V620.7M192.0,615.5V619.8M193.0,614.9V618.9M194.0,614.6V618.0M195.0,614.4V617.1M196.0,614.4V616.2M197.0,614.4V615.5M198.0,614.4V614.9M199.0,614.4V614.6M200.0,614.3V614.4M201.0,614.2V614.4M202.0,614.1V614.4M203.0,614.0V614.4M204.0,613.9V614.4M205.0,613.8V614.3M206.0,613.6V614.2M207.0,613.7V614.1M208.0,613.8V614.0M227.0,619.3V620.2M228.0,618.3V620.5M229.0,617.3V620.6M230.0,616.4V620.4M231.0,615.4V620.0M232.0,614.4V619.3M233.0,613.4V618.3M234.0,612.4V617.3M235.0,611.3V616.4M236.0,610.2V615.4M237.0,609.0V614.4M238.0,607.6V613.4M239.0,606.2V612.4M240.0,604.6V611.3M241.0,603.1V610.2M242.0,601.2V609.0M243.0,598.9V607.6M244.0,596.3V606.2M245.0,593.4V604.6M246.0,590.3V603.1M247.0,587.6V601.2M248.0,585.2V598.9M249.0,583.0V596.3M250.0,581.2V593.4M251.0,579.5V590.3M252.0,578.0V587.6M253.0,576.6V585.2M254.0,575.4V583.0M255.0,574.4V581.2M256.0,573.5V579.5M257.0,572.8V578.0M258.0,572.3V576.6M259.0,571.9V575.4M260.0,571.7V574.4M261.0,571.5V573.5M262.0,571.2V572.8M263.0,570.8V572.3M264.0,570.5V571.9M265.0,570.0V571.7M266.0,569.9V571.5M267.0,570.1V571.2M268.0,570.5V570.8M291.0,590.0V590.2M315.0,599.5V599.9M316.0,599.1V600.0M317.0,598.5V600.0M318.0,597.7V600.0M319.0,597.0V599.8M320.0,596.2V599.5M321.0,595.4V599.1M322.0,594.7V598.5M323.0,593.9V597.7M324.0,593.1V597.0M325.0,592.4V596.2M326.0,591.6V595.4M327.0,590.8V594.7M328.0,590.0V593.9M329.0,589.2V593.1M330.0,588.5V592.4M331.0,587.8V591.6M332.0,587.2V590.8M333.0,586.6V590.0M334.0,586.0V589.2M335.0,585.4V588.5M336.0,584.9V587.8M337.0,584.3V587.2M338.0,583.7V586.6M339.0,583.3V586.0M340.0,582.9V585.4M341.0,582.6V584.9M342.0,582.4V584.3M343.0,582.3V583.7M344.0,582.2V583.3M345.0,582.1V582.9M346.0,582.0V582.6M347.0,581.9V582.4M348.0,581.7V582.3M349.0,581.6V582.2M350.0,581.5V582.1M351.0,581.4V582.0M352.0,581.3V581.9M353.0,581.2V581.7M354.0,581.1V581.6M355.0,581.0V581.5M356.0,581.0V581.4M357.0,580.9V581.3M358.0,580.9V581.2M359.0,580.8V581.1M360.0,580.8V581.0M361.0,580.8V581.0M362.0,580.7V580.9M363.0,580.7V580.9M364.0,580.6V580.8M365.0,580.6V580.8M366.0,580.6V580.8M367.0,580.6V580.7M381.0,581.8V582.0M382.0,581.6V582.0M383.0,581.5V582.0M384.0,581.4V582.0M385.0,581.3V581.9M386.0,581.2V581.8M387.0,581.2V581.6M388.0,581.2V581.5M389.0,581.2V581.4M390.0,581.3V581.3M445.0,615.5V615.7M446.0,615.3V615.8M447.0,615.1V615.8M448.0,615.0V615.8M449.0,614.8V615.7M450.0,614.8V615.5M451.0,615.0V615.3M472.0,628.0V628.8M473.0,627.3V629.3M474.0,626.4V629.5M475.0,625.5V629.3M476.0,624.5V628.8M477.0,623.4V628.0M478.0,622.2V627.3M479.0,621.1V626.4M480.0,620.0V625.5M481.0,618.8V624.5M482.0,617.6V623.4M483.0,616.4V622.2M484.0,615.1V621.1M485.0,613.7V620.0M486.0,612.4V618.8M487.0,611.0V617.6M488.0,609.6V616.4M489.0,608.2V615.1M490.0,606.9V613.7M491.0,605.5V612.4M492.0,604.2V611.0M493.0,603.0V609.6M494.0,601.7V608.2M495.0,600.5V606.9M496.0,599.4V605.5M497.0,598.4V604.2M498.0,597.6V603.0M499.0,596.9V601.7M500.0,596.5V600.5M501.0,596.3V599.4M502.0,596.0V598.4M503.0,595.8V597.6M504.0,595.5V596.9M505.0,595.2V596.5M506.0,594.8V596.3M507.0,594.4V596.0M508.0,594.0V595.8M509.0,593.5V595.5M510.0,593.1V595.2M511.0,592.7V594.8M512.0,592.3V594.4M513.0,592.1V594.0M514.0,592.0V593.5M515.0,591.9V593.1M516.0,592.0V592.7M517.0,592.1V592.3M546.0,598.3V598.4M547.0,597.9V598.6M548.0,597.4V598.7M549.0,596.9V598.7M550.0,596.4V598.6M551.0,595.8V598.3M552.0,595.4V597.9M553.0,594.9V597.4M554.0,594.4V596.9M555.0,594.0V596.4M556.0,593.5V595.8M557.0,593.1V595.4M558.0,592.7V594.9M559.0,592.3V594.4M560.0,592.0V594.0M561.0,591.7V593.5M562.0,591.5V593.1M563.0,591.4V592.7M564.0,591.2V592.3M565.0,591.1V592.0M566.0,591.0V591.7M567.0,590.8V591.5M568.0,590.7V591.4M569.0,590.5V591.2M570.0,590.4V591.1M571.0,590.2V591.0M572.0,590.1V590.8M573.0,589.9V590.7M574.0,589.7V590.5M575.0,589.5V590.4M576.0,589.4V590.2M577.0,589.2V590.1M578.0,589.0V589.9M579.0,588.8V589.7M580.0,588.4V589.5M581.0,588.0V589.4M582.0,587.4V589.2M583.0,586.8V589.0M584.0,586.1V588.8M585.0,585.5V588.4M586.0,584.9V588.0M587.0,584.3V587.4M588.0,583.9V586.8M589.0,583.5V586.1M590.0,583.2V585.5M591.0,583.0V584.9M592.0,582.8V584.3M593.0,582.6V583.9M594.0,582.5V583.5M595.0,582.6V583.2M596.0,582.8V583.0M658.0,610.7V610.8M659.0,610.7V610.8M660.0,610.6V610.8M661.0,610.6V610.8M662.0,610.6V610.7M663.0,610.5V610.7M664.0,610.5V610.7M665.0,610.5V610.6M666.0,610.4V610.6M667.0,610.2V610.6M668.0,609.9V610.5M669.0,609.6V610.5M670.0,609.2V610.5M671.0,608.8V610.4M672.0,608.4V610.2M673.0,608.0V609.9M674.0,607.6V609.6M675.0,607.2V609.2M676.0,606.9V608.8M677.0,606.6V608.4M678.0,606.2V608.0M679.0,605.9V607.6M680.0,605.6V607.2M681.0,605.3V606.9M682.0,605.0V606.6M683.0,604.6V606.2M684.0,604.3V605.9M685.0,603.9V605.6M686.0,603.4V605.3M687.0,602.9V605.0M688.0,602.4V604.6M689.0,601.8V604.3M690.0,601.3V603.9M691.0,600.8V603.4M692.0,600.2V602.9M693.0,599.7V602.4M694.0,599.1V601.8M695.0,598.4V601.3M696.0,597.7V600.8M697.0,596.9V600.2M698.0,596.0V599.7M699.0,595.2V599.1M700.0,594.4V598.4M701.0,593.7V597.7M702.0,593.1V596.9M703.0,592.5V596.0M704.0,591.8V595.2M705.0,591.2V594.4M706.0,590.7V593.7M707.0,590.2V593.1M708.0,589.9V592.5M709.0,589.6V591.8M710.0,589.4V591.2M711.0,589.1V590.7M712.0,588.9V590.2M713.0,588.7V589.9M714.0,588.6V589.6M715.0,588.5V589.4M716.0,588.4V589.1M717.0,588.5V588.9M718.0,588.6V588.7M753.0,604.7V605.1M754.0,604.5V605.2M755.0,604.2V605.2M756.0,603.9V605.1M757.0,603.7V605.0M758.0,603.4V604.7M759.0,603.2V604.5M760.0,603.0V604.2M761.0,602.9V603.9M762.0,602.8V603.7M763.0,602.7V603.4M764.0,602.7V603.2M765.0,602.6V603.0M766.0,602.4V602.9M767.0,601.9V602.8M768.0,601.3V602.7M769.0,600.5V602.7M770.0,599.5V602.6M771.0,598.5V602.4M772.0,597.6V601.9M773.0,596.8V601.3M774.0,596.0V600.5M775.0,595.4V599.5M776.0,594.8V598.5M777.0,594.3V597.6M778.0,593.7V596.8M779.0,593.3V596.0M780.0,593.0V595.4M781.0,592.8V594.8M782.0,592.8V594.3M783.0,592.9V593.7M784.0,593.0V593.3M819.0,611.4V611.4M820.0,611.0V611.5M821.0,610.6V611.5M822.0,610.0V611.5M823.0,609.2V611.5M824.0,608.5V611.4M825.0,607.8V611.0M826.0,607.0V610.6M827.0,606.2V610.0M828.0,605.5V609.2M829.0,604.7V608.5M830.0,604.0V607.8M831.0,603.2V607.0M832.0,602.5V606.2M833.0,601.7V605.5M834.0,600.9V604.7M835.0,600.1V604.0M836.0,599.5V603.2M837.0,599.1V602.5M838.0,598.8V601.7M839.0,598.6V600.9M840.0,598.6V600.1M841.0,598.6V599.5M842.0,598.6V599.1M843.0,598.6V598.8M885.0,611.2V611.5M886.0,610.9V611.7M887.0,610.5V611.7M888.0,609.8V611.6M889.0,608.8V611.5M890.0,607.7V611.2M891.0,606.6V610.9M892.0,605.8V610.5" stroke="#e4e4e4" stroke-width="1.05" fill="none"/>
<line x1="5" y1="594.3" x2="1065" y2="594.3" stroke="#b8a8c0" stroke-width="1"/>
<path d="M5.0,581.0 L6.5,581.0 L8.0,581.0 L9.5,580.7 L11.0,579.7 L12.5,578.2 L14.0,576.6 L15.5,575.4 L17.0,574.6 L18.5,574.0 L20.0,573.5 L21.5,572.9 L23.0,572.6 L24.5,572.3 L26.0,572.0 L27.5,571.7 L29.0,571.4 L30.5,570.7 L32.0,569.7 L33.5,568.4 L35.0,567.3 L36.5,566.3 L38.0,565.3 L39.5,564.6 L41.0,564.3 L42.5,564.3 L44.0,564.7 L45.5,566.0 L47.0,568.5 L48.5,571.4 L50.0,573.9 L51.5,575.3 L53.0,576.3 L54.5,577.2 L56.0,578.1 L57.5,579.0 L59.0,579.8 L60.5,580.7 L62.0,582.1 L63.5,584.7 L65.0,587.8 L66.5,590.8 L68.0,593.9 L69.5,597.0 L71.0,600.1 L72.5,603.2 L74.0,606.2 L75.5,609.1 L77.0,611.8 L78.5,614.5 L80.0,617.1 L81.5,619.5 L83.0,621.5 L84.5,623.1 L86.0,624.7 L87.5,625.8 L89.0,625.9 L90.5,625.2 L92.0,624.4 L93.5,623.5 L95.0,622.5 L96.5,621.5 L98.0,620.4 L99.5,619.3 L101.0,618.1 L102.5,616.3 L104.0,613.7 L105.5,610.9 L107.0,608.3 L108.5,606.4 L110.0,605.6 L111.5,605.2 L113.0,604.7 L114.5,604.4 L116.0,604.3 L117.5,604.4 L119.0,604.7 L120.5,604.9 L122.0,605.0 L123.5,604.6 L125.0,603.7 L126.5,602.6 L128.0,601.5 L129.5,600.4 L131.0,599.4 L132.5,598.5 L134.0,597.7 L135.5,597.1 L137.0,597.0 L138.5,597.0 L140.0,597.0 L141.5,597.0 L143.0,597.0 L144.5,597.0 L146.0,597.0 L147.5,597.0 L149.0,597.0 L150.5,597.0 L152.0,597.0 L153.5,597.0 L155.0,597.0 L156.5,597.0 L158.0,597.0 L159.5,597.5 L161.0,599.3 L162.5,602.1 L164.0,605.3 L165.5,609.2 L167.0,613.8 L168.5,618.8 L170.0,622.8 L171.5,625.2 L173.0,626.8 L174.5,628.1 L176.0,628.8 L177.5,629.2 L179.0,629.4 L180.5,629.6 L182.0,629.4 L183.5,628.3 L185.0,626.7 L186.5,625.2 L188.0,623.6 L189.5,622.1 L191.0,620.7 L192.5,619.4 L194.0,618.0 L195.5,616.6 L197.0,615.4 L198.5,614.6 L200.0,614.4 L201.5,614.4 L203.0,614.4 L204.5,614.4 L206.0,614.3 L207.5,614.1 L209.0,613.9 L210.5,613.7 L212.0,613.6 L213.5,613.9 L215.0,614.6 L216.5,615.5 L218.0,616.3 L219.5,617.2 L221.0,617.9 L222.5,618.5 L224.0,619.1 L225.5,619.7 L227.0,620.2 L228.5,620.7 L230.0,620.7 L231.5,619.8 L233.0,618.3 L234.5,616.9 L236.0,615.4 L237.5,613.9 L239.0,612.3 L240.5,610.8 L242.0,609.1 L243.5,607.0 L245.0,604.6 L246.5,602.3 L248.0,599.3 L249.5,595.0 L251.0,590.2 L252.5,586.2 L254.0,583.0 L255.5,580.3 L257.0,577.8 L258.5,575.9 L260.0,574.4 L261.5,573.0 L263.0,572.2 L264.5,571.8 L266.0,571.5 L267.5,571.0 L269.0,570.5 L270.5,569.8 L272.0,569.7 L273.5,570.8 L275.0,572.3 L276.5,574.1 L278.0,576.4 L279.5,579.1 L281.0,581.9 L282.5,584.5 L284.0,586.2 L285.5,587.4 L287.0,588.4 L288.5,589.4 L290.0,590.1 L291.5,590.3 L293.0,590.1 L294.5,590.0 L296.0,590.0 L297.5,590.3 L299.0,591.2 L300.5,592.2 L302.0,593.3 L303.5,594.5 L305.0,595.9 L306.5,597.5 L308.0,598.7 L309.5,599.2 L311.0,599.4 L312.5,599.6 L314.0,599.8 L315.5,600.0 L317.0,600.0 L318.5,600.0 L320.0,599.7 L321.5,598.9 L323.0,597.7 L324.5,596.6 L326.0,595.4 L327.5,594.3 L329.0,593.1 L330.5,592.0 L332.0,590.8 L333.5,589.6 L335.0,588.5 L336.5,587.5 L338.0,586.6 L339.5,585.7 L341.0,584.9 L342.5,584.0 L344.0,583.2 L345.5,582.7 L347.0,582.4 L348.5,582.2 L350.0,582.1 L351.5,581.9 L353.0,581.7 L354.5,581.6 L356.0,581.4 L357.5,581.3 L359.0,581.1 L360.5,581.0 L362.0,580.9 L363.5,580.9 L365.0,580.8 L366.5,580.7 L368.0,580.7 L369.5,580.6 L371.0,580.6 L372.5,580.6 L374.0,580.8 L375.5,581.1 L377.0,581.4 L378.5,581.6 L380.0,581.9 L381.5,582.0 L383.0,582.1 L384.5,581.9 L386.0,581.8 L387.5,581.6 L389.0,581.4 L390.5,581.3 L392.0,581.2 L393.5,581.2 L395.0,581.3 L396.5,581.4 L398.0,581.5 L399.5,582.0 L401.0,583.7 L402.5,586.2 L404.0,588.9 L405.5,591.3 L407.0,593.4 L408.5,595.4 L410.0,597.4 L411.5,599.2 L413.0,600.6 L414.5,601.7 L416.0,602.7 L417.5,603.7 L419.0,604.4 L420.5,604.9 L422.0,605.3 L423.5,605.8 L425.0,606.3 L426.5,606.9 L428.0,607.5 L429.5,608.2 L431.0,608.9 L432.5,609.8 L434.0,610.8 L435.5,612.0 L437.0,613.1 L438.5,614.3 L440.0,615.1 L441.5,615.5 L443.0,615.6 L444.5,615.7 L446.0,615.8 L447.5,615.8 L449.0,615.7 L450.5,615.4 L452.0,615.1 L453.5,614.9 L455.0,614.7 L456.5,615.1 L458.0,616.1 L459.5,617.4 L461.0,618.7 L462.5,620.1 L464.0,621.6 L465.5,623.1 L467.0,624.6 L468.5,626.0 L470.0,627.3 L471.5,628.4 L473.0,629.4 L474.5,629.6 L476.0,628.8 L477.5,627.7 L479.0,626.4 L480.5,625.0 L482.0,623.4 L483.5,621.7 L485.0,620.0 L486.5,618.2 L488.0,616.4 L489.5,614.4 L491.0,612.4 L492.5,610.3 L494.0,608.2 L495.5,606.2 L497.0,604.2 L498.5,602.3 L500.0,600.5 L501.5,598.8 L503.0,597.4 L504.5,596.6 L506.0,596.3 L507.5,595.9 L509.0,595.5 L510.5,595.0 L512.0,594.4 L513.5,593.8 L515.0,593.1 L516.5,592.5 L518.0,592.0 L519.5,591.9 L521.0,592.0 L522.5,592.1 L524.0,592.2 L525.5,592.3 L527.0,592.4 L528.5,592.7 L530.0,593.0 L531.5,593.2 L533.0,593.5 L534.5,593.9 L536.0,594.5 L537.5,595.2 L539.0,596.0 L540.5,596.7 L542.0,597.4 L543.5,598.0 L545.0,598.3 L546.5,598.5 L548.0,598.7 L549.5,598.8 L551.0,598.4 L552.5,597.7 L554.0,596.9 L555.5,596.1 L557.0,595.3 L558.5,594.6 L560.0,594.0 L561.5,593.3 L563.0,592.7 L564.5,592.1 L566.0,591.7 L567.5,591.5 L569.0,591.2 L570.5,591.0 L572.0,590.8 L573.5,590.6 L575.0,590.4 L576.5,590.1 L578.0,589.9 L579.5,589.6 L581.0,589.4 L582.5,589.1 L584.0,588.8 L585.5,588.3 L587.0,587.4 L588.5,586.5 L590.0,585.5 L591.5,584.6 L593.0,583.8 L594.5,583.3 L596.0,583.0 L597.5,582.7 L599.0,582.5 L600.5,582.6 L602.0,583.2 L603.5,584.0 L605.0,584.7 L606.5,585.5 L608.0,586.5 L609.5,587.6 L611.0,588.8 L612.5,589.9 L614.0,591.0 L615.5,592.2 L617.0,593.3 L618.5,594.4 L620.0,595.5 L621.5,596.6 L623.0,597.4 L624.5,598.2 L626.0,598.9 L627.5,599.5 L629.0,600.2 L630.5,600.8 L632.0,601.2 L633.5,601.5 L635.0,601.9 L636.5,602.3 L638.0,602.6 L639.5,603.1 L641.0,603.8 L642.5,604.7 L644.0,605.7 L645.5,606.7 L647.0,607.6 L648.5,608.4 L650.0,608.9 L651.5,609.3 L653.0,609.7 L654.5,610.2 L656.0,610.6 L657.5,610.8 L659.0,610.8 L660.5,610.8 L662.0,610.7 L663.5,610.7 L665.0,610.6 L666.5,610.6 L668.0,610.5 L669.5,610.5 L671.0,610.4 L672.5,610.1 L674.0,609.6 L675.5,609.0 L677.0,608.4 L678.5,607.8 L680.0,607.2 L681.5,606.7 L683.0,606.2 L684.5,605.8 L686.0,605.3 L687.5,604.8 L689.0,604.3 L690.5,603.7 L692.0,602.9 L693.5,602.1 L695.0,601.3 L696.5,600.5 L698.0,599.7 L699.5,598.8 L701.0,597.7 L702.5,596.5 L704.0,595.2 L705.5,594.1 L707.0,593.1 L708.5,592.1 L710.0,591.2 L711.5,590.4 L713.0,589.8 L714.5,589.5 L716.0,589.1 L717.5,588.8 L719.0,588.5 L720.5,588.4 L722.0,588.5 L723.5,588.6 L725.0,588.7 L726.5,588.9 L728.0,589.2 L729.5,589.9 L731.0,590.8 L732.5,591.8 L734.0,592.7 L735.5,593.7 L737.0,594.8 L738.5,596.0 L740.0,597.1 L741.5,598.3 L743.0,599.5 L744.5,600.9 L746.0,602.2 L747.5,603.4 L749.0,604.1 L750.5,604.5 L752.0,604.9 L753.5,605.2 L755.0,605.3 L756.5,605.1 L758.0,604.7 L759.5,604.3 L761.0,603.9 L762.5,603.5 L764.0,603.2 L765.5,602.9 L767.0,602.8 L768.5,602.7 L770.0,602.6 L771.5,602.3 L773.0,601.4 L774.5,600.0 L776.0,598.5 L777.5,597.1 L779.0,596.0 L780.5,595.1 L782.0,594.3 L783.5,593.4 L785.0,592.8 L786.5,592.8 L788.0,592.9 L789.5,593.0 L791.0,593.3 L792.5,593.9 L794.0,594.9 L795.5,596.1 L797.0,597.3 L798.5,598.5 L800.0,599.6 L801.5,600.7 L803.0,601.6 L804.5,602.6 L806.0,603.5 L807.5,604.5 L809.0,605.5 L810.5,606.4 L812.0,607.5 L813.5,608.5 L815.0,609.5 L816.5,610.5 L818.0,611.2 L819.5,611.5 L821.0,611.5 L822.5,611.5 L824.0,611.4 L825.5,610.9 L827.0,610.0 L828.5,608.9 L830.0,607.8 L831.5,606.6 L833.0,605.5 L834.5,604.4 L836.0,603.2 L837.5,602.1 L839.0,600.9 L840.5,599.8 L842.0,598.9 L843.5,598.6 L845.0,598.6 L846.5,598.6 L848.0,598.6 L849.5,598.7 L851.0,599.0 L852.5,599.4 L854.0,599.9 L855.5,600.4 L857.0,600.8 L858.5,601.3 L860.0,601.8 L861.5,602.3 L863.0,602.8 L864.5,603.2 L866.0,603.7 L867.5,604.2 L869.0,604.7 L870.5,605.3 L872.0,606.1 L873.5,606.9 L875.0,607.7 L876.5,608.5 L878.0,609.3 L879.5,610.1 L881.0,610.6 L882.5,611.0 L884.0,611.3 L885.5,611.7 L887.0,611.8 L888.5,611.6 L890.0,611.2 L891.5,610.8 L893.0,610.0 L894.5,608.4 L896.0,606.9" fill="none" stroke="#ff0000" stroke-width="1.3"/>
<path d="M48.0,673.7V674.1M49.0,672.2V675.6M50.0,672.0V677.3M51.0,673.0V675.6M52.0,672.7V674.2M53.0,671.2V672.9M61.0,676.9V676.9M63.0,675.3V679.0M64.0,671.8V681.0M65.0,668.3V683.5M66.0,664.9V682.9M67.0,663.8V683.4M68.0,665.1V684.8M69.0,666.8V684.4M70.0,668.8V684.4M71.0,671.3V684.9M72.0,670.1V685.8M73.0,669.1V685.9M74.0,668.3V685.2M75.0,665.2V686.6M76.0,662.7V686.3M77.0,660.7V684.3M78.0,659.3V684.7M79.0,659.4V685.1M80.0,660.8V685.5M81.0,660.6V685.2M82.0,660.5V684.7M83.0,660.5V683.9M84.0,661.3V682.3M85.0,662.7V681.6M86.0,664.7V681.6M87.0,668.6V682.7M88.0,670.0V682.9M89.0,669.1V682.4M90.0,669.3V681.3M91.0,670.0V680.1M92.0,671.4V678.9M93.0,669.9V678.7M94.0,669.1V679.6M95.0,669.2V681.5M96.0,669.1V681.2M97.0,668.5V680.6M98.0,667.3V679.6M99.0,668.6V680.9M100.0,670.0V679.0M101.0,671.5V674.0M102.0,673.1V674.2M107.0,675.7V675.9M108.0,675.2V677.0M109.0,674.9V677.6M110.0,674.7V677.9M111.0,675.2V678.6M112.0,674.8V679.1M113.0,673.4V679.6M114.0,670.4V678.3M115.0,669.9V676.9M116.0,671.9V675.4M117.0,672.4V675.4M118.0,673.9V676.0M119.0,676.6V677.3M120.0,674.4V678.1M121.0,673.7V679.1M122.0,674.7V680.2M123.0,675.6V679.7M124.0,675.5V679.8M125.0,674.4V680.4M126.0,674.9V680.0M127.0,674.9V679.1M128.0,674.4V677.8M129.0,676.0V677.9M130.0,676.7V678.4M131.0,676.5V679.4M132.0,676.5V679.5M133.0,676.4V679.4M134.0,676.4V679.1M135.0,675.9V679.5M136.0,675.9V680.6M137.0,676.4V682.4M138.0,676.9V681.1M139.0,676.9V679.3M140.0,676.3V676.9M141.0,675.8V678.5M142.0,676.1V678.5M144.0,676.1V680.2M145.0,675.7V681.6M146.0,676.0V681.1M147.0,677.9V681.7M148.0,679.3V682.0M149.0,680.1V682.1M150.0,682.0V682.7M151.0,682.1V683.2M152.0,680.4V683.7M153.0,679.9V685.0M154.0,680.0V684.9M155.0,680.8V683.2M156.0,680.6V683.8M157.0,678.8V684.4M158.0,675.6V685.0M159.0,675.8V685.9M160.0,673.5V687.2M161.0,668.7V688.9M162.0,663.9V687.5M163.0,657.8V686.6M164.0,650.5V686.3M165.0,646.0V689.2M166.0,644.6V691.9M167.0,646.4V694.4M168.0,648.7V695.6M169.0,651.0V695.9M170.0,653.3V695.4M171.0,652.9V695.1M172.0,653.8V693.3M173.0,656.2V689.8M174.0,656.9V688.0M175.0,658.7V687.0M176.0,661.7V686.7M177.0,663.2V686.8M178.0,663.9V686.8M179.0,663.8V686.5M180.0,664.4V686.0M181.0,665.4V684.9M182.0,666.8V683.0M183.0,668.6V685.4M184.0,670.1V685.9M185.0,671.3V684.4M186.0,672.0V684.3M187.0,672.2V683.4M188.0,672.0V681.8M189.0,673.1V682.4M190.0,672.6V682.4M191.0,670.4V681.9M192.0,670.4V683.2M193.0,669.9V684.1M194.0,668.9V684.5M195.0,667.7V683.1M196.0,666.7V682.3M197.0,665.9V682.3M198.0,664.4V682.2M199.0,663.3V682.3M200.0,662.5V682.5M201.0,665.1V684.1M202.0,666.3V684.2M203.0,666.0V682.8M204.0,665.4V686.0M205.0,666.2V686.5M206.0,668.2V684.4M207.0,668.6V682.9M208.0,667.8V683.0M209.0,665.8V684.6M210.0,664.8V683.4M211.0,662.5V684.0M212.0,659.1V686.3M213.0,657.9V686.6M214.0,657.6V686.5M215.0,658.4V686.0M216.0,660.8V686.5M217.0,662.3V686.3M218.0,662.9V685.7M219.0,661.4V684.2M220.0,662.0V683.6M221.0,664.7V684.0M222.0,663.7V687.5M223.0,663.2V689.4M224.0,663.1V689.7M225.0,664.6V689.9M226.0,665.7V688.8M227.0,666.3V686.4M228.0,666.8V688.1M229.0,667.4V688.3M230.0,668.2V687.1M231.0,670.1V685.1M232.0,672.7V683.5M233.0,676.0V682.3M234.0,677.8V681.0M235.0,680.2V680.9M270.0,678.1V678.3M271.0,675.9V678.1M272.0,673.2V677.7M273.0,674.6V677.5M274.0,675.7V677.3M275.0,676.6V677.1M276.0,674.9V678.0M277.0,674.2V679.0M278.0,674.5V680.3M279.0,674.2V682.3M280.0,673.7V682.9M281.0,673.0V682.1M282.0,673.4V683.4M283.0,675.7V684.3M284.0,679.9V684.8M285.0,680.3V684.1M286.0,680.8V681.5M291.0,680.4V681.6M292.0,680.0V682.7M293.0,679.2V681.8M294.0,678.8V682.1M295.0,678.2V682.1M296.0,677.2V681.9M297.0,673.0V684.5M298.0,670.0V686.0M299.0,668.2V686.4M300.0,667.4V685.1M301.0,666.8V684.0M302.0,666.5V683.1M303.0,666.9V683.8M304.0,667.2V684.1M305.0,667.3V684.0M306.0,668.3V684.4M307.0,669.2V684.3M308.0,669.9V683.6M309.0,673.1V682.5M310.0,674.9V681.0M311.0,675.1V679.2M312.0,675.3V678.6M313.0,675.6V677.9M314.0,676.1V677.2M315.0,676.2V678.4M316.0,675.3V679.5M317.0,673.3V680.6M318.0,674.0V682.2M319.0,675.0V682.4M320.0,676.2V681.4M321.0,677.2V682.8M322.0,677.8V683.5M323.0,678.0V683.6M324.0,677.0V681.6M325.0,676.8V679.8M326.0,677.4V678.2M362.0,678.9V679.4M398.0,681.5V682.0M399.0,680.3V683.7M400.0,678.7V685.1M401.0,676.6V686.1M402.0,674.8V684.9M403.0,673.6V684.3M404.0,673.0V684.3M405.0,670.7V684.0M406.0,668.3V684.1M407.0,665.7V684.7M408.0,663.9V683.2M409.0,663.3V682.1M410.0,664.0V681.3M411.0,663.3V683.1M412.0,664.2V683.6M413.0,666.7V682.7M414.0,665.8V684.3M415.0,666.6V684.3M416.0,669.1V682.5M417.0,668.7V685.1M418.0,668.7V686.1M419.0,669.0V685.4M420.0,667.1V688.2M421.0,666.5V689.6M422.0,667.1V689.5M423.0,668.9V689.8M424.0,668.7V689.2M425.0,666.4V687.8M426.0,668.0V688.5M427.0,668.8V688.5M428.0,669.0V687.9M429.0,669.0V689.2M430.0,667.9V689.6M431.0,665.8V689.1M432.0,667.3V689.6M433.0,667.0V689.7M434.0,664.8V689.7M435.0,666.5V690.5M436.0,667.5V691.9M437.0,667.7V693.9M438.0,665.6V694.0M439.0,665.9V694.6M440.0,668.5V695.7M441.0,670.5V690.9M442.0,671.6V688.8M443.0,671.8V689.4M444.0,671.6V686.4M445.0,671.7V684.2M446.0,672.1V682.7M447.0,671.4V684.8M448.0,671.2V685.5M449.0,671.6V684.7M450.0,670.1V688.4M451.0,669.6V690.4M452.0,670.0V690.6M453.0,672.0V690.7M454.0,673.7V691.3M455.0,675.3V692.4M456.0,670.7V692.0M457.0,667.8V692.0M458.0,666.5V692.3M459.0,663.5V692.7M460.0,660.9V694.2M461.0,658.9V696.7M462.0,658.3V696.9M463.0,657.5V696.6M464.0,656.5V695.7M465.0,655.6V696.2M466.0,656.1V695.7M467.0,657.9V694.2M468.0,657.4V696.1M469.0,657.0V696.1M470.0,656.7V694.1M471.0,658.0V693.7M472.0,659.9V693.5M473.0,662.4V693.4M474.0,663.5V693.7M475.0,664.4V693.0M476.0,665.2V691.2M477.0,667.1V689.7M478.0,667.4V688.3M479.0,666.2V687.0M480.0,669.0V683.8M481.0,671.2V682.1M482.0,673.0V682.0M483.0,673.4V683.0M484.0,673.4V684.0M485.0,673.0V685.0M486.0,672.6V683.5M487.0,672.1V682.1M488.0,671.6V680.9M489.0,674.3V682.3M490.0,676.3V681.9M491.0,677.4V679.8M492.0,677.2V679.3M501.0,676.4V678.0M502.0,674.6V678.4M503.0,673.1V678.8M504.0,673.3V679.4M505.0,674.4V680.3M506.0,676.2V681.5M507.0,675.5V680.1M508.0,675.9V678.5M520.0,677.8V679.0M521.0,677.3V679.7M522.0,677.9V679.1M531.0,675.0V676.2M532.0,672.0V676.6M533.0,670.1V677.0M534.0,669.3V678.5M535.0,669.1V679.6M536.0,669.4V680.3M537.0,669.1V682.3M538.0,670.4V683.1M539.0,673.5V682.8M540.0,677.5V682.3M541.0,680.4V681.2M544.0,676.0V676.5M545.0,672.5V675.1M556.0,676.3V676.7M557.0,675.5V677.6M558.0,676.0V676.4M559.0,676.4V676.7M560.0,676.8V678.6M561.0,675.9V677.0M564.0,677.7V680.7M565.0,674.5V682.1M566.0,672.4V682.7M567.0,672.7V680.5M568.0,674.0V680.4M569.0,676.0V682.2M570.0,678.4V683.5M571.0,678.4V683.7M572.0,676.0V682.8M573.0,676.1V681.0M574.0,677.0V680.2M575.0,678.5V680.5M576.0,678.1V678.5M602.0,669.2V672.1M603.0,669.3V673.9M604.0,669.1V675.6M605.0,668.4V677.1M606.0,669.5V677.8M607.0,670.8V678.1M608.0,672.0V677.9M609.0,673.0V679.4M610.0,673.1V680.1M611.0,672.1V679.8M612.0,673.5V680.0M613.0,673.7V680.1M614.0,672.7V679.9M615.0,671.1V680.6M616.0,670.2V680.5M617.0,669.9V679.5M618.0,671.3V678.9M619.0,672.4V679.2M620.0,673.2V680.6M621.0,674.6V680.9M622.0,675.5V681.0M623.0,675.9V680.9M624.0,675.4V680.5M625.0,673.9V679.8M626.0,671.4V679.0M627.0,669.6V678.5M628.0,668.2V679.6M629.0,667.3V682.3M630.0,665.2V682.8M631.0,665.1V683.6M632.0,667.0V684.7M633.0,667.8V685.1M634.0,669.7V686.0M635.0,672.8V687.3M636.0,671.4V686.0M637.0,673.0V686.3M638.0,677.3V688.0M639.0,675.1V685.8M640.0,672.3V685.5M641.0,668.9V687.1M642.0,666.7V689.2M643.0,665.2V690.4M644.0,664.5V690.7M645.0,665.1V690.7M646.0,665.1V689.9M647.0,664.7V688.3M648.0,664.5V689.1M649.0,664.1V689.2M650.0,663.4V688.4M651.0,663.6V688.6M652.0,663.7V688.5M653.0,663.8V688.2M654.0,662.4V687.0M655.0,661.1V686.0M656.0,660.0V685.1M657.0,660.2V686.1M658.0,661.1V686.8M659.0,662.8V687.2M660.0,664.6V687.2M661.0,665.3V687.5M662.0,664.9V688.2M663.0,666.3V687.6M664.0,667.0V687.7M665.0,666.7V688.4M666.0,667.5V689.7M667.0,667.7V690.6M668.0,667.2V691.0M669.0,667.1V688.4M670.0,666.8V688.0M671.0,666.4V689.8M672.0,667.0V690.0M673.0,667.3V690.3M674.0,667.3V690.8M675.0,668.5V691.4M676.0,669.2V692.3M677.0,669.2V693.6M678.0,671.2V690.3M679.0,673.5V688.3M680.0,676.1V687.6M681.0,675.7V689.9M682.0,676.2V690.2M683.0,677.5V688.6M684.0,676.7V690.1M685.0,676.7V690.9M686.0,677.4V691.2M687.0,678.8V688.7M688.0,679.4V687.2M689.0,679.3V686.4M690.0,679.5V687.1M691.0,680.1V687.9M692.0,681.1V688.9M693.0,681.0V687.5M694.0,681.1V686.5M695.0,681.4V685.9M696.0,680.3V683.9M697.0,679.4V683.3M698.0,678.4V684.3M699.0,679.9V680.0M726.0,677.0V678.7M727.0,674.9V679.4M728.0,674.2V680.6M729.0,672.0V680.3M730.0,669.8V680.9M731.0,667.7V682.5M732.0,669.8V683.3M733.0,670.7V684.0M734.0,670.4V684.6M735.0,668.4V686.5M736.0,667.3V686.5M737.0,667.1V684.6M738.0,665.8V686.2M739.0,665.0V686.6M740.0,664.8V685.7M741.0,661.9V686.2M742.0,659.2V688.3M743.0,656.6V692.0M744.0,659.4V692.8M745.0,662.7V693.2M746.0,666.5V693.0M747.0,668.8V689.5M748.0,669.7V686.8M749.0,669.3V684.9M750.0,669.1V685.4M751.0,668.9V685.3M752.0,668.9V684.6M753.0,670.8V685.1M754.0,671.4V684.9M755.0,670.6V684.0M756.0,670.7V683.4M757.0,671.2V683.0M758.0,671.9V682.5M759.0,670.8V681.5M760.0,669.1V679.9M761.0,666.6V677.7M762.0,667.1V679.0M763.0,667.0V679.4M764.0,666.4V678.9M765.0,666.3V679.0M766.0,667.2V679.2M767.0,669.1V679.2M768.0,672.2V680.2M769.0,673.7V680.5M770.0,673.7V680.1M771.0,673.7V676.9M772.0,674.4V674.7M784.0,674.8V675.4M785.0,673.6V679.2M786.0,671.4V676.8M787.0,669.7V675.7M788.0,668.5V675.9M789.0,667.2V677.2M790.0,666.0V677.8M791.0,665.1V677.8M792.0,664.6V677.7M793.0,664.4V678.4M794.0,664.5V679.9M795.0,663.7V680.2M796.0,663.5V680.6M797.0,663.7V681.0M798.0,664.1V681.3M799.0,664.2V682.0M800.0,663.9V683.4M801.0,666.0V683.9M802.0,666.6V684.4M803.0,665.7V684.9M804.0,663.6V684.8M805.0,663.9V685.0M806.0,666.6V685.4M807.0,666.5V685.0M808.0,666.8V685.8M809.0,667.6V687.6M810.0,667.4V688.3M811.0,668.0V688.7M812.0,669.2V688.9M813.0,668.3V689.9M814.0,668.3V691.1M815.0,669.1V692.4M816.0,670.0V693.6M817.0,670.1V694.4M818.0,669.3V694.7M819.0,667.3V696.2M820.0,667.5V696.6M821.0,670.1V695.9M822.0,671.8V690.8M823.0,672.8V686.9M824.0,673.2V684.1M825.0,672.6V683.0M826.0,673.4V681.1M827.0,675.6V678.2M840.0,676.0V677.6M841.0,673.0V680.2M842.0,669.0V683.3M843.0,667.3V682.1M844.0,666.8V681.4M845.0,667.5V681.3M846.0,666.1V681.6M847.0,665.5V681.5M848.0,665.5V680.9M849.0,665.5V681.9M850.0,665.3V682.2M851.0,665.1V682.1M852.0,666.4V681.3M853.0,667.5V682.5M854.0,668.3V685.6M855.0,671.6V685.4M856.0,673.8V684.4M857.0,674.9V682.8M858.0,674.1V680.9M859.0,674.0V680.4M860.0,674.4V681.2M861.0,675.4V683.0M862.0,675.1V683.6M863.0,673.6V682.8M864.0,671.2V683.7M865.0,668.3V684.8M866.0,664.9V686.0M867.0,661.5V687.1M868.0,658.9V688.7M869.0,657.0V691.1M870.0,658.4V689.1M871.0,660.4V687.8M872.0,663.0V687.2M873.0,663.8V690.0M874.0,664.6V690.2M875.0,665.4V687.8M876.0,664.2V688.3M877.0,663.1V688.7M878.0,662.1V689.2M879.0,664.6V690.1M880.0,665.9V689.8M881.0,666.1V688.4M882.0,666.7V689.3M883.0,666.5V690.4M884.0,665.7V691.7M885.0,669.1V690.8M886.0,671.9V690.7M887.0,673.8V691.1M888.0,672.5V689.7M889.0,672.4V689.7M890.0,673.6V690.9M891.0,675.1V685.3M892.0,677.0V679.7" stroke="#ffbcbc" stroke-width="1.05" fill="none"/>
<path d="M5.0,669.4V688.0M6.0,666.5V686.2M7.0,665.4V683.9M8.0,666.0V681.3M9.0,667.5V682.2M10.0,667.3V682.4M11.0,665.3V682.0M12.0,666.2V684.0M13.0,666.2V685.5M14.0,665.3V686.4M15.0,666.9V686.0M16.0,668.0V686.9M17.0,668.3V689.3M18.0,668.7V691.8M19.0,668.7V692.7M20.0,668.1V691.9M21.0,668.6V690.6M22.0,669.1V689.0M23.0,669.5V686.8M24.0,671.8V689.4M25.0,672.4V691.1M26.0,671.5V691.7M27.0,669.6V693.0M28.0,667.1V694.6M29.0,664.0V696.6M30.0,663.0V695.0M31.0,662.6V694.3M32.0,662.8V694.4M33.0,663.3V696.1M34.0,663.3V696.2M35.0,662.8V694.5M36.0,663.3V696.2M37.0,662.5V697.1M38.0,660.3V697.1M39.0,658.1V696.7M40.0,658.5V696.9M41.0,661.2V697.6M42.0,664.5V695.3M43.0,667.1V692.4M44.0,668.9V688.9M45.0,669.8V685.2M46.0,671.1V681.1M47.0,672.7V676.4M54.0,669.7V671.8M55.0,668.7V672.6M56.0,670.1V673.4M57.0,671.7V674.4M58.0,673.1V675.3M59.0,674.2V676.2M60.0,675.9V676.1M62.0,677.5V678.7M103.0,672.3V674.6M104.0,668.2V676.2M105.0,668.6V676.3M106.0,671.2V676.2M143.0,676.8V677.4M236.0,682.0V683.1M237.0,681.8V685.7M238.0,680.7V687.1M239.0,678.5V687.2M240.0,677.4V686.0M241.0,676.3V685.8M242.0,675.1V686.6M243.0,674.7V687.7M244.0,675.3V687.8M245.0,676.8V687.0M246.0,674.5V687.8M247.0,672.9V688.0M248.0,671.9V687.6M249.0,669.3V690.0M250.0,667.0V690.4M251.0,665.0V688.7M252.0,664.7V688.8M253.0,665.7V688.3M254.0,668.0V687.3M255.0,667.3V685.8M256.0,667.4V683.6M257.0,668.2V680.7M258.0,668.3V680.8M259.0,667.9V681.0M260.0,667.0V681.2M261.0,669.1V683.2M262.0,670.8V684.0M263.0,671.9V683.8M264.0,673.8V684.7M265.0,675.3V683.7M266.0,676.2V680.9M267.0,675.6V680.8M268.0,676.3V680.5M269.0,678.3V679.9M287.0,676.8V681.3M288.0,673.3V681.3M289.0,673.8V681.0M290.0,678.4V680.4M327.0,678.2V678.6M328.0,677.7V679.5M329.0,676.7V680.0M330.0,676.2V683.2M331.0,676.0V684.5M332.0,676.1V684.1M333.0,676.6V684.0M334.0,675.5V683.7M335.0,673.0V683.2M336.0,673.0V680.8M337.0,672.8V680.7M338.0,672.2V682.9M339.0,672.2V682.4M340.0,671.6V683.1M341.0,670.2V685.1M342.0,671.7V684.3M343.0,672.0V683.9M344.0,671.3V683.8M345.0,671.3V685.2M346.0,671.5V685.4M347.0,671.8V684.5M348.0,673.3V682.8M349.0,674.3V682.5M350.0,674.8V683.8M351.0,675.3V684.5M352.0,674.9V685.0M353.0,673.8V685.3M354.0,671.9V684.8M355.0,670.8V684.7M356.0,670.6V684.9M357.0,673.1V683.6M358.0,674.5V683.0M359.0,674.8V683.2M360.0,677.5V684.0M361.0,679.1V682.6M363.0,678.9V681.3M364.0,677.6V683.6M365.0,675.7V685.6M366.0,676.8V687.3M367.0,677.6V687.6M368.0,678.1V686.7M369.0,677.4V687.3M370.0,677.3V687.1M371.0,677.6V686.0M372.0,678.8V683.9M373.0,679.5V682.8M374.0,679.6V682.6M375.0,676.7V683.1M376.0,674.8V683.6M377.0,673.9V684.3M378.0,675.0V681.9M379.0,675.6V681.1M380.0,675.6V681.9M381.0,675.1V682.4M382.0,673.1V683.0M383.0,669.6V683.6M384.0,669.9V682.5M385.0,670.3V683.2M386.0,670.8V685.7M387.0,670.3V682.9M388.0,671.3V680.9M389.0,673.7V679.7M390.0,674.3V681.9M391.0,675.1V682.9M392.0,676.0V682.8M393.0,678.2V681.7M394.0,679.1V681.0M395.0,678.8V680.6M396.0,680.0V681.9M397.0,681.1V682.2M493.0,677.3V677.8M494.0,673.7V679.3M495.0,673.2V677.9M496.0,673.2V678.0M497.0,673.7V679.3M498.0,674.7V679.5M499.0,676.0V679.4M500.0,677.5V678.8M509.0,676.5V677.4M510.0,673.5V679.3M511.0,672.0V679.5M512.0,672.1V678.2M513.0,672.4V680.6M514.0,672.4V681.3M515.0,672.1V680.1M516.0,674.1V679.1M517.0,675.5V678.6M518.0,676.1V678.8M519.0,677.8V678.3M523.0,678.5V678.8M524.0,677.6V679.8M525.0,677.6V679.9M526.0,678.9V681.1M527.0,681.6V683.7M528.0,679.2V682.3M529.0,677.2V680.9M530.0,675.6V679.3M542.0,679.3V682.2M543.0,677.9V679.3M546.0,671.9V672.2M547.0,671.0V672.3M548.0,672.3V672.9M549.0,672.6V673.5M550.0,672.5V674.3M551.0,672.2V675.3M552.0,673.0V677.3M553.0,673.5V678.1M554.0,673.6V677.8M555.0,675.3V677.1M562.0,676.9V677.6M563.0,678.4V681.9M577.0,675.6V678.7M578.0,672.0V680.1M579.0,671.0V680.1M580.0,670.1V681.1M581.0,669.2V682.9M582.0,668.9V683.0M583.0,669.0V684.1M584.0,669.5V686.0M585.0,667.9V684.0M586.0,666.7V683.8M587.0,665.8V685.5M588.0,662.1V684.8M589.0,659.3V685.3M590.0,657.5V686.7M591.0,657.0V685.8M592.0,657.5V685.6M593.0,658.9V686.2M594.0,662.9V686.2M595.0,665.9V685.7M596.0,668.0V684.6M597.0,667.0V681.8M598.0,667.7V678.9M599.0,670.1V676.1M600.0,670.3V673.6M601.0,670.9V671.3M700.0,677.6V680.2M701.0,677.2V679.4M702.0,677.2V681.4M703.0,676.7V682.2M704.0,675.7V681.7M705.0,673.9V682.6M706.0,672.8V683.7M707.0,672.4V685.0M708.0,670.9V684.0M709.0,669.9V685.0M710.0,669.2V687.9M711.0,672.1V687.7M712.0,674.2V687.3M713.0,675.6V686.8M714.0,673.6V685.4M715.0,672.7V684.1M716.0,672.9V682.7M717.0,675.0V681.8M718.0,676.0V681.3M719.0,676.0V681.3M720.0,676.0V682.5M721.0,676.3V682.7M722.0,677.0V681.9M723.0,676.0V682.9M724.0,676.5V682.4M725.0,678.4V680.4M773.0,673.5V675.8M774.0,673.0V677.9M775.0,671.7V678.7M776.0,669.6V678.2M777.0,670.1V679.6M778.0,669.6V680.5M779.0,667.9V680.9M780.0,667.8V678.5M781.0,669.0V676.7M782.0,671.7V675.5M783.0,672.9V675.4M828.0,675.6V677.0M829.0,673.0V678.7M830.0,670.7V680.7M831.0,668.8V682.1M832.0,668.1V684.4M833.0,668.5V687.3M834.0,669.6V688.1M835.0,670.1V687.5M836.0,670.0V685.4M837.0,674.3V682.4M838.0,676.2V680.0M839.0,675.7V678.0M893.0,674.2V679.1M894.0,674.8V680.2M895.0,674.7V680.7M896.0,673.9V680.4M897.0,673.9V680.4" stroke="#b4f7b0" stroke-width="1.05" fill="none"/>
<path d="M5.0,669.4 L6.5,665.1 L8.0,666.0 L9.5,668.2 L11.0,665.3 L12.5,666.7 L14.0,665.3 L15.5,667.8 L17.0,668.3 L18.5,668.9 L20.0,668.1 L21.5,668.9 L23.0,669.5 L24.5,672.9 L26.0,671.5 L27.5,668.6 L29.0,664.0 L30.5,662.5 L32.0,662.8 L33.5,663.5 L35.0,662.8 L36.5,663.6 L38.0,660.3 L39.5,657.1 L41.0,661.2 L42.5,666.2 L44.0,668.9 L45.5,670.3 L47.0,672.7 L48.5,674.8 L50.0,677.3 L51.5,674.8 L53.0,672.9 L54.5,668.1 L56.0,670.1 L57.5,672.5 L59.0,674.2 L60.5,676.7 L62.0,677.5 L63.5,679.7 L65.0,683.5 L66.5,682.7 L68.0,684.8 L69.5,684.2 L71.0,684.9 L72.5,686.3 L74.0,685.2 L75.5,687.3 L77.0,684.3 L78.5,684.9 L80.0,685.5 L81.5,685.1 L83.0,683.9 L84.5,681.6 L86.0,681.6 L87.5,683.2 L89.0,682.4 L90.5,680.7 L92.0,678.9 L93.5,678.7 L95.0,681.5 L96.5,681.0 L98.0,679.6 L99.5,681.6 L101.0,674.0 L102.5,674.3 L104.0,668.2 L105.5,668.8 L107.0,675.9 L108.5,677.5 L110.0,677.9 L111.5,678.9 L113.0,679.6 L114.5,677.6 L116.0,675.4 L117.5,675.4 L119.0,677.3 L120.5,678.6 L122.0,680.2 L123.5,679.4 L125.0,680.4 L126.5,679.8 L128.0,677.8 L129.5,677.9 L131.0,679.4 L132.5,679.6 L134.0,679.1 L135.5,679.7 L137.0,682.4 L138.5,680.5 L140.0,676.9 L141.5,679.3 L143.0,676.8 L144.5,681.9 L146.0,681.1 L147.5,682.0 L149.0,682.1 L150.5,683.0 L152.0,683.7 L153.5,685.7 L155.0,683.2 L156.5,684.0 L158.0,685.0 L159.5,686.3 L161.0,688.9 L162.5,686.7 L164.0,686.3 L165.5,690.7 L167.0,694.4 L168.5,696.1 L170.0,695.4 L171.5,695.0 L173.0,689.8 L174.5,687.2 L176.0,686.7 L177.5,686.9 L179.0,686.5 L180.5,685.8 L182.0,683.0 L183.5,686.6 L185.0,684.4 L186.5,684.2 L188.0,681.8 L189.5,682.7 L191.0,681.9 L192.5,683.9 L194.0,684.5 L195.5,682.3 L197.0,682.3 L198.5,682.2 L200.0,682.5 L201.5,684.9 L203.0,682.8 L204.5,687.5 L206.0,684.4 L207.5,682.1 L209.0,684.6 L210.5,682.9 L212.0,686.3 L213.5,686.8 L215.0,686.0 L216.5,686.7 L218.0,685.7 L219.5,683.4 L221.0,684.0 L222.5,689.2 L224.0,689.7 L225.5,690.0 L227.0,686.4 L228.5,688.9 L230.0,687.1 L231.5,684.1 L233.0,682.3 L234.5,680.4 L236.0,682.0 L237.5,681.7 L239.0,678.5 L240.5,676.9 L242.0,675.1 L243.5,674.5 L245.0,676.8 L246.5,673.3 L248.0,671.9 L249.5,668.0 L251.0,665.0 L252.5,664.6 L254.0,668.0 L255.5,667.0 L257.0,668.2 L258.5,668.3 L260.0,667.0 L261.5,670.2 L263.0,671.9 L264.5,674.8 L266.0,676.2 L267.5,675.3 L269.0,678.3 L270.5,678.3 L272.0,677.7 L273.5,677.5 L275.0,677.1 L276.5,678.4 L278.0,680.3 L279.5,683.3 L281.0,682.1 L282.5,684.1 L284.0,684.8 L285.5,683.8 L287.0,676.8 L288.5,671.6 L290.0,678.4 L291.5,683.2 L293.0,681.8 L294.5,682.2 L296.0,681.9 L297.5,685.8 L299.0,686.4 L300.5,684.4 L302.0,683.1 L303.5,684.2 L305.0,684.0 L306.5,684.7 L308.0,683.6 L309.5,681.9 L311.0,679.2 L312.5,678.3 L314.0,677.2 L315.5,679.0 L317.0,680.6 L318.5,682.9 L320.0,681.4 L321.5,683.5 L323.0,683.6 L324.5,680.6 L326.0,678.2 L327.5,678.1 L329.0,676.7 L330.5,676.0 L332.0,676.1 L333.5,676.8 L335.0,673.0 L336.5,673.0 L338.0,672.2 L339.5,672.2 L341.0,670.2 L342.5,672.4 L344.0,671.3 L345.5,671.3 L347.0,671.8 L348.5,674.1 L350.0,674.8 L351.5,675.5 L353.0,673.8 L354.5,670.9 L356.0,670.6 L357.5,674.4 L359.0,674.8 L360.5,678.9 L362.0,679.4 L363.5,678.6 L365.0,675.7 L366.5,677.4 L368.0,678.1 L369.5,677.1 L371.0,677.6 L372.5,679.5 L374.0,679.6 L375.5,675.2 L377.0,673.9 L378.5,675.6 L380.0,675.6 L381.5,674.9 L383.0,669.6 L384.5,670.1 L386.0,670.8 L387.5,670.1 L389.0,673.7 L390.5,674.7 L392.0,676.0 L393.5,679.3 L395.0,678.8 L396.5,680.7 L398.0,682.0 L399.5,684.5 L401.0,686.1 L402.5,684.3 L404.0,684.3 L405.5,683.9 L407.0,684.7 L408.5,682.5 L410.0,681.3 L411.5,684.0 L413.0,682.7 L414.5,685.2 L416.0,682.5 L417.5,686.4 L419.0,685.4 L420.5,689.6 L422.0,689.5 L423.5,689.9 L425.0,687.8 L426.5,688.8 L428.0,687.9 L429.5,689.8 L431.0,689.1 L432.5,689.8 L434.0,689.7 L435.5,690.9 L437.0,693.9 L438.5,694.1 L440.0,695.7 L441.5,688.5 L443.0,689.4 L444.5,684.9 L446.0,682.7 L447.5,685.9 L449.0,684.7 L450.5,690.2 L452.0,690.6 L453.5,690.7 L455.0,692.4 L456.5,691.9 L458.0,692.3 L459.5,692.9 L461.0,696.7 L462.5,697.0 L464.0,695.7 L465.5,696.5 L467.0,694.2 L468.5,697.0 L470.0,694.1 L471.5,693.5 L473.0,693.4 L474.5,693.9 L476.0,691.2 L477.5,689.0 L479.0,687.0 L480.5,682.2 L482.0,682.0 L483.5,683.5 L485.0,685.0 L486.5,682.7 L488.0,680.9 L489.5,682.9 L491.0,679.8 L492.5,679.0 L494.0,673.7 L495.5,672.9 L497.0,673.7 L498.5,675.2 L500.0,677.5 L501.5,678.2 L503.0,678.8 L504.5,679.7 L506.0,681.5 L507.5,679.5 L509.0,676.5 L510.5,672.0 L512.0,672.1 L513.5,672.6 L515.0,672.1 L516.5,675.1 L518.0,676.1 L519.5,678.6 L521.0,679.7 L522.5,678.9 L524.0,677.6 L525.5,677.5 L527.0,681.6 L528.5,678.0 L530.0,675.6 L531.5,676.5 L533.0,677.0 L534.5,679.3 L536.0,680.3 L537.5,683.3 L539.0,682.8 L540.5,682.1 L542.0,679.3 L543.5,677.1 L545.0,675.1 L546.5,670.3 L548.0,672.3 L549.5,672.7 L551.0,672.2 L552.5,673.5 L554.0,673.6 L555.5,676.2 L557.0,677.6 L558.5,675.8 L560.0,678.6 L561.5,676.2 L563.0,678.4 L564.5,681.8 L566.0,682.7 L567.5,679.5 L569.0,682.2 L570.5,684.1 L572.0,682.8 L573.5,680.1 L575.0,680.5 L576.5,677.4 L578.0,672.0 L579.5,670.6 L581.0,669.2 L582.5,668.7 L584.0,669.5 L585.5,667.2 L587.0,665.8 L588.5,660.3 L590.0,657.5 L591.5,656.8 L593.0,658.9 L594.5,664.9 L596.0,668.0 L597.5,666.5 L599.0,670.1 L600.5,670.3 L602.0,672.1 L603.5,674.8 L605.0,677.1 L606.5,678.2 L608.0,677.9 L609.5,680.2 L611.0,679.8 L612.5,680.1 L614.0,679.9 L615.5,681.0 L617.0,679.5 L618.5,678.5 L620.0,680.6 L621.5,681.0 L623.0,680.9 L624.5,680.3 L626.0,679.0 L627.5,678.3 L629.0,682.3 L630.5,683.0 L632.0,684.7 L633.5,685.3 L635.0,687.3 L636.5,685.4 L638.0,688.0 L639.5,684.7 L641.0,687.1 L642.5,690.3 L644.0,690.7 L645.5,690.6 L647.0,688.3 L648.5,689.5 L650.0,688.4 L651.5,688.6 L653.0,688.2 L654.5,686.4 L656.0,685.1 L657.5,686.6 L659.0,687.2 L660.5,687.1 L662.0,688.2 L663.5,687.4 L665.0,688.4 L666.5,690.4 L668.0,691.0 L669.5,687.1 L671.0,689.8 L672.5,690.0 L674.0,690.8 L675.5,691.7 L677.0,693.6 L678.5,688.6 L680.0,687.6 L681.5,691.0 L683.0,688.6 L684.5,690.8 L686.0,691.2 L687.5,687.5 L689.0,686.4 L690.5,687.4 L692.0,688.9 L693.5,686.8 L695.0,685.9 L696.5,682.8 L698.0,684.3 L699.5,677.9 L701.0,677.2 L702.5,677.2 L704.0,675.7 L705.5,673.0 L707.0,672.4 L708.5,670.2 L710.0,669.2 L711.5,673.5 L713.0,675.6 L714.5,672.6 L716.0,672.9 L717.5,676.0 L719.0,676.0 L720.5,676.0 L722.0,677.0 L723.5,675.5 L725.0,678.4 L726.5,678.9 L728.0,680.6 L729.5,680.1 L731.0,682.5 L732.5,683.7 L734.0,684.6 L735.5,687.5 L737.0,684.6 L738.5,687.0 L740.0,685.7 L741.5,686.4 L743.0,692.0 L744.5,693.3 L746.0,693.0 L747.5,687.7 L749.0,684.9 L750.5,685.6 L752.0,684.6 L753.5,685.3 L755.0,684.0 L756.5,683.2 L758.0,682.5 L759.5,681.0 L761.0,677.7 L762.5,679.6 L764.0,678.9 L765.5,679.1 L767.0,679.2 L768.5,680.7 L770.0,680.1 L771.5,675.2 L773.0,673.5 L774.5,672.7 L776.0,669.6 L777.5,670.4 L779.0,667.9 L780.5,667.7 L782.0,671.7 L783.5,673.4 L785.0,679.2 L786.5,675.6 L788.0,675.9 L789.5,677.8 L791.0,677.8 L792.5,677.6 L794.0,679.9 L795.5,680.4 L797.0,681.0 L798.5,681.4 L800.0,683.4 L801.5,684.1 L803.0,684.9 L804.5,684.8 L806.0,685.4 L807.5,684.9 L809.0,687.6 L810.5,688.6 L812.0,688.9 L813.5,690.4 L815.0,692.4 L816.5,694.2 L818.0,694.7 L819.5,697.0 L821.0,695.9 L822.5,688.3 L824.0,684.1 L825.5,682.5 L827.0,678.2 L828.5,674.2 L830.0,670.7 L831.5,667.9 L833.0,668.5 L834.5,670.2 L836.0,670.0 L837.5,676.4 L839.0,675.7 L840.5,678.6 L842.0,683.3 L843.5,681.5 L845.0,681.3 L846.5,681.7 L848.0,680.9 L849.5,682.3 L851.0,682.1 L852.5,681.0 L854.0,685.6 L855.5,685.2 L857.0,682.8 L858.5,680.0 L860.0,681.2 L861.5,684.0 L863.0,682.8 L864.5,684.1 L866.0,686.0 L867.5,687.6 L869.0,691.1 L870.5,688.2 L872.0,687.2 L873.5,691.5 L875.0,687.8 L876.5,688.5 L878.0,689.2 L879.5,690.5 L881.0,688.4 L882.5,689.7 L884.0,691.7 L885.5,690.4 L887.0,691.1 L888.5,689.1 L890.0,690.9 L891.5,682.5 L893.0,674.2 L894.5,675.1 L896.0,673.9" fill="none" stroke="#22dd22" stroke-width="1.2"/>
<path d="M5.0,688.0 L6.5,685.2 L8.0,681.3 L9.5,682.7 L11.0,682.0 L12.5,685.1 L14.0,686.4 L15.5,685.8 L17.0,689.3 L18.5,693.1 L20.0,691.9 L21.5,690.0 L23.0,686.8 L24.5,690.7 L26.0,691.7 L27.5,693.6 L29.0,696.6 L30.5,694.2 L32.0,694.4 L33.5,697.0 L35.0,694.5 L36.5,697.1 L38.0,697.1 L39.5,696.5 L41.0,697.6 L42.5,694.1 L44.0,688.9 L45.5,683.4 L47.0,676.4 L48.5,672.3 L50.0,672.0 L51.5,673.5 L53.0,671.2 L54.5,672.1 L56.0,673.4 L57.5,674.9 L59.0,676.2 L60.5,676.0 L62.0,678.7 L63.5,673.6 L65.0,668.3 L66.5,663.1 L68.0,665.1 L69.5,667.6 L71.0,671.3 L72.5,669.5 L74.0,668.3 L75.5,663.6 L77.0,660.7 L78.5,658.6 L80.0,660.8 L81.5,660.5 L83.0,660.5 L84.5,661.7 L86.0,664.7 L87.5,670.5 L89.0,669.1 L90.5,669.3 L92.0,671.4 L93.5,669.1 L95.0,669.2 L96.5,669.1 L98.0,667.3 L99.5,669.3 L101.0,671.5 L102.5,673.9 L104.0,676.2 L105.5,676.4 L107.0,675.7 L108.5,675.0 L110.0,674.7 L111.5,675.5 L113.0,673.4 L114.5,668.9 L116.0,671.9 L117.5,672.6 L119.0,676.6 L120.5,673.3 L122.0,674.7 L123.5,676.0 L125.0,674.4 L126.5,675.1 L128.0,674.4 L129.5,676.8 L131.0,676.5 L132.5,676.4 L134.0,676.4 L135.5,675.7 L137.0,676.4 L138.5,677.2 L140.0,676.3 L141.5,675.5 L143.0,677.4 L144.5,675.5 L146.0,676.0 L147.5,678.8 L149.0,680.1 L150.5,682.9 L152.0,680.4 L153.5,679.6 L155.0,680.8 L156.5,680.4 L158.0,675.6 L159.5,676.0 L161.0,668.7 L162.5,661.5 L164.0,650.5 L165.5,643.7 L167.0,646.4 L168.5,649.9 L170.0,653.3 L171.5,652.6 L173.0,656.2 L174.5,657.3 L176.0,661.7 L177.5,664.0 L179.0,663.8 L180.5,664.8 L182.0,666.8 L183.5,669.5 L185.0,671.3 L186.5,672.3 L188.0,672.0 L189.5,673.6 L191.0,670.4 L192.5,670.5 L194.0,668.9 L195.5,667.1 L197.0,665.9 L198.5,663.7 L200.0,662.5 L201.5,666.5 L203.0,666.0 L204.5,665.1 L206.0,668.2 L207.5,668.8 L209.0,665.8 L210.5,664.3 L212.0,659.1 L213.5,657.3 L215.0,658.4 L216.5,662.0 L218.0,662.9 L219.5,660.7 L221.0,664.7 L222.5,663.3 L224.0,663.1 L225.5,665.4 L227.0,666.3 L228.5,667.0 L230.0,668.2 L231.5,671.0 L233.0,676.0 L234.5,678.8 L236.0,683.1 L237.5,687.0 L239.0,687.2 L240.5,685.4 L242.0,686.6 L243.5,688.3 L245.0,687.0 L246.5,688.2 L248.0,687.6 L249.5,691.2 L251.0,688.7 L252.5,688.8 L254.0,687.3 L255.5,685.0 L257.0,680.7 L258.5,680.9 L260.0,681.2 L261.5,684.1 L263.0,683.8 L264.5,685.1 L266.0,680.9 L267.5,680.8 L269.0,679.9 L270.5,677.2 L272.0,673.2 L273.5,675.3 L275.0,676.6 L276.5,674.0 L278.0,674.5 L279.5,674.1 L281.0,673.0 L282.5,673.5 L284.0,679.9 L285.5,680.5 L287.0,681.3 L288.5,681.3 L290.0,680.4 L291.5,680.5 L293.0,679.2 L294.5,678.7 L296.0,677.2 L297.5,670.9 L299.0,668.2 L300.5,667.0 L302.0,666.5 L303.5,667.1 L305.0,667.3 L306.5,668.8 L308.0,669.9 L309.5,674.7 L311.0,675.1 L312.5,675.3 L314.0,676.1 L315.5,676.3 L317.0,673.3 L318.5,674.4 L320.0,676.2 L321.5,677.7 L323.0,678.0 L324.5,676.5 L326.0,677.4 L327.5,679.2 L329.0,680.0 L330.5,684.8 L332.0,684.1 L333.5,684.0 L335.0,683.2 L336.5,679.6 L338.0,682.9 L339.5,682.1 L341.0,685.1 L342.5,684.0 L344.0,683.8 L345.5,685.9 L347.0,684.5 L348.5,681.9 L350.0,683.8 L351.5,684.8 L353.0,685.3 L354.5,684.6 L356.0,684.9 L357.5,682.9 L359.0,683.2 L360.5,684.4 L362.0,678.9 L363.5,682.6 L365.0,685.6 L366.5,688.1 L368.0,686.7 L369.5,687.6 L371.0,686.0 L372.5,682.8 L374.0,682.6 L375.5,683.3 L377.0,684.3 L378.5,680.8 L380.0,681.9 L381.5,682.7 L383.0,683.6 L384.5,681.9 L386.0,685.7 L387.5,681.4 L389.0,679.7 L390.5,683.0 L392.0,682.8 L393.5,681.2 L395.0,680.6 L396.5,682.5 L398.0,681.5 L399.5,679.7 L401.0,676.6 L402.5,673.9 L404.0,673.0 L405.5,669.5 L407.0,665.7 L408.5,663.0 L410.0,664.0 L411.5,662.9 L413.0,666.7 L414.5,665.4 L416.0,669.1 L417.5,668.6 L419.0,669.0 L420.5,666.1 L422.0,667.1 L423.5,669.8 L425.0,666.4 L426.5,668.8 L428.0,669.0 L429.5,669.0 L431.0,665.8 L432.5,668.1 L434.0,664.8 L435.5,667.3 L437.0,667.7 L438.5,664.5 L440.0,668.5 L441.5,671.5 L443.0,671.8 L444.5,671.5 L446.0,672.1 L447.5,671.0 L449.0,671.6 L450.5,669.4 L452.0,670.0 L453.5,672.9 L455.0,675.3 L456.5,668.4 L458.0,666.5 L459.5,662.0 L461.0,658.9 L462.5,658.0 L464.0,656.5 L465.5,655.2 L467.0,657.9 L468.5,657.2 L470.0,656.7 L471.5,658.7 L473.0,662.4 L474.5,664.0 L476.0,665.2 L477.5,668.0 L479.0,666.2 L480.5,670.4 L482.0,673.0 L483.5,673.6 L485.0,673.0 L486.5,672.4 L488.0,671.6 L489.5,675.7 L491.0,677.4 L492.5,677.1 L494.0,679.3 L495.5,677.3 L497.0,679.3 L498.5,679.7 L500.0,678.8 L501.5,675.3 L503.0,673.1 L504.5,673.4 L506.0,676.2 L507.5,675.2 L509.0,677.4 L510.5,680.2 L512.0,678.2 L513.5,681.8 L515.0,680.1 L516.5,678.6 L518.0,678.8 L519.5,678.1 L521.0,677.3 L522.5,678.3 L524.0,679.8 L525.5,679.9 L527.0,683.7 L528.5,681.6 L530.0,679.3 L531.5,672.9 L533.0,670.1 L534.5,668.9 L536.0,669.4 L537.5,668.9 L539.0,673.5 L540.5,679.5 L542.0,682.2 L543.5,677.8 L545.0,672.5 L546.5,672.0 L548.0,672.9 L549.5,673.8 L551.0,675.3 L552.5,678.3 L554.0,677.8 L555.5,676.7 L557.0,675.5 L558.5,676.3 L560.0,676.8 L561.5,675.5 L563.0,681.9 L564.5,675.6 L566.0,672.4 L567.5,672.9 L569.0,676.0 L570.5,679.7 L572.0,676.0 L573.5,676.2 L575.0,678.5 L576.5,677.9 L578.0,680.1 L579.5,680.1 L581.0,682.9 L582.5,683.1 L584.0,686.0 L585.5,683.0 L587.0,685.5 L588.5,684.5 L590.0,686.7 L591.5,685.3 L593.0,686.2 L594.5,686.3 L596.0,684.6 L597.5,680.3 L599.0,676.1 L600.5,672.4 L602.0,669.2 L603.5,669.4 L605.0,668.4 L606.5,670.1 L608.0,672.0 L609.5,673.5 L611.0,672.1 L612.5,674.2 L614.0,672.7 L615.5,670.4 L617.0,669.9 L618.5,672.0 L620.0,673.2 L621.5,675.3 L623.0,675.9 L624.5,675.2 L626.0,671.4 L627.5,668.6 L629.0,667.3 L630.5,664.2 L632.0,667.0 L633.5,668.2 L635.0,672.8 L636.5,670.8 L638.0,677.3 L639.5,674.1 L641.0,668.9 L642.5,665.5 L644.0,664.5 L645.5,665.4 L647.0,664.7 L648.5,664.4 L650.0,663.4 L651.5,663.6 L653.0,663.8 L654.5,661.7 L656.0,660.0 L657.5,660.3 L659.0,662.8 L660.5,665.5 L662.0,664.9 L663.5,667.1 L665.0,666.7 L666.5,667.9 L668.0,667.2 L669.5,667.0 L671.0,666.4 L672.5,667.4 L674.0,667.3 L675.5,669.1 L677.0,669.2 L678.5,672.1 L680.0,676.1 L681.5,675.5 L683.0,677.5 L684.5,676.4 L686.0,677.4 L687.5,679.5 L689.0,679.3 L690.5,679.6 L692.0,681.1 L693.5,680.9 L695.0,681.4 L696.5,679.8 L698.0,678.4 L699.5,680.7 L701.0,679.4 L702.5,682.5 L704.0,681.7 L705.5,683.0 L707.0,685.0 L708.5,683.5 L710.0,687.9 L711.5,687.6 L713.0,686.8 L714.5,684.8 L716.0,682.7 L717.5,681.3 L719.0,681.3 L720.5,683.1 L722.0,681.9 L723.5,683.4 L725.0,680.4 L726.5,675.2 L728.0,674.2 L729.5,670.9 L731.0,667.7 L732.5,670.8 L734.0,670.4 L735.5,667.4 L737.0,667.1 L738.5,665.1 L740.0,664.8 L741.5,660.5 L743.0,656.6 L744.5,660.8 L746.0,666.5 L747.5,669.9 L749.0,669.3 L750.5,669.0 L752.0,668.9 L753.5,671.8 L755.0,670.6 L756.5,670.8 L758.0,671.9 L759.5,670.3 L761.0,666.6 L762.5,667.3 L764.0,666.4 L765.5,666.3 L767.0,669.1 L768.5,673.8 L770.0,673.7 L771.5,673.7 L773.0,675.8 L774.5,678.9 L776.0,678.2 L777.5,680.3 L779.0,680.9 L780.5,677.3 L782.0,675.5 L783.5,675.4 L785.0,673.6 L786.5,670.3 L788.0,668.5 L789.5,666.5 L791.0,665.1 L792.5,664.4 L794.0,664.5 L795.5,663.3 L797.0,663.7 L798.5,664.3 L800.0,663.9 L801.5,667.1 L803.0,665.7 L804.5,662.6 L806.0,666.6 L807.5,666.4 L809.0,667.6 L810.5,667.3 L812.0,669.2 L813.5,667.9 L815.0,669.1 L816.5,670.5 L818.0,669.3 L819.5,666.2 L821.0,670.1 L822.5,672.7 L824.0,673.2 L825.5,672.4 L827.0,675.6 L828.5,677.7 L830.0,680.7 L831.5,682.9 L833.0,687.3 L834.5,688.5 L836.0,685.4 L837.5,681.0 L839.0,678.0 L840.5,675.0 L842.0,669.0 L843.5,666.5 L845.0,667.5 L846.5,665.4 L848.0,665.5 L849.5,665.4 L851.0,665.1 L852.5,667.1 L854.0,668.3 L855.5,673.3 L857.0,674.9 L858.5,673.7 L860.0,674.4 L861.5,675.9 L863.0,673.6 L864.5,670.0 L866.0,664.9 L867.5,659.8 L869.0,657.0 L870.5,659.1 L872.0,663.0 L873.5,664.2 L875.0,665.4 L876.5,663.7 L878.0,662.1 L879.5,665.9 L881.0,666.1 L882.5,666.9 L884.0,665.7 L885.5,670.9 L887.0,673.8 L888.5,671.8 L890.0,673.6 L891.5,675.9 L893.0,679.1 L894.5,680.8 L896.0,680.4" fill="none" stroke="#ff2020" stroke-width="1.2"/>
<path d="M5.0,670.1 L6.5,670.5 L8.0,671.2 L9.5,671.5 L11.0,671.3 L12.5,670.6 L14.0,669.9 L15.5,669.2 L17.0,668.6 L18.5,668.0 L20.0,667.5 L21.5,666.9 L23.0,666.1 L24.5,665.2 L26.0,664.2 L27.5,663.3 L29.0,662.2 L30.5,660.8 L32.0,658.8 L33.5,656.7 L35.0,654.5 L36.5,652.5 L38.0,650.5 L39.5,649.1 L41.0,649.1 L42.5,650.1 L44.0,651.6 L45.5,653.3 L47.0,655.3 L48.5,657.4 L50.0,659.6 L51.5,661.8 L53.0,663.9 L54.5,666.0 L56.0,667.8 L57.5,669.3 L59.0,670.9 L60.5,672.5 L62.0,674.3 L63.5,675.7 L65.0,676.0 L66.5,675.6 L68.0,674.9 L69.5,674.2 L71.0,673.5 L72.5,672.7 L74.0,672.0 L75.5,671.2 L77.0,670.4 L78.5,669.6 L80.0,668.9 L81.5,668.1 L83.0,667.3 L84.5,666.6 L86.0,666.3 L87.5,667.1 L89.0,668.5 L90.5,669.9 L92.0,671.2 L93.5,672.5 L95.0,673.5 L96.5,674.2 L98.0,675.0 L99.5,675.8 L101.0,676.5 L102.5,677.5 L104.0,678.5 L105.5,679.7 L107.0,680.9 L108.5,682.0 L110.0,683.0 L111.5,683.4 L113.0,683.5 L114.5,683.7 L116.0,683.9 L117.5,684.0 L119.0,684.2 L120.5,684.6 L122.0,685.2 L123.5,685.9 L125.0,686.6 L126.5,687.4 L128.0,688.1 L129.5,688.7 L131.0,689.3 L132.5,689.7 L134.0,690.2 L135.5,690.6 L137.0,691.0 L138.5,691.5 L140.0,691.8 L141.5,691.9 L143.0,691.9 L144.5,691.9 L146.0,691.9 L147.5,691.9 L149.0,691.9 L150.5,691.8 L152.0,691.7 L153.5,691.5 L155.0,691.3 L156.5,691.2 L158.0,690.3 L159.5,688.1 L161.0,685.1 L162.5,682.1 L164.0,678.8 L165.5,675.3 L167.0,671.8 L168.5,668.2 L170.0,665.4 L171.5,664.1 L173.0,663.4 L174.5,662.8 L176.0,662.2 L177.5,661.6 L179.0,661.3 L180.5,660.9 L182.0,661.0 L183.5,661.8 L185.0,662.9 L186.5,664.1 L188.0,665.2 L189.5,666.3 L191.0,667.3 L192.5,668.1 L194.0,668.8 L195.5,669.6 L197.0,670.3 L198.5,670.8 L200.0,670.9 L201.5,670.9 L203.0,670.9 L204.5,670.9 L206.0,670.8 L207.5,670.6 L209.0,670.4 L210.5,670.2 L212.0,670.0 L213.5,669.6 L215.0,669.1 L216.5,668.5 L218.0,667.8 L219.5,667.4 L221.0,667.2 L222.5,667.4 L224.0,667.6 L225.5,667.5 L227.0,667.0 L228.5,666.4 L230.0,666.3 L231.5,667.1 L233.0,668.5 L234.5,669.8 L236.0,671.1 L237.5,672.5 L239.0,673.9 L240.5,675.3 L242.0,676.7 L243.5,678.1 L245.0,679.1 L246.5,679.5 L248.0,679.5 L249.5,679.2 L251.0,678.0 L252.5,676.2 L254.0,674.5 L255.5,673.3 L257.0,673.0 L258.5,673.0 L260.0,673.0 L261.5,673.1 L263.0,673.3 L264.5,673.8 L266.0,674.2 L267.5,674.6 L269.0,675.1 L270.5,675.7 L272.0,676.3 L273.5,677.0 L275.0,677.7 L276.5,678.4 L278.0,678.9 L279.5,679.1 L281.0,679.1 L282.5,679.1 L284.0,679.2 L285.5,679.4 L287.0,680.0 L288.5,680.7 L290.0,681.3 L291.5,682.1 L293.0,683.0 L294.5,684.2 L296.0,685.3 L297.5,686.2 L299.0,686.4 L300.5,686.0 L302.0,685.4 L303.5,684.9 L305.0,684.5 L306.5,684.6 L308.0,684.9 L309.5,685.2 L311.0,685.5 L312.5,685.8 L314.0,686.1 L315.5,686.4 L317.0,686.7 L318.5,687.0 L320.0,687.3 L321.5,687.7 L323.0,688.2 L324.5,688.9 L326.0,689.6 L327.5,690.2 L329.0,690.9 L330.5,691.5 L332.0,692.1 L333.5,692.6 L335.0,692.8 L336.5,692.4 L338.0,691.7 L339.5,691.0 L341.0,690.3 L342.5,689.6 L344.0,688.9 L345.5,688.3 L347.0,687.8 L348.5,687.3 L350.0,686.8 L351.5,686.4 L353.0,685.9 L354.5,685.3 L356.0,684.5 L357.5,683.4 L359.0,682.3 L360.5,681.2 L362.0,680.2 L363.5,679.5 L365.0,678.9 L366.5,678.4 L368.0,677.8 L369.5,677.4 L371.0,677.5 L372.5,677.9 L374.0,678.4 L375.5,679.0 L377.0,679.4 L378.5,679.6 L380.0,679.7 L381.5,679.8 L383.0,680.0 L384.5,680.1 L386.0,680.3 L387.5,680.6 L389.0,680.9 L390.5,681.3 L392.0,681.6 L393.5,681.9 L395.0,682.1 L396.5,682.1 L398.0,681.9 L399.5,681.8 L401.0,681.6 L402.5,681.5 L404.0,681.2 L405.5,680.8 L407.0,680.0 L408.5,679.1 L410.0,678.2 L411.5,677.3 L413.0,676.5 L414.5,675.8 L416.0,675.0 L417.5,674.2 L419.0,673.5 L420.5,672.9 L422.0,672.5 L423.5,672.1 L425.0,671.7 L426.5,671.3 L428.0,670.7 L429.5,669.8 L431.0,668.7 L432.5,667.6 L434.0,666.5 L435.5,665.3 L437.0,663.9 L438.5,662.4 L440.0,660.9 L441.5,659.8 L443.0,659.3 L444.5,659.5 L446.0,659.8 L447.5,660.1 L449.0,660.4 L450.5,660.8 L452.0,661.3 L453.5,661.8 L455.0,661.9 L456.5,661.3 L458.0,660.3 L459.5,659.3 L461.0,658.1 L462.5,656.5 L464.0,654.2 L465.5,651.6 L467.0,649.1 L468.5,647.1 L470.0,645.7 L471.5,644.6 L473.0,643.6 L474.5,643.4 L476.0,644.2 L477.5,645.6 L479.0,647.0 L480.5,648.6 L482.0,650.2 L483.5,651.9 L485.0,653.6 L486.5,655.6 L488.0,657.8 L489.5,659.9 L491.0,662.3 L492.5,664.7 L494.0,667.1 L495.5,669.6 L497.0,671.7 L498.5,673.1 L500.0,674.3 L501.5,675.4 L503.0,676.6 L504.5,677.7 L506.0,678.8 L507.5,679.9 L509.0,681.0 L510.5,682.1 L512.0,682.9 L513.5,683.2 L515.0,683.2 L516.5,683.2 L518.0,683.5 L519.5,684.3 L521.0,685.4 L522.5,686.5 L524.0,687.6 L525.5,688.3 L527.0,688.7 L528.5,688.9 L530.0,689.1 L531.5,689.1 L533.0,688.7 L534.5,687.9 L536.0,686.9 L537.5,686.2 L539.0,686.0 L540.5,686.3 L542.0,686.6 L543.5,687.0 L545.0,687.4 L546.5,687.9 L548.0,688.5 L549.5,689.0 L551.0,689.6 L552.5,690.2 L554.0,690.7 L555.5,691.3 L557.0,691.8 L558.5,692.3 L560.0,692.8 L561.5,693.3 L563.0,693.7 L564.5,694.1 L566.0,694.5 L567.5,694.8 L569.0,695.2 L570.5,695.5 L572.0,695.9 L573.5,696.2 L575.0,696.4 L576.5,696.3 L578.0,696.0 L579.5,695.7 L581.0,695.3 L582.5,695.0 L584.0,694.6 L585.5,693.9 L587.0,692.8 L588.5,691.5 L590.0,690.1 L591.5,688.7 L593.0,687.0 L594.5,685.0 L596.0,683.2 L597.5,682.4 L599.0,682.8 L600.5,683.8 L602.0,684.6 L603.5,685.2 L605.0,685.5 L606.5,685.7 L608.0,685.9 L609.5,686.0 L611.0,686.2 L612.5,686.3 L614.0,686.3 L615.5,686.3 L617.0,686.3 L618.5,686.3 L620.0,686.2 L621.5,685.7 L623.0,685.1 L624.5,684.6 L626.0,684.1 L627.5,684.0 L629.0,684.5 L630.5,685.2 L632.0,685.9 L633.5,686.6 L635.0,686.8 L636.5,686.2 L638.0,685.0 L639.5,683.9 L641.0,682.7 L642.5,681.5 L644.0,680.0 L645.5,678.3 L647.0,676.5 L648.5,674.8 L650.0,673.1 L651.5,671.7 L653.0,670.3 L654.5,669.0 L656.0,667.8 L657.5,667.0 L659.0,666.7 L660.5,666.5 L662.0,666.4 L663.5,666.3 L665.0,666.2 L666.5,666.1 L668.0,665.7 L669.5,664.8 L671.0,663.6 L672.5,662.5 L674.0,661.8 L675.5,662.2 L677.0,663.1 L678.5,664.1 L680.0,665.0 L681.5,666.1 L683.0,667.2 L684.5,668.4 L686.0,669.5 L687.5,670.6 L689.0,671.8 L690.5,672.9 L692.0,674.0 L693.5,675.1 L695.0,676.3 L696.5,677.4 L698.0,678.6 L699.5,679.7 L701.0,680.9 L702.5,682.0 L704.0,682.7 L705.5,682.4 L707.0,681.6 L708.5,680.8 L710.0,680.0 L711.5,679.4 L713.0,679.3 L714.5,679.6 L716.0,680.0 L717.5,680.3 L719.0,680.8 L720.5,681.5 L722.0,682.6 L723.5,683.8 L725.0,685.1 L726.5,686.3 L728.0,687.1 L729.5,687.2 L731.0,686.8 L732.5,686.4 L734.0,686.1 L735.5,685.8 L737.0,684.8 L738.5,682.5 L740.0,679.6 L741.5,676.7 L743.0,673.8 L744.5,671.3 L746.0,669.8 L747.5,669.1 L749.0,668.7 L750.5,668.2 L752.0,668.2 L753.5,669.1 L755.0,670.4 L756.5,671.6 L758.0,672.9 L759.5,674.1 L761.0,675.1 L762.5,676.0 L764.0,676.8 L765.5,677.6 L767.0,678.4 L768.5,679.2 L770.0,679.9 L771.5,680.2 L773.0,680.5 L774.5,680.7 L776.0,680.9 L777.5,681.1 L779.0,681.4 L780.5,681.7 L782.0,682.2 L783.5,682.7 L785.0,683.2 L786.5,683.8 L788.0,684.0 L789.5,683.7 L791.0,683.1 L792.5,682.5 L794.0,681.9 L795.5,681.2 L797.0,680.3 L798.5,679.5 L800.0,678.6 L801.5,677.7 L803.0,676.9 L804.5,675.8 L806.0,674.2 L807.5,672.2 L809.0,670.1 L810.5,668.1 L812.0,666.0 L813.5,663.9 L815.0,662.4 L816.5,662.0 L818.0,662.2 L819.5,662.4 L821.0,662.7 L822.5,663.4 L824.0,664.4 L825.5,665.6 L827.0,666.9 L828.5,668.1 L830.0,669.0 L831.5,669.3 L833.0,669.3 L834.5,669.3 L836.0,669.5 L837.5,670.3 L839.0,672.0 L840.5,674.0 L842.0,676.0 L843.5,678.0 L845.0,679.6 L846.5,680.2 L848.0,680.4 L849.5,680.6 L851.0,680.8 L852.5,681.0 L854.0,681.1 L855.5,681.2 L857.0,681.3 L858.5,681.4 L860.0,681.2 L861.5,680.3 L863.0,679.1 L864.5,677.9 L866.0,676.8 L867.5,675.6 L869.0,674.4 L870.5,673.4 L872.0,672.5 L873.5,671.7 L875.0,670.9 L876.5,670.1 L878.0,669.3 L879.5,668.6 L881.0,668.1 L882.5,667.8 L884.0,667.6 L885.5,667.3 L887.0,667.3 L888.5,667.8 L890.0,668.4 L891.5,669.3 L893.0,670.9 L894.5,673.0 L896.0,674.7" fill="none" stroke="#1020e8" stroke-width="2.3" stroke-linejoin="round"/>
<line x1="1065.5" y1="24" x2="1065.5" y2="699.5" stroke="#000" stroke-width="1.5"/>
<line x1="1065" y1="527" x2="1065" y2="559" stroke="#0000ff" stroke-width="1.6"/>
<line x1="5" y1="699.3" x2="1066" y2="699.3" stroke="#000" stroke-width="1.6"/>
<path d="M30.5,699V704M61.0,699V704M92.5,699V704M123.0,699V704M155.5,699V704M189.0,699V704M223.0,699V704M254.5,699V704M286.0,699V704M319.0,699V704M351.5,699V704M382.0,699V704M413.0,699V704M444.5,699V704M480.0,699V704M509.0,699V704M544.0,699V704M577.5,699V704M608.0,699V704M642.5,699V704M674.5,699V704M704.5,699V704M732.0,699V704M762.5,699V704M792.5,699V704M825.5,699V704M856.0,699V704M885.5,699V704M920.5,699V704M953.0,699V704M984.5,699V704M1020.5,699V704M1052.0,699V704M319,699V705M704.5,699V705" stroke="#000" stroke-width="1.2"/>
<line x1="319.5" y1="704" x2="319.5" y2="732" stroke="#909090" stroke-width="1" shape-rendering="crispEdges"/>
<line x1="704.5" y1="704" x2="704.5" y2="732" stroke="#909090" stroke-width="1" shape-rendering="crispEdges"/>
<text x="1073.0" y="65.5" font-family='"Liberation Sans", sans-serif' font-size="13.0" fill="#000" font-weight="normal" font-style="normal" text-anchor="start" textLength="17.0" lengthAdjust="spacingAndGlyphs" >240</text>
<text x="1073.0" y="116.2" font-family='"Liberation Sans", sans-serif' font-size="13.0" fill="#000" font-weight="normal" font-style="normal" text-anchor="start" textLength="17.0" lengthAdjust="spacingAndGlyphs" >220</text>
<text x="1073.0" y="168.3" font-family='"Liberation Sans", sans-serif' font-size="13.0" fill="#000" font-weight="normal" font-style="normal" text-anchor="start" textLength="17.0" lengthAdjust="spacingAndGlyphs" >200</text>
<text x="1073.0" y="220.3" font-family='"Liberation Sans", sans-serif' font-size="13.0" fill="#000" font-weight="normal" font-style="normal" text-anchor="start" textLength="17.0" lengthAdjust="spacingAndGlyphs" >180</text>
<text x="1073.0" y="270.8" font-family='"Liberation Sans", sans-serif' font-size="13.0" fill="#000" font-weight="normal" font-style="normal" text-anchor="start" textLength="17.0" lengthAdjust="spacingAndGlyphs" >160</text>
<text x="1073.0" y="323.1" font-family='"Liberation Sans", sans-serif' font-size="13.0" fill="#000" font-weight="normal" font-style="normal" text-anchor="start" textLength="17.0" lengthAdjust="spacingAndGlyphs" >140</text>
<text x="1073.0" y="373.2" font-family='"Liberation Sans", sans-serif' font-size="13.0" fill="#000" font-weight="normal" font-style="normal" text-anchor="start" textLength="17.0" lengthAdjust="spacingAndGlyphs" >120</text>
<text x="1073.0" y="426.1" font-family='"Liberation Sans", sans-serif' font-size="13.0" fill="#000" font-weight="normal" font-style="normal" text-anchor="start" textLength="17.0" lengthAdjust="spacingAndGlyphs" >100</text>
<polygon points="1065,57.0 1072,60.5 1065,64.0" fill="#000"/><polygon points="1065,107.7 1072,111.2 1065,114.7" fill="#000"/><polygon points="1065,159.8 1072,163.3 1065,166.8" fill="#000"/><polygon points="1065,211.8 1072,215.3 1065,218.8" fill="#000"/><polygon points="1065,262.3 1072,265.8 1065,269.3" fill="#000"/><polygon points="1065,314.6 1072,318.1 1065,321.6" fill="#000"/><polygon points="1065,364.7 1072,368.2 1065,371.7" fill="#000"/><polygon points="1065,417.6 1072,421.1 1065,424.6" fill="#000"/><line x1="1065" y1="35.5" x2="1070" y2="35.5" stroke="#000" stroke-width="1"/><line x1="1065" y1="86.0" x2="1070" y2="86.0" stroke="#000" stroke-width="1"/><line x1="1065" y1="137.0" x2="1070" y2="137.0" stroke="#000" stroke-width="1"/><line x1="1065" y1="189.5" x2="1070" y2="189.5" stroke="#000" stroke-width="1"/><line x1="1065" y1="240.5" x2="1070" y2="240.5" stroke="#000" stroke-width="1"/><line x1="1065" y1="292.0" x2="1070" y2="292.0" stroke="#000" stroke-width="1"/><line x1="1065" y1="343.5" x2="1070" y2="343.5" stroke="#000" stroke-width="1"/><line x1="1065" y1="395.0" x2="1070" y2="395.0" stroke="#000" stroke-width="1"/><line x1="1065" y1="447.0" x2="1070" y2="447.0" stroke="#000" stroke-width="1"/><polygon points="1065,475.8 1072,479.3 1065,482.8" fill="#000"/><line x1="1065" y1="493.3" x2="1070" y2="493.3" stroke="#000"/><polygon points="1065,527 1073,530 1065,533" fill="#0000ff"/><line x1="1065" y1="575.0" x2="1070" y2="575.0" stroke="#000" stroke-width="1"/><line x1="1065" y1="613.0" x2="1070" y2="613.0" stroke="#000" stroke-width="1"/><line x1="1065" y1="650.0" x2="1070" y2="650.0" stroke="#000" stroke-width="1"/><line x1="1065" y1="670.0" x2="1070" y2="670.0" stroke="#000" stroke-width="1"/><line x1="1065" y1="690.0" x2="1070" y2="690.0" stroke="#000" stroke-width="1"/><polygon points="1065,654.7 1072,658.2 1065,661.7" fill="#000"/>
<text x="1073.0" y="489.0" font-family='"Liberation Sans", sans-serif' font-size="13.0" fill="#000" font-weight="normal" font-style="normal" text-anchor="start" textLength="12.0" lengthAdjust="spacingAndGlyphs" >50</text>
<text x="1073.0" y="663.0" font-family='"Liberation Sans", sans-serif' font-size="13.0" fill="#000" font-weight="normal" font-style="normal" text-anchor="start" textLength="12.0" lengthAdjust="spacingAndGlyphs" >40</text>
<polygon points="1067,327.6 1072,318.6 1118,318.6 1118,336.5 1072,336.5" fill="#0000ff" stroke="#000" stroke-width="1"/>
<text x="1073.0" y="333.0" font-family='"Liberation Sans", sans-serif' font-size="13.5" fill="#fff" font-weight="normal" font-style="normal" text-anchor="start" textLength="42.0" lengthAdjust="spacingAndGlyphs" >136.1353</text>
<polygon points="1067,354.4 1072,345.7 1118,345.7 1118,363.1 1072,363.1" fill="#009a00" stroke="#000" stroke-width="1"/>
<text x="1073.0" y="359.6" font-family='"Liberation Sans", sans-serif' font-size="13.5" fill="#fff" font-weight="normal" font-style="normal" text-anchor="start" textLength="42.0" lengthAdjust="spacingAndGlyphs" >125.5274</text>
<polygon points="1067,373.4 1072,364.9 1118,364.9 1118,382.0 1072,382.0" fill="#ff0000" stroke="#000" stroke-width="1"/>
<text x="1073.0" y="382.0" font-family='"Liberation Sans", sans-serif' font-size="13.5" fill="#fff" font-weight="normal" font-style="normal" text-anchor="start" textLength="37.0" lengthAdjust="spacingAndGlyphs" >118.068</text>
<polygon points="1067,386.0 1072,376.3 1118,376.3 1118,395.7 1072,395.7" fill="#000000" stroke="#000" stroke-width="1"/>
<text x="1073.0" y="392.2" font-family='"Liberation Sans", sans-serif' font-size="13.5" fill="#fff" font-weight="normal" font-style="normal" text-anchor="start" textLength="30.0" lengthAdjust="spacingAndGlyphs" >113.46</text>
<polygon points="1067,503.7 1072,497.4 1118,497.4 1118,510.0 1072,510.0" fill="#ff8c00" stroke="#000" stroke-width="1"/>
<text x="1073.0" y="510.5" font-family='"Liberation Sans", sans-serif' font-size="13.5" fill="#000" font-weight="normal" font-style="normal" text-anchor="start" textLength="32.0" lengthAdjust="spacingAndGlyphs" >1.4782</text>
<polygon points="1067,515.2 1072,508.3 1118,508.3 1118,522.2 1072,522.2" fill="#1ec0f0" stroke="#000" stroke-width="1"/>
<text x="1073.0" y="523.5" font-family='"Liberation Sans", sans-serif' font-size="13.5" fill="#000" font-weight="normal" font-style="normal" text-anchor="start" textLength="40.0" lengthAdjust="spacingAndGlyphs" >-17.0407</text>
<polygon points="1067,553.8 1072,546.5 1118,546.5 1118,561.0 1072,561.0" fill="#0000ff" stroke="#000" stroke-width="1"/>
<text x="1073.0" y="563.0" font-family='"Liberation Sans", sans-serif' font-size="13.5" fill="#fff" font-weight="normal" font-style="normal" text-anchor="start" textLength="36.0" lengthAdjust="spacingAndGlyphs" >12.481M</text>
<polygon points="1067,587.0 1072,581.0 1118,581.0 1118,593.0 1072,593.0" fill="#00ee00" stroke="#000" stroke-width="1"/>
<text x="1073.0" y="595.0" font-family='"Liberation Sans", sans-serif' font-size="13.5" fill="#000" font-weight="normal" font-style="normal" text-anchor="start" textLength="30.0" lengthAdjust="spacingAndGlyphs" >1.1018</text>
<polygon points="1067,608.5 1072,603.0 1118,603.0 1118,614.0 1072,614.0" fill="#ff0000" stroke="#000" stroke-width="1"/>
<polygon points="1067,598.0 1072,590.0 1118,590.0 1118,606.0 1072,606.0" fill="#ffffff" stroke="#000" stroke-width="1"/>
<text x="1073.0" y="602.5" font-family='"Liberation Sans", sans-serif' font-size="13.5" fill="#000" font-weight="normal" font-style="normal" text-anchor="start" textLength="36.0" lengthAdjust="spacingAndGlyphs" >-1.1995</text>
<rect x="1071" y="666.5" width="47" height="3.5" fill="#0000ff" stroke="#000" stroke-width="0.6"/>
<polygon points="1067,679.2 1072,668.5 1118,668.5 1118,690.0 1072,690.0" fill="#00ee00" stroke="#000" stroke-width="1"/>
<text x="1073.0" y="686.5" font-family='"Liberation Sans", sans-serif' font-size="13.5" fill="#000" font-weight="normal" font-style="normal" text-anchor="start" textLength="36.0" lengthAdjust="spacingAndGlyphs" >21.7069</text>
<rect x="1066" y="470.0" width="52" height="4.0" fill="url(#gbar)"/>
<rect x="1066" y="522.0" width="52" height="4.0" fill="url(#gbar)"/>
<rect x="1066" y="560.5" width="52" height="3.5" fill="url(#gbar)"/>
<rect x="1066" y="637.0" width="52" height="4.0" fill="url(#gbar)"/>
<text x="5.5" y="714.5" font-family='"Liberation Sans", sans-serif' font-size="13.0" fill="#000" font-weight="normal" font-style="normal" text-anchor="start" textLength="17.0" lengthAdjust="spacingAndGlyphs" >Mar</text>
<text x="99.0" y="714.5" font-family='"Liberation Sans", sans-serif' font-size="13.0" fill="#000" font-weight="normal" font-style="normal" text-anchor="start" textLength="17.0" lengthAdjust="spacingAndGlyphs" >Jun</text>
<text x="197.5" y="714.5" font-family='"Liberation Sans", sans-serif' font-size="13.0" fill="#000" font-weight="normal" font-style="normal" text-anchor="start" textLength="17.0" lengthAdjust="spacingAndGlyphs" >Sep</text>
<text x="294.0" y="714.5" font-family='"Liberation Sans", sans-serif' font-size="13.0" fill="#000" font-weight="normal" font-style="normal" text-anchor="start" textLength="18.0" lengthAdjust="spacingAndGlyphs" >Dec</text>
<text x="389.0" y="714.5" font-family='"Liberation Sans", sans-serif' font-size="13.0" fill="#000" font-weight="normal" font-style="normal" text-anchor="start" textLength="17.0" lengthAdjust="spacingAndGlyphs" >Mar</text>
<text x="486.0" y="714.5" font-family='"Liberation Sans", sans-serif' font-size="13.0" fill="#000" font-weight="normal" font-style="normal" text-anchor="start" textLength="17.0" lengthAdjust="spacingAndGlyphs" >Jun</text>
<text x="584.0" y="714.5" font-family='"Liberation Sans", sans-serif' font-size="13.0" fill="#000" font-weight="normal" font-style="normal" text-anchor="start" textLength="17.0" lengthAdjust="spacingAndGlyphs" >Sep</text>
<text x="679.0" y="714.5" font-family='"Liberation Sans", sans-serif' font-size="13.0" fill="#000" font-weight="normal" font-style="normal" text-anchor="start" textLength="19.0" lengthAdjust="spacingAndGlyphs" >Dec</text>
<text x="768.0" y="714.5" font-family='"Liberation Sans", sans-serif' font-size="13.0" fill="#000" font-weight="normal" font-style="normal" text-anchor="start" textLength="17.0" lengthAdjust="spacingAndGlyphs" >Mar</text>
<text x="862.0" y="714.5" font-family='"Liberation Sans", sans-serif' font-size="13.0" fill="#000" font-weight="normal" font-style="normal" text-anchor="start" textLength="17.0" lengthAdjust="spacingAndGlyphs" >Jun</text>
<text x="960.5" y="714.5" font-family='"Liberation Sans", sans-serif' font-size="13.0" fill="#000" font-weight="normal" font-style="normal" text-anchor="start" textLength="17.0" lengthAdjust="spacingAndGlyphs" >Sep</text>
<text x="150.0" y="730.0" font-family='"Liberation Sans", sans-serif' font-size="13.0" fill="#000" font-weight="normal" font-style="normal" text-anchor="start" textLength="22.5" lengthAdjust="spacingAndGlyphs" >2011</text>
<text x="500.0" y="730.0" font-family='"Liberation Sans", sans-serif' font-size="13.0" fill="#000" font-weight="normal" font-style="normal" text-anchor="start" textLength="23.0" lengthAdjust="spacingAndGlyphs" >2012</text>
<text x="872.5" y="730.0" font-family='"Liberation Sans", sans-serif' font-size="13.0" fill="#000" font-weight="normal" font-style="normal" text-anchor="start" textLength="23.0" lengthAdjust="spacingAndGlyphs" >2013</text>
<text x="6.0" y="747.0" font-family='"Liberation Sans", sans-serif' font-size="12.5" fill="#000" font-weight="normal" font-style="normal" text-anchor="start" textLength="205.0" lengthAdjust="spacingAndGlyphs" >GAZP RX Equity (OAO Газпром) Graph 119</text>
<text x="281.0" y="747.0" font-family='"Liberation Sans", sans-serif' font-size="12.5" fill="#000" font-weight="normal" font-style="normal" text-anchor="start" textLength="136.0" lengthAdjust="spacingAndGlyphs" >День 11JAN2013-10JUL2013</text>
<text x="614.0" y="747.0" font-family='"Liberation Sans", sans-serif' font-size="12.5" fill="#000" font-weight="normal" font-style="normal" text-anchor="start" textLength="198.0" lengthAdjust="spacingAndGlyphs" >Copyright© 2013 Bloomberg Finance L.P.</text>
<text x="1115.0" y="747.0" font-family='"Liberation Sans", sans-serif' font-size="12.5" fill="#000" font-weight="normal" font-style="normal" text-anchor="end" textLength="104.0" lengthAdjust="spacingAndGlyphs" >10-Jul-2013  14:21:18</text>
<rect x="0" y="760" width="1120" height="28" fill="#424242"/>
<text x="10.5" y="778" font-family='"Liberation Sans", sans-serif' font-size="13" fill="#e6e6e6" textLength="248.5" lengthAdjust="spacing">Элитный Трейдер, ELITETRADER.RU</text>
<polygon points="1004,764.5 1012.5,772 1008,772 1008,781 1000,781 1000,772 995.5,772" fill="#7cc43a"/>
<rect x="995.5" y="776" width="8" height="5" fill="#f06a1a"/>
<text x="1017.0" y="779.5" font-family='"Liberation Sans", sans-serif' font-size="15.5" fill="#ffffff" font-weight="bold" font-style="normal" text-anchor="start" textLength="22.0" lengthAdjust="spacingAndGlyphs" >clip</text>
<circle cx="1047" cy="773.5" r="8" fill="#f39a1e"/>
<text x="1042.0" y="779.5" font-family='"Liberation Sans", sans-serif' font-size="14.0" fill="#ffffff" font-weight="bold" font-style="normal" text-anchor="start" textLength="10.0" lengthAdjust="spacingAndGlyphs" >2</text>
<text x="1055.5" y="779.5" font-family='"Liberation Sans", sans-serif' font-size="15.5" fill="#ffffff" font-weight="bold" font-style="normal" text-anchor="start" textLength="20.0" lengthAdjust="spacingAndGlyphs" >net</text>
<text x="1076.0" y="779.5" font-family='"Liberation Sans", sans-serif' font-size="15.5" fill="#8c8c8c" font-weight="bold" font-style="normal" text-anchor="start" textLength="34.5" lengthAdjust="spacingAndGlyphs" >.com</text>
</svg></body></html>
